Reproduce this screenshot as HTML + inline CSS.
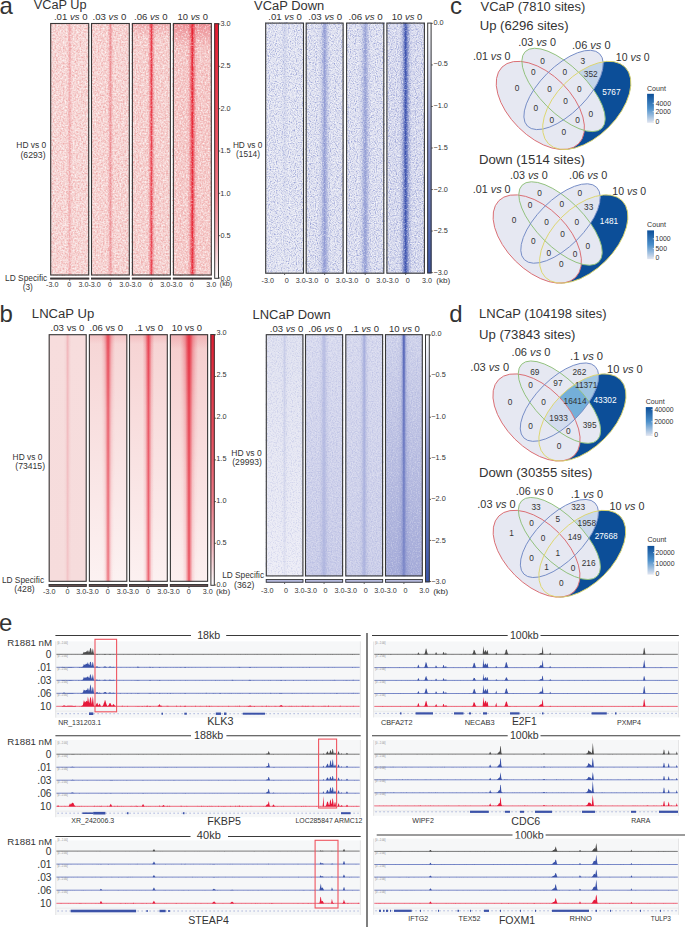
<!DOCTYPE html>
<html><head><meta charset="utf-8"><style>html,body{margin:0;padding:0;background:#fff;}svg{display:block;font-family:"Liberation Sans",sans-serif;}</style></head>
<body><svg width="685" height="927" viewBox="0 0 685 927"><defs><linearGradient id="g1" x1="0" y1="0" x2="0" y2="1"><stop offset="0" stop-color="#f6d6d5" stop-opacity="1"/><stop offset="1" stop-color="#f6d5d4" stop-opacity="1"/></linearGradient><filter id="nw0w" x="0" y="0" width="1" height="1" color-interpolation-filters="sRGB"><feTurbulence type="fractalNoise" baseFrequency="0.6" numOctaves="2" seed="3"/><feColorMatrix type="matrix" values="0 0 0 0 1  0 0 0 0 1  0 0 0 0 1  2.2 0 0 0 -1.1"/></filter><filter id="nw0d" x="0" y="0" width="1" height="1" color-interpolation-filters="sRGB"><feTurbulence type="fractalNoise" baseFrequency="0.6" numOctaves="2" seed="3"/><feColorMatrix type="matrix" values="0 0 0 0 0.925  0 0 0 0 0.612  0 0 0 0 0.612  -2.2 0 0 0 1.1"/></filter><linearGradient id="g3" x1="0" y1="0" x2="0" y2="1"><stop offset="0" stop-color="#fff" stop-opacity="0.6"/><stop offset="1" stop-color="#fff" stop-opacity="0.5"/></linearGradient><mask id="m2" maskContentUnits="userSpaceOnUse"><rect x="65.70" y="23.0" width="8.00" height="252.5" fill="url(#g3)"/></mask><linearGradient id="g4" x1="0" y1="0" x2="1" y2="0"><stop offset="0" stop-color="#eb8a8f" stop-opacity="0"/><stop offset="0.22" stop-color="#eb8a8f" stop-opacity="0.12"/><stop offset="0.38" stop-color="#eb8a8f" stop-opacity="0.55"/><stop offset="0.5" stop-color="#eb8a8f" stop-opacity="1"/><stop offset="0.62" stop-color="#eb8a8f" stop-opacity="0.55"/><stop offset="0.78" stop-color="#eb8a8f" stop-opacity="0.12"/><stop offset="1" stop-color="#eb8a8f" stop-opacity="0"/></linearGradient><filter id="nw1w" x="0" y="0" width="1" height="1" color-interpolation-filters="sRGB"><feTurbulence type="fractalNoise" baseFrequency="0.6" numOctaves="2" seed="11"/><feColorMatrix type="matrix" values="0 0 0 0 1  0 0 0 0 1  0 0 0 0 1  1.4 0 0 0 -0.7"/></filter><filter id="nw1d" x="0" y="0" width="1" height="1" color-interpolation-filters="sRGB"><feTurbulence type="fractalNoise" baseFrequency="0.6" numOctaves="2" seed="11"/><feColorMatrix type="matrix" values="0 0 0 0 0.925  0 0 0 0 0.612  0 0 0 0 0.612  -1.4 0 0 0 0.7"/></filter><linearGradient id="g5" x1="0" y1="0" x2="0" y2="1"><stop offset="0" stop-color="#f6d4d3" stop-opacity="1"/><stop offset="1" stop-color="#f6d3d2" stop-opacity="1"/></linearGradient><linearGradient id="g7" x1="0" y1="0" x2="0" y2="1"><stop offset="0" stop-color="#fff" stop-opacity="0.75"/><stop offset="1" stop-color="#fff" stop-opacity="0.65"/></linearGradient><mask id="m6" maskContentUnits="userSpaceOnUse"><rect x="106.20" y="23.0" width="8.40" height="252.5" fill="url(#g7)"/></mask><linearGradient id="g8" x1="0" y1="0" x2="1" y2="0"><stop offset="0" stop-color="#e8737a" stop-opacity="0"/><stop offset="0.22" stop-color="#e8737a" stop-opacity="0.12"/><stop offset="0.38" stop-color="#e8737a" stop-opacity="0.55"/><stop offset="0.5" stop-color="#e8737a" stop-opacity="1"/><stop offset="0.62" stop-color="#e8737a" stop-opacity="0.55"/><stop offset="0.78" stop-color="#e8737a" stop-opacity="0.12"/><stop offset="1" stop-color="#e8737a" stop-opacity="0"/></linearGradient><linearGradient id="g9" x1="0" y1="0" x2="0" y2="1"><stop offset="0" stop-color="#f5cfce" stop-opacity="1"/><stop offset="1" stop-color="#f5d1d0" stop-opacity="1"/></linearGradient><linearGradient id="g10" x1="0" y1="0" x2="0" y2="1"><stop offset="0" stop-color="#e8707c" stop-opacity="0.35"/><stop offset="1" stop-color="#e8707c" stop-opacity="0"/></linearGradient><linearGradient id="g12" x1="0" y1="0" x2="0" y2="1"><stop offset="0" stop-color="#fff" stop-opacity="0.95"/><stop offset="1" stop-color="#fff" stop-opacity="0.85"/></linearGradient><mask id="m11" maskContentUnits="userSpaceOnUse"><rect x="146.80" y="23.0" width="9.20" height="252.5" fill="url(#g12)"/></mask><linearGradient id="g13" x1="0" y1="0" x2="1" y2="0"><stop offset="0" stop-color="#e82838" stop-opacity="0"/><stop offset="0.22" stop-color="#e82838" stop-opacity="0.12"/><stop offset="0.38" stop-color="#e82838" stop-opacity="0.55"/><stop offset="0.5" stop-color="#e82838" stop-opacity="1"/><stop offset="0.62" stop-color="#e82838" stop-opacity="0.55"/><stop offset="0.78" stop-color="#e82838" stop-opacity="0.12"/><stop offset="1" stop-color="#e82838" stop-opacity="0"/></linearGradient><linearGradient id="g14" x1="0" y1="0" x2="0" y2="1"><stop offset="0" stop-color="#f4c6c6" stop-opacity="1"/><stop offset="1" stop-color="#f5cccb" stop-opacity="1"/></linearGradient><linearGradient id="g15" x1="0" y1="0" x2="0" y2="1"><stop offset="0" stop-color="#e55a68" stop-opacity="0.55"/><stop offset="1" stop-color="#e55a68" stop-opacity="0"/></linearGradient><linearGradient id="g17" x1="0" y1="0" x2="0" y2="1"><stop offset="0" stop-color="#fff" stop-opacity="1"/><stop offset="1" stop-color="#fff" stop-opacity="0.95"/></linearGradient><mask id="m16" maskContentUnits="userSpaceOnUse"><rect x="186.55" y="23.0" width="11.60" height="252.5" fill="url(#g17)"/></mask><linearGradient id="g18" x1="0" y1="0" x2="1" y2="0"><stop offset="0" stop-color="#e61e2e" stop-opacity="0"/><stop offset="0.22" stop-color="#e61e2e" stop-opacity="0.12"/><stop offset="0.38" stop-color="#e61e2e" stop-opacity="0.55"/><stop offset="0.5" stop-color="#e61e2e" stop-opacity="1"/><stop offset="0.62" stop-color="#e61e2e" stop-opacity="0.55"/><stop offset="0.78" stop-color="#e61e2e" stop-opacity="0.12"/><stop offset="1" stop-color="#e61e2e" stop-opacity="0"/></linearGradient><linearGradient id="g19" x1="0" y1="0" x2="0" y2="1"><stop offset="0" stop-color="#e31a2f" stop-opacity="1"/><stop offset="0.33" stop-color="#e84454" stop-opacity="1"/><stop offset="0.5" stop-color="#ec5a69" stop-opacity="1"/><stop offset="0.67" stop-color="#f07c88" stop-opacity="1"/><stop offset="0.83" stop-color="#f5b0b7" stop-opacity="1"/><stop offset="1" stop-color="#ffffff" stop-opacity="1"/></linearGradient><linearGradient id="g20" x1="0" y1="0" x2="0" y2="1"><stop offset="0" stop-color="#e1e3f1" stop-opacity="1"/><stop offset="1" stop-color="#e0e2f0" stop-opacity="1"/></linearGradient><filter id="nw2w" x="0" y="0" width="1" height="1" color-interpolation-filters="sRGB"><feTurbulence type="fractalNoise" baseFrequency="0.85" numOctaves="2" seed="3"/><feColorMatrix type="matrix" values="0 0 0 0 1  0 0 0 0 1  0 0 0 0 1  2.4 0 0 0 -1.2"/></filter><filter id="nw2d" x="0" y="0" width="1" height="1" color-interpolation-filters="sRGB"><feTurbulence type="fractalNoise" baseFrequency="0.85" numOctaves="2" seed="3"/><feColorMatrix type="matrix" values="0 0 0 0 0.557  0 0 0 0 0.596  0 0 0 0 0.824  -2.4 0 0 0 1.2"/></filter><linearGradient id="g22" x1="0" y1="0" x2="0" y2="1"><stop offset="0" stop-color="#fff" stop-opacity="0.55"/><stop offset="1" stop-color="#fff" stop-opacity="0.1"/></linearGradient><mask id="m21" maskContentUnits="userSpaceOnUse"><rect x="278.60" y="22.6" width="12.00" height="251.1" fill="url(#g22)"/></mask><linearGradient id="g23" x1="0" y1="0" x2="1" y2="0"><stop offset="0" stop-color="#b9c0e2" stop-opacity="0"/><stop offset="0.22" stop-color="#b9c0e2" stop-opacity="0.12"/><stop offset="0.38" stop-color="#b9c0e2" stop-opacity="0.55"/><stop offset="0.5" stop-color="#b9c0e2" stop-opacity="1"/><stop offset="0.62" stop-color="#b9c0e2" stop-opacity="0.55"/><stop offset="0.78" stop-color="#b9c0e2" stop-opacity="0.12"/><stop offset="1" stop-color="#b9c0e2" stop-opacity="0"/></linearGradient><filter id="nw3w" x="0" y="0" width="1" height="1" color-interpolation-filters="sRGB"><feTurbulence type="fractalNoise" baseFrequency="0.85" numOctaves="2" seed="11"/><feColorMatrix type="matrix" values="0 0 0 0 1  0 0 0 0 1  0 0 0 0 1  1.6 0 0 0 -0.8"/></filter><filter id="nw3d" x="0" y="0" width="1" height="1" color-interpolation-filters="sRGB"><feTurbulence type="fractalNoise" baseFrequency="0.85" numOctaves="2" seed="11"/><feColorMatrix type="matrix" values="0 0 0 0 0.557  0 0 0 0 0.596  0 0 0 0 0.824  -1.6 0 0 0 0.8"/></filter><linearGradient id="g24" x1="0" y1="0" x2="0" y2="1"><stop offset="0" stop-color="#dfe1f0" stop-opacity="1"/><stop offset="1" stop-color="#dddfef" stop-opacity="1"/></linearGradient><linearGradient id="g26" x1="0" y1="0" x2="0" y2="1"><stop offset="0" stop-color="#fff" stop-opacity="0.25"/><stop offset="1" stop-color="#fff" stop-opacity="0.55"/></linearGradient><mask id="m25" maskContentUnits="userSpaceOnUse"><rect x="318.15" y="22.6" width="13.00" height="251.1" fill="url(#g26)"/></mask><linearGradient id="g27" x1="0" y1="0" x2="1" y2="0"><stop offset="0" stop-color="#97a1d6" stop-opacity="0"/><stop offset="0.25" stop-color="#97a1d6" stop-opacity="0.35"/><stop offset="0.5" stop-color="#97a1d6" stop-opacity="1"/><stop offset="0.75" stop-color="#97a1d6" stop-opacity="0.35"/><stop offset="1" stop-color="#97a1d6" stop-opacity="0"/></linearGradient><linearGradient id="g29" x1="0" y1="0" x2="0" y2="1"><stop offset="0" stop-color="#fff" stop-opacity="0.8"/><stop offset="1" stop-color="#fff" stop-opacity="0.8"/></linearGradient><mask id="m28" maskContentUnits="userSpaceOnUse"><rect x="318.05" y="22.6" width="13.20" height="251.1" fill="url(#g29)"/></mask><linearGradient id="g30" x1="0" y1="0" x2="1" y2="0"><stop offset="0" stop-color="#8590cf" stop-opacity="0"/><stop offset="0.22" stop-color="#8590cf" stop-opacity="0.12"/><stop offset="0.38" stop-color="#8590cf" stop-opacity="0.55"/><stop offset="0.5" stop-color="#8590cf" stop-opacity="1"/><stop offset="0.62" stop-color="#8590cf" stop-opacity="0.55"/><stop offset="0.78" stop-color="#8590cf" stop-opacity="0.12"/><stop offset="1" stop-color="#8590cf" stop-opacity="0"/></linearGradient><linearGradient id="g31" x1="0" y1="0" x2="0" y2="1"><stop offset="0" stop-color="#dee0f0" stop-opacity="1"/><stop offset="1" stop-color="#dcdeef" stop-opacity="1"/></linearGradient><linearGradient id="g33" x1="0" y1="0" x2="0" y2="1"><stop offset="0" stop-color="#fff" stop-opacity="0.25"/><stop offset="1" stop-color="#fff" stop-opacity="0.55"/></linearGradient><mask id="m32" maskContentUnits="userSpaceOnUse"><rect x="358.70" y="22.6" width="13.00" height="251.1" fill="url(#g33)"/></mask><linearGradient id="g34" x1="0" y1="0" x2="1" y2="0"><stop offset="0" stop-color="#97a1d6" stop-opacity="0"/><stop offset="0.25" stop-color="#97a1d6" stop-opacity="0.35"/><stop offset="0.5" stop-color="#97a1d6" stop-opacity="1"/><stop offset="0.75" stop-color="#97a1d6" stop-opacity="0.35"/><stop offset="1" stop-color="#97a1d6" stop-opacity="0"/></linearGradient><linearGradient id="g36" x1="0" y1="0" x2="0" y2="1"><stop offset="0" stop-color="#fff" stop-opacity="0.8"/><stop offset="1" stop-color="#fff" stop-opacity="0.8"/></linearGradient><mask id="m35" maskContentUnits="userSpaceOnUse"><rect x="358.60" y="22.6" width="13.20" height="251.1" fill="url(#g36)"/></mask><linearGradient id="g37" x1="0" y1="0" x2="1" y2="0"><stop offset="0" stop-color="#8691cf" stop-opacity="0"/><stop offset="0.22" stop-color="#8691cf" stop-opacity="0.12"/><stop offset="0.38" stop-color="#8691cf" stop-opacity="0.55"/><stop offset="0.5" stop-color="#8691cf" stop-opacity="1"/><stop offset="0.62" stop-color="#8691cf" stop-opacity="0.55"/><stop offset="0.78" stop-color="#8691cf" stop-opacity="0.12"/><stop offset="1" stop-color="#8691cf" stop-opacity="0"/></linearGradient><linearGradient id="g38" x1="0" y1="0" x2="0" y2="1"><stop offset="0" stop-color="#d8daee" stop-opacity="1"/><stop offset="1" stop-color="#d6d9ed" stop-opacity="1"/></linearGradient><linearGradient id="g40" x1="0" y1="0" x2="0" y2="1"><stop offset="0" stop-color="#fff" stop-opacity="0.35"/><stop offset="1" stop-color="#fff" stop-opacity="0.6"/></linearGradient><mask id="m39" maskContentUnits="userSpaceOnUse"><rect x="399.15" y="22.6" width="13.00" height="251.1" fill="url(#g40)"/></mask><linearGradient id="g41" x1="0" y1="0" x2="1" y2="0"><stop offset="0" stop-color="#6c7bc4" stop-opacity="0"/><stop offset="0.25" stop-color="#6c7bc4" stop-opacity="0.35"/><stop offset="0.5" stop-color="#6c7bc4" stop-opacity="1"/><stop offset="0.75" stop-color="#6c7bc4" stop-opacity="0.35"/><stop offset="1" stop-color="#6c7bc4" stop-opacity="0"/></linearGradient><linearGradient id="g43" x1="0" y1="0" x2="0" y2="1"><stop offset="0" stop-color="#fff" stop-opacity="1"/><stop offset="1" stop-color="#fff" stop-opacity="1"/></linearGradient><mask id="m42" maskContentUnits="userSpaceOnUse"><rect x="399.45" y="22.6" width="12.40" height="251.1" fill="url(#g43)"/></mask><linearGradient id="g44" x1="0" y1="0" x2="1" y2="0"><stop offset="0" stop-color="#3a50ad" stop-opacity="0"/><stop offset="0.22" stop-color="#3a50ad" stop-opacity="0.12"/><stop offset="0.38" stop-color="#3a50ad" stop-opacity="0.55"/><stop offset="0.5" stop-color="#3a50ad" stop-opacity="1"/><stop offset="0.62" stop-color="#3a50ad" stop-opacity="0.55"/><stop offset="0.78" stop-color="#3a50ad" stop-opacity="0.12"/><stop offset="1" stop-color="#3a50ad" stop-opacity="0"/></linearGradient><linearGradient id="g45" x1="0" y1="0" x2="0" y2="1"><stop offset="0" stop-color="#ffffff" stop-opacity="1"/><stop offset="0.5" stop-color="#8791cb" stop-opacity="1"/><stop offset="1" stop-color="#3752a6" stop-opacity="1"/></linearGradient><linearGradient id="g46" x1="0" y1="0" x2="0" y2="1"><stop offset="0" stop-color="#f7dddd" stop-opacity="1"/><stop offset="1" stop-color="#f6dcdc" stop-opacity="1"/></linearGradient><linearGradient id="g48" x1="0" y1="0" x2="0" y2="1"><stop offset="0" stop-color="#fff" stop-opacity="0.8"/><stop offset="1" stop-color="#fff" stop-opacity="0.5"/></linearGradient><mask id="m47" maskContentUnits="userSpaceOnUse"><rect x="63.70" y="334.2" width="8.00" height="247.59999999999997" fill="url(#g48)"/></mask><linearGradient id="g49" x1="0" y1="0" x2="1" y2="0"><stop offset="0" stop-color="#eeaab0" stop-opacity="0"/><stop offset="0.22" stop-color="#eeaab0" stop-opacity="0.12"/><stop offset="0.38" stop-color="#eeaab0" stop-opacity="0.55"/><stop offset="0.5" stop-color="#eeaab0" stop-opacity="1"/><stop offset="0.62" stop-color="#eeaab0" stop-opacity="0.55"/><stop offset="0.78" stop-color="#eeaab0" stop-opacity="0.12"/><stop offset="1" stop-color="#eeaab0" stop-opacity="0"/></linearGradient><linearGradient id="g50" x1="0" y1="0" x2="0" y2="1"><stop offset="0" stop-color="#f6d5d5" stop-opacity="1"/><stop offset="1" stop-color="#fcf2f2" stop-opacity="1"/></linearGradient><linearGradient id="g51" x1="0" y1="0" x2="0" y2="1"><stop offset="0" stop-color="#e8707c" stop-opacity="0.2"/><stop offset="1" stop-color="#e8707c" stop-opacity="0"/></linearGradient><linearGradient id="g53" x1="0" y1="0" x2="0" y2="1"><stop offset="0" stop-color="#fff" stop-opacity="0.9"/><stop offset="0.08" stop-color="#fff" stop-opacity="0.6"/><stop offset="0.3" stop-color="#fff" stop-opacity="0.3"/><stop offset="0.7" stop-color="#fff" stop-opacity="0.1"/><stop offset="1" stop-color="#fff" stop-opacity="0.05"/></linearGradient><mask id="m52" maskContentUnits="userSpaceOnUse"><rect x="101.10" y="334.2" width="14.00" height="247.59999999999997" fill="url(#g53)"/></mask><linearGradient id="g54" x1="0" y1="0" x2="1" y2="0"><stop offset="0" stop-color="#ea6672" stop-opacity="0"/><stop offset="0.25" stop-color="#ea6672" stop-opacity="0.35"/><stop offset="0.5" stop-color="#ea6672" stop-opacity="1"/><stop offset="0.75" stop-color="#ea6672" stop-opacity="0.35"/><stop offset="1" stop-color="#ea6672" stop-opacity="0"/></linearGradient><linearGradient id="g56" x1="0" y1="0" x2="0" y2="1"><stop offset="0" stop-color="#fff" stop-opacity="1"/><stop offset="0.3" stop-color="#fff" stop-opacity="0.85"/><stop offset="1" stop-color="#fff" stop-opacity="0.75"/></linearGradient><mask id="m55" maskContentUnits="userSpaceOnUse"><rect x="103.10" y="334.2" width="10.00" height="247.59999999999997" fill="url(#g56)"/></mask><linearGradient id="g57" x1="0" y1="0" x2="1" y2="0"><stop offset="0" stop-color="#e84a58" stop-opacity="0"/><stop offset="0.22" stop-color="#e84a58" stop-opacity="0.12"/><stop offset="0.38" stop-color="#e84a58" stop-opacity="0.55"/><stop offset="0.5" stop-color="#e84a58" stop-opacity="1"/><stop offset="0.62" stop-color="#e84a58" stop-opacity="0.55"/><stop offset="0.78" stop-color="#e84a58" stop-opacity="0.12"/><stop offset="1" stop-color="#e84a58" stop-opacity="0"/></linearGradient><linearGradient id="g58" x1="0" y1="0" x2="0" y2="1"><stop offset="0" stop-color="#f6d3d3" stop-opacity="1"/><stop offset="1" stop-color="#fcf1f1" stop-opacity="1"/></linearGradient><linearGradient id="g59" x1="0" y1="0" x2="0" y2="1"><stop offset="0" stop-color="#e8707c" stop-opacity="0.22"/><stop offset="1" stop-color="#e8707c" stop-opacity="0"/></linearGradient><linearGradient id="g61" x1="0" y1="0" x2="0" y2="1"><stop offset="0" stop-color="#fff" stop-opacity="0.8"/><stop offset="0.08" stop-color="#fff" stop-opacity="0.5"/><stop offset="0.3" stop-color="#fff" stop-opacity="0.3"/><stop offset="0.7" stop-color="#fff" stop-opacity="0.1"/><stop offset="1" stop-color="#fff" stop-opacity="0.05"/></linearGradient><mask id="m60" maskContentUnits="userSpaceOnUse"><rect x="142.40" y="334.2" width="12.00" height="247.59999999999997" fill="url(#g61)"/></mask><linearGradient id="g62" x1="0" y1="0" x2="1" y2="0"><stop offset="0" stop-color="#ea6672" stop-opacity="0"/><stop offset="0.25" stop-color="#ea6672" stop-opacity="0.35"/><stop offset="0.5" stop-color="#ea6672" stop-opacity="1"/><stop offset="0.75" stop-color="#ea6672" stop-opacity="0.35"/><stop offset="1" stop-color="#ea6672" stop-opacity="0"/></linearGradient><linearGradient id="g64" x1="0" y1="0" x2="0" y2="1"><stop offset="0" stop-color="#fff" stop-opacity="1"/><stop offset="0.3" stop-color="#fff" stop-opacity="0.85"/><stop offset="1" stop-color="#fff" stop-opacity="0.8"/></linearGradient><mask id="m63" maskContentUnits="userSpaceOnUse"><rect x="143.00" y="334.2" width="10.80" height="247.59999999999997" fill="url(#g64)"/></mask><linearGradient id="g65" x1="0" y1="0" x2="1" y2="0"><stop offset="0" stop-color="#e84252" stop-opacity="0"/><stop offset="0.22" stop-color="#e84252" stop-opacity="0.12"/><stop offset="0.38" stop-color="#e84252" stop-opacity="0.55"/><stop offset="0.5" stop-color="#e84252" stop-opacity="1"/><stop offset="0.62" stop-color="#e84252" stop-opacity="0.55"/><stop offset="0.78" stop-color="#e84252" stop-opacity="0.12"/><stop offset="1" stop-color="#e84252" stop-opacity="0"/></linearGradient><linearGradient id="g66" x1="0" y1="0" x2="0" y2="1"><stop offset="0" stop-color="#f5cdcd" stop-opacity="1"/><stop offset="1" stop-color="#fcf0f0" stop-opacity="1"/></linearGradient><linearGradient id="g67" x1="0" y1="0" x2="0" y2="1"><stop offset="0" stop-color="#e8707c" stop-opacity="0.3"/><stop offset="1" stop-color="#e8707c" stop-opacity="0"/></linearGradient><linearGradient id="g69" x1="0" y1="0" x2="0" y2="1"><stop offset="0" stop-color="#fff" stop-opacity="1"/><stop offset="0.1" stop-color="#fff" stop-opacity="0.8"/><stop offset="0.3" stop-color="#fff" stop-opacity="0.45"/><stop offset="0.6" stop-color="#fff" stop-opacity="0.2"/><stop offset="1" stop-color="#fff" stop-opacity="0.08"/></linearGradient><mask id="m68" maskContentUnits="userSpaceOnUse"><rect x="180.00" y="334.2" width="18.00" height="247.59999999999997" fill="url(#g69)"/></mask><linearGradient id="g70" x1="0" y1="0" x2="1" y2="0"><stop offset="0" stop-color="#e8505e" stop-opacity="0"/><stop offset="0.25" stop-color="#e8505e" stop-opacity="0.35"/><stop offset="0.5" stop-color="#e8505e" stop-opacity="1"/><stop offset="0.75" stop-color="#e8505e" stop-opacity="0.35"/><stop offset="1" stop-color="#e8505e" stop-opacity="0"/></linearGradient><linearGradient id="g72" x1="0" y1="0" x2="0" y2="1"><stop offset="0" stop-color="#fff" stop-opacity="1"/><stop offset="0.3" stop-color="#fff" stop-opacity="0.9"/><stop offset="1" stop-color="#fff" stop-opacity="0.85"/></linearGradient><mask id="m71" maskContentUnits="userSpaceOnUse"><rect x="182.80" y="334.2" width="12.40" height="247.59999999999997" fill="url(#g72)"/></mask><linearGradient id="g73" x1="0" y1="0" x2="1" y2="0"><stop offset="0" stop-color="#e63444" stop-opacity="0"/><stop offset="0.22" stop-color="#e63444" stop-opacity="0.12"/><stop offset="0.38" stop-color="#e63444" stop-opacity="0.55"/><stop offset="0.5" stop-color="#e63444" stop-opacity="1"/><stop offset="0.62" stop-color="#e63444" stop-opacity="0.55"/><stop offset="0.78" stop-color="#e63444" stop-opacity="0.12"/><stop offset="1" stop-color="#e63444" stop-opacity="0"/></linearGradient><linearGradient id="g74" x1="0" y1="0" x2="0" y2="1"><stop offset="0" stop-color="#e31a2f" stop-opacity="1"/><stop offset="0.33" stop-color="#e84454" stop-opacity="1"/><stop offset="0.5" stop-color="#ec5a69" stop-opacity="1"/><stop offset="0.67" stop-color="#f07c88" stop-opacity="1"/><stop offset="0.83" stop-color="#f5b0b7" stop-opacity="1"/><stop offset="1" stop-color="#ffffff" stop-opacity="1"/></linearGradient><linearGradient id="g75" x1="0" y1="0" x2="0" y2="1"><stop offset="0" stop-color="#dfe1f0" stop-opacity="1"/><stop offset="1" stop-color="#ececf6" stop-opacity="1"/></linearGradient><filter id="nw4w" x="0" y="0" width="1" height="1" color-interpolation-filters="sRGB"><feTurbulence type="fractalNoise" baseFrequency="0.8" numOctaves="2" seed="3"/><feColorMatrix type="matrix" values="0 0 0 0 1  0 0 0 0 1  0 0 0 0 1  0.9 0 0 0 -0.45"/></filter><filter id="nw4d" x="0" y="0" width="1" height="1" color-interpolation-filters="sRGB"><feTurbulence type="fractalNoise" baseFrequency="0.8" numOctaves="2" seed="3"/><feColorMatrix type="matrix" values="0 0 0 0 0.557  0 0 0 0 0.596  0 0 0 0 0.824  -0.9 0 0 0 0.45"/></filter><linearGradient id="g77" x1="0" y1="0" x2="0" y2="1"><stop offset="0" stop-color="#fff" stop-opacity="0.7"/><stop offset="1" stop-color="#fff" stop-opacity="0.25"/></linearGradient><mask id="m76" maskContentUnits="userSpaceOnUse"><rect x="281.00" y="334.2" width="7.20" height="242.2" fill="url(#g77)"/></mask><linearGradient id="g78" x1="0" y1="0" x2="1" y2="0"><stop offset="0" stop-color="#bcc2e4" stop-opacity="0"/><stop offset="0.22" stop-color="#bcc2e4" stop-opacity="0.12"/><stop offset="0.38" stop-color="#bcc2e4" stop-opacity="0.55"/><stop offset="0.5" stop-color="#bcc2e4" stop-opacity="1"/><stop offset="0.62" stop-color="#bcc2e4" stop-opacity="0.55"/><stop offset="0.78" stop-color="#bcc2e4" stop-opacity="0.12"/><stop offset="1" stop-color="#bcc2e4" stop-opacity="0"/></linearGradient><linearGradient id="g79" x1="0" y1="0" x2="0" y2="1"><stop offset="0" stop-color="#d9dbef" stop-opacity="1"/><stop offset="1" stop-color="#c8cbe8" stop-opacity="1"/></linearGradient><linearGradient id="g81" x1="0" y1="0" x2="0" y2="1"><stop offset="0" stop-color="#fff" stop-opacity="0.3"/><stop offset="1" stop-color="#fff" stop-opacity="0.5"/></linearGradient><mask id="m80" maskContentUnits="userSpaceOnUse"><rect x="319.05" y="334.2" width="10.00" height="242.2" fill="url(#g81)"/></mask><linearGradient id="g82" x1="0" y1="0" x2="1" y2="0"><stop offset="0" stop-color="#9ea6d8" stop-opacity="0"/><stop offset="0.25" stop-color="#9ea6d8" stop-opacity="0.35"/><stop offset="0.5" stop-color="#9ea6d8" stop-opacity="1"/><stop offset="0.75" stop-color="#9ea6d8" stop-opacity="0.35"/><stop offset="1" stop-color="#9ea6d8" stop-opacity="0"/></linearGradient><linearGradient id="g84" x1="0" y1="0" x2="0" y2="1"><stop offset="0" stop-color="#fff" stop-opacity="0.6"/><stop offset="1" stop-color="#fff" stop-opacity="0.4"/></linearGradient><mask id="m83" maskContentUnits="userSpaceOnUse"><rect x="319.65" y="334.2" width="8.80" height="242.2" fill="url(#g84)"/></mask><linearGradient id="g85" x1="0" y1="0" x2="1" y2="0"><stop offset="0" stop-color="#aab1de" stop-opacity="0"/><stop offset="0.22" stop-color="#aab1de" stop-opacity="0.12"/><stop offset="0.38" stop-color="#aab1de" stop-opacity="0.55"/><stop offset="0.5" stop-color="#aab1de" stop-opacity="1"/><stop offset="0.62" stop-color="#aab1de" stop-opacity="0.55"/><stop offset="0.78" stop-color="#aab1de" stop-opacity="0.12"/><stop offset="1" stop-color="#aab1de" stop-opacity="0"/></linearGradient><linearGradient id="g86" x1="0" y1="0" x2="0" y2="1"><stop offset="0" stop-color="#d7d9ee" stop-opacity="1"/><stop offset="1" stop-color="#cbcee9" stop-opacity="1"/></linearGradient><linearGradient id="g88" x1="0" y1="0" x2="0" y2="1"><stop offset="0" stop-color="#fff" stop-opacity="0.3"/><stop offset="1" stop-color="#fff" stop-opacity="0.4"/></linearGradient><mask id="m87" maskContentUnits="userSpaceOnUse"><rect x="359.20" y="334.2" width="10.00" height="242.2" fill="url(#g88)"/></mask><linearGradient id="g89" x1="0" y1="0" x2="1" y2="0"><stop offset="0" stop-color="#9ea6d8" stop-opacity="0"/><stop offset="0.25" stop-color="#9ea6d8" stop-opacity="0.35"/><stop offset="0.5" stop-color="#9ea6d8" stop-opacity="1"/><stop offset="0.75" stop-color="#9ea6d8" stop-opacity="0.35"/><stop offset="1" stop-color="#9ea6d8" stop-opacity="0"/></linearGradient><linearGradient id="g91" x1="0" y1="0" x2="0" y2="1"><stop offset="0" stop-color="#fff" stop-opacity="0.8"/><stop offset="1" stop-color="#fff" stop-opacity="0.45"/></linearGradient><mask id="m90" maskContentUnits="userSpaceOnUse"><rect x="360.20" y="334.2" width="8.00" height="242.2" fill="url(#g91)"/></mask><linearGradient id="g92" x1="0" y1="0" x2="1" y2="0"><stop offset="0" stop-color="#9aa3d8" stop-opacity="0"/><stop offset="0.22" stop-color="#9aa3d8" stop-opacity="0.12"/><stop offset="0.38" stop-color="#9aa3d8" stop-opacity="0.55"/><stop offset="0.5" stop-color="#9aa3d8" stop-opacity="1"/><stop offset="0.62" stop-color="#9aa3d8" stop-opacity="0.55"/><stop offset="0.78" stop-color="#9aa3d8" stop-opacity="0.12"/><stop offset="1" stop-color="#9aa3d8" stop-opacity="0"/></linearGradient><linearGradient id="g93" x1="0" y1="0" x2="0" y2="1"><stop offset="0" stop-color="#d0d3eb" stop-opacity="1"/><stop offset="1" stop-color="#a6acd9" stop-opacity="1"/></linearGradient><linearGradient id="g95" x1="0" y1="0" x2="0" y2="1"><stop offset="0" stop-color="#fff" stop-opacity="0.3"/><stop offset="0.5" stop-color="#fff" stop-opacity="0.4"/><stop offset="1" stop-color="#fff" stop-opacity="0.6"/></linearGradient><mask id="m94" maskContentUnits="userSpaceOnUse"><rect x="397.90" y="334.2" width="12.00" height="242.2" fill="url(#g95)"/></mask><linearGradient id="g96" x1="0" y1="0" x2="1" y2="0"><stop offset="0" stop-color="#7a86c8" stop-opacity="0"/><stop offset="0.25" stop-color="#7a86c8" stop-opacity="0.35"/><stop offset="0.5" stop-color="#7a86c8" stop-opacity="1"/><stop offset="0.75" stop-color="#7a86c8" stop-opacity="0.35"/><stop offset="1" stop-color="#7a86c8" stop-opacity="0"/></linearGradient><linearGradient id="g98" x1="0" y1="0" x2="0" y2="1"><stop offset="0" stop-color="#fff" stop-opacity="1"/><stop offset="1" stop-color="#fff" stop-opacity="0.25"/></linearGradient><mask id="m97" maskContentUnits="userSpaceOnUse"><rect x="400.50" y="334.2" width="6.80" height="242.2" fill="url(#g98)"/></mask><linearGradient id="g99" x1="0" y1="0" x2="1" y2="0"><stop offset="0" stop-color="#3f52b0" stop-opacity="0"/><stop offset="0.22" stop-color="#3f52b0" stop-opacity="0.12"/><stop offset="0.38" stop-color="#3f52b0" stop-opacity="0.55"/><stop offset="0.5" stop-color="#3f52b0" stop-opacity="1"/><stop offset="0.62" stop-color="#3f52b0" stop-opacity="0.55"/><stop offset="0.78" stop-color="#3f52b0" stop-opacity="0.12"/><stop offset="1" stop-color="#3f52b0" stop-opacity="0"/></linearGradient><linearGradient id="g100" x1="0" y1="0" x2="0" y2="1"><stop offset="0" stop-color="#ffffff" stop-opacity="1"/><stop offset="0.5" stop-color="#8791cb" stop-opacity="1"/><stop offset="1" stop-color="#3752a6" stop-opacity="1"/></linearGradient><clipPath id="v1c0"><ellipse cx="540.32" cy="105.42" rx="54.18" ry="30.96" transform="rotate(-135 540.32 105.42)"/></clipPath><clipPath id="v1c1"><ellipse cx="563.54" cy="89.94" rx="54.18" ry="23.22" transform="rotate(-135 563.54 89.94)"/></clipPath><clipPath id="v1c2"><ellipse cx="563.54" cy="89.94" rx="51.08" ry="23.22" transform="rotate(-45 563.54 89.94)"/></clipPath><clipPath id="v1c3"><ellipse cx="586.76" cy="105.42" rx="54.18" ry="30.96" transform="rotate(-45 586.76 105.42)"/></clipPath><mask id="mk101" maskUnits="userSpaceOnUse" x="0" y="0" width="685" height="927"><rect x="0" y="0" width="685" height="927" fill="#fff"/><ellipse fill="#000" cx="540.32" cy="105.42" rx="54.18" ry="30.96" transform="rotate(-135 540.32 105.42)"/><ellipse fill="#000" cx="563.54" cy="89.94" rx="54.18" ry="23.22" transform="rotate(-135 563.54 89.94)"/><ellipse fill="#000" cx="563.54" cy="89.94" rx="51.08" ry="23.22" transform="rotate(-45 563.54 89.94)"/></mask><mask id="mk102" maskUnits="userSpaceOnUse" x="0" y="0" width="685" height="927"><rect x="0" y="0" width="685" height="927" fill="#fff"/><ellipse fill="#000" cx="540.32" cy="105.42" rx="54.18" ry="30.96" transform="rotate(-135 540.32 105.42)"/><ellipse fill="#000" cx="563.54" cy="89.94" rx="54.18" ry="23.22" transform="rotate(-135 563.54 89.94)"/></mask><linearGradient id="g103" x1="0" y1="0" x2="0" y2="1"><stop offset="0" stop-color="#0c4e98" stop-opacity="1"/><stop offset="0.5" stop-color="#4b8fca" stop-opacity="1"/><stop offset="1" stop-color="#e1e5f0" stop-opacity="1"/></linearGradient><clipPath id="v2c0"><ellipse cx="537.25" cy="239.00" rx="54.25" ry="31.00" transform="rotate(-135 537.25 239.00)"/></clipPath><clipPath id="v2c1"><ellipse cx="560.50" cy="223.50" rx="54.25" ry="23.25" transform="rotate(-135 560.50 223.50)"/></clipPath><clipPath id="v2c2"><ellipse cx="560.50" cy="223.50" rx="51.15" ry="23.25" transform="rotate(-45 560.50 223.50)"/></clipPath><clipPath id="v2c3"><ellipse cx="583.75" cy="239.00" rx="54.25" ry="31.00" transform="rotate(-45 583.75 239.00)"/></clipPath><mask id="mk104" maskUnits="userSpaceOnUse" x="0" y="0" width="685" height="927"><rect x="0" y="0" width="685" height="927" fill="#fff"/><ellipse fill="#000" cx="537.25" cy="239.00" rx="54.25" ry="31.00" transform="rotate(-135 537.25 239.00)"/><ellipse fill="#000" cx="560.50" cy="223.50" rx="54.25" ry="23.25" transform="rotate(-135 560.50 223.50)"/><ellipse fill="#000" cx="560.50" cy="223.50" rx="51.15" ry="23.25" transform="rotate(-45 560.50 223.50)"/></mask><mask id="mk105" maskUnits="userSpaceOnUse" x="0" y="0" width="685" height="927"><rect x="0" y="0" width="685" height="927" fill="#fff"/><ellipse fill="#000" cx="537.25" cy="239.00" rx="54.25" ry="31.00" transform="rotate(-135 537.25 239.00)"/><ellipse fill="#000" cx="560.50" cy="223.50" rx="54.25" ry="23.25" transform="rotate(-135 560.50 223.50)"/></mask><linearGradient id="g106" x1="0" y1="0" x2="0" y2="1"><stop offset="0" stop-color="#0c4e98" stop-opacity="1"/><stop offset="0.5" stop-color="#4b8fca" stop-opacity="1"/><stop offset="1" stop-color="#e1e5f0" stop-opacity="1"/></linearGradient><clipPath id="v3c0"><ellipse cx="536.51" cy="417.46" rx="53.55" ry="30.60" transform="rotate(-135 536.51 417.46)"/></clipPath><clipPath id="v3c1"><ellipse cx="559.46" cy="402.16" rx="53.55" ry="22.95" transform="rotate(-135 559.46 402.16)"/></clipPath><clipPath id="v3c2"><ellipse cx="559.46" cy="402.16" rx="50.49" ry="22.95" transform="rotate(-45 559.46 402.16)"/></clipPath><clipPath id="v3c3"><ellipse cx="582.41" cy="417.46" rx="53.55" ry="30.60" transform="rotate(-45 582.41 417.46)"/></clipPath><mask id="mk107" maskUnits="userSpaceOnUse" x="0" y="0" width="685" height="927"><rect x="0" y="0" width="685" height="927" fill="#fff"/><ellipse fill="#000" cx="536.51" cy="417.46" rx="53.55" ry="30.60" transform="rotate(-135 536.51 417.46)"/><ellipse fill="#000" cx="559.46" cy="402.16" rx="53.55" ry="22.95" transform="rotate(-135 559.46 402.16)"/><ellipse fill="#000" cx="559.46" cy="402.16" rx="50.49" ry="22.95" transform="rotate(-45 559.46 402.16)"/></mask><mask id="mk108" maskUnits="userSpaceOnUse" x="0" y="0" width="685" height="927"><rect x="0" y="0" width="685" height="927" fill="#fff"/><ellipse fill="#000" cx="536.51" cy="417.46" rx="53.55" ry="30.60" transform="rotate(-135 536.51 417.46)"/><ellipse fill="#000" cx="559.46" cy="402.16" rx="53.55" ry="22.95" transform="rotate(-135 559.46 402.16)"/></mask><mask id="mk109" maskUnits="userSpaceOnUse" x="0" y="0" width="685" height="927"><rect x="0" y="0" width="685" height="927" fill="#fff"/><ellipse fill="#000" cx="536.51" cy="417.46" rx="53.55" ry="30.60" transform="rotate(-135 536.51 417.46)"/></mask><mask id="mk110" maskUnits="userSpaceOnUse" x="0" y="0" width="685" height="927"><rect x="0" y="0" width="685" height="927" fill="#fff"/></mask><linearGradient id="g111" x1="0" y1="0" x2="0" y2="1"><stop offset="0" stop-color="#0c4e98" stop-opacity="1"/><stop offset="0.5" stop-color="#4b8fca" stop-opacity="1"/><stop offset="1" stop-color="#e1e5f0" stop-opacity="1"/></linearGradient><clipPath id="v4c0"><ellipse cx="536.54" cy="553.73" rx="53.34" ry="30.48" transform="rotate(-135 536.54 553.73)"/></clipPath><clipPath id="v4c1"><ellipse cx="559.40" cy="538.49" rx="53.34" ry="22.86" transform="rotate(-135 559.40 538.49)"/></clipPath><clipPath id="v4c2"><ellipse cx="559.40" cy="538.49" rx="50.29" ry="22.86" transform="rotate(-45 559.40 538.49)"/></clipPath><clipPath id="v4c3"><ellipse cx="582.26" cy="553.73" rx="53.34" ry="30.48" transform="rotate(-45 582.26 553.73)"/></clipPath><mask id="mk112" maskUnits="userSpaceOnUse" x="0" y="0" width="685" height="927"><rect x="0" y="0" width="685" height="927" fill="#fff"/><ellipse fill="#000" cx="536.54" cy="553.73" rx="53.34" ry="30.48" transform="rotate(-135 536.54 553.73)"/><ellipse fill="#000" cx="559.40" cy="538.49" rx="53.34" ry="22.86" transform="rotate(-135 559.40 538.49)"/><ellipse fill="#000" cx="559.40" cy="538.49" rx="50.29" ry="22.86" transform="rotate(-45 559.40 538.49)"/></mask><mask id="mk113" maskUnits="userSpaceOnUse" x="0" y="0" width="685" height="927"><rect x="0" y="0" width="685" height="927" fill="#fff"/><ellipse fill="#000" cx="536.54" cy="553.73" rx="53.34" ry="30.48" transform="rotate(-135 536.54 553.73)"/><ellipse fill="#000" cx="559.40" cy="538.49" rx="53.34" ry="22.86" transform="rotate(-135 559.40 538.49)"/></mask><linearGradient id="g114" x1="0" y1="0" x2="0" y2="1"><stop offset="0" stop-color="#0c4e98" stop-opacity="1"/><stop offset="0.5" stop-color="#4b8fca" stop-opacity="1"/><stop offset="1" stop-color="#e1e5f0" stop-opacity="1"/></linearGradient></defs><text x="-0.60" y="13.90" font-size="24" fill="#333333">a</text><text x="33.80" y="9.20" font-size="12.5" fill="#333333" textLength="52.79" lengthAdjust="spacingAndGlyphs">VCaP Up</text><text x="254.10" y="9.50" font-size="12.5" fill="#333333" textLength="70.08" lengthAdjust="spacingAndGlyphs">VCaP Down</text><text x="53.95" y="20.30" font-size="9.0" fill="#333333" textLength="33.59" lengthAdjust="spacingAndGlyphs">.01 <tspan font-style="italic">vs</tspan> 0</text><text x="92.54" y="20.30" font-size="9.0" fill="#333333" textLength="33.79" lengthAdjust="spacingAndGlyphs">.03 <tspan font-style="italic">vs</tspan> 0</text><text x="134.05" y="20.30" font-size="9.0" fill="#333333" textLength="33.59" lengthAdjust="spacingAndGlyphs">.06 <tspan font-style="italic">vs</tspan> 0</text><text x="177.57" y="20.30" font-size="9.0" fill="#333333" textLength="30.36" lengthAdjust="spacingAndGlyphs">10 <tspan font-style="italic">vs</tspan> 0</text><rect x="50.20" y="23.00" width="39.00" height="252.50" fill="url(#g1)" stroke="none" stroke-width="1"/><rect x="50.20" y="23.00" width="39.00" height="252.50" fill="#000" stroke="none" stroke-width="1" filter="url(#nw0w)"/><rect x="50.20" y="23.00" width="39.00" height="252.50" fill="#000" stroke="none" stroke-width="1" filter="url(#nw0d)"/><rect x="65.70" y="23.00" width="8.00" height="252.50" fill="url(#g4)" stroke="none" stroke-width="1" mask="url(#m2)"/><rect x="65.70" y="23.00" width="8.00" height="252.50" fill="#000" stroke="none" stroke-width="1" filter="url(#nw1w)"/><rect x="50.70" y="23.50" width="38.00" height="251.50" fill="none" stroke="#383838" stroke-width="1.1"/><rect x="50.20" y="277.70" width="39.00" height="1.70" fill="#8a5a5e" stroke="none" stroke-width="1"/><rect x="50.65" y="278.15" width="38.10" height="0.80" fill="none" stroke="#383838" stroke-width="0.9"/><rect x="91.00" y="23.00" width="38.80" height="252.50" fill="url(#g5)" stroke="none" stroke-width="1"/><rect x="91.00" y="23.00" width="38.80" height="252.50" fill="#000" stroke="none" stroke-width="1" filter="url(#nw0w)"/><rect x="91.00" y="23.00" width="38.80" height="252.50" fill="#000" stroke="none" stroke-width="1" filter="url(#nw0d)"/><rect x="106.20" y="23.00" width="8.40" height="252.50" fill="url(#g8)" stroke="none" stroke-width="1" mask="url(#m6)"/><rect x="106.20" y="23.00" width="8.40" height="252.50" fill="#000" stroke="none" stroke-width="1" filter="url(#nw1w)"/><rect x="91.50" y="23.50" width="37.80" height="251.50" fill="none" stroke="#383838" stroke-width="1.1"/><rect x="91.00" y="277.70" width="38.80" height="1.70" fill="#8a5a5e" stroke="none" stroke-width="1"/><rect x="91.45" y="278.15" width="37.90" height="0.80" fill="none" stroke="#383838" stroke-width="0.9"/><rect x="131.90" y="23.00" width="39.00" height="252.50" fill="url(#g9)" stroke="none" stroke-width="1"/><rect x="131.90" y="23.00" width="39.00" height="15.15" fill="url(#g10)" stroke="none" stroke-width="1"/><rect x="131.90" y="23.00" width="39.00" height="252.50" fill="#000" stroke="none" stroke-width="1" filter="url(#nw0w)"/><rect x="131.90" y="23.00" width="39.00" height="252.50" fill="#000" stroke="none" stroke-width="1" filter="url(#nw0d)"/><rect x="146.80" y="23.00" width="9.20" height="252.50" fill="url(#g13)" stroke="none" stroke-width="1" mask="url(#m11)"/><rect x="146.80" y="23.00" width="9.20" height="252.50" fill="#000" stroke="none" stroke-width="1" filter="url(#nw1w)"/><rect x="132.40" y="23.50" width="38.00" height="251.50" fill="none" stroke="#383838" stroke-width="1.1"/><rect x="131.90" y="277.70" width="39.00" height="1.70" fill="#8a5a5e" stroke="none" stroke-width="1"/><rect x="132.35" y="278.15" width="38.10" height="0.80" fill="none" stroke="#383838" stroke-width="0.9"/><rect x="172.90" y="23.00" width="38.90" height="252.50" fill="url(#g14)" stroke="none" stroke-width="1"/><rect x="172.90" y="23.00" width="38.90" height="25.25" fill="url(#g15)" stroke="none" stroke-width="1"/><rect x="172.90" y="23.00" width="38.90" height="252.50" fill="#000" stroke="none" stroke-width="1" filter="url(#nw0w)"/><rect x="172.90" y="23.00" width="38.90" height="252.50" fill="#000" stroke="none" stroke-width="1" filter="url(#nw0d)"/><rect x="186.55" y="23.00" width="11.60" height="252.50" fill="url(#g18)" stroke="none" stroke-width="1" mask="url(#m16)"/><rect x="186.55" y="23.00" width="11.60" height="252.50" fill="#000" stroke="none" stroke-width="1" filter="url(#nw1w)"/><rect x="173.40" y="23.50" width="37.90" height="251.50" fill="none" stroke="#383838" stroke-width="1.1"/><rect x="172.90" y="277.70" width="38.90" height="1.70" fill="#8a5a5e" stroke="none" stroke-width="1"/><rect x="173.35" y="278.15" width="38.00" height="0.80" fill="none" stroke="#383838" stroke-width="0.9"/><rect x="214.20" y="23.20" width="4.80" height="255.60" fill="url(#g19)" stroke="none" stroke-width="1"/><rect x="214.70" y="23.70" width="3.80" height="254.60" fill="none" stroke="#383838" stroke-width="1.0"/><line x1="218.50" y1="24.00" x2="220.20" y2="24.00" stroke="#383838" stroke-width="0.8"/><text x="220.50" y="26.00" font-size="7.3" fill="#333333">3.0</text><line x1="218.50" y1="66.33" x2="220.20" y2="66.33" stroke="#383838" stroke-width="0.8"/><text x="220.40" y="68.45" font-size="7.3" fill="#333333">2.5</text><line x1="218.50" y1="108.67" x2="220.20" y2="108.67" stroke="#383838" stroke-width="0.8"/><text x="220.40" y="110.90" font-size="7.3" fill="#333333">2.0</text><line x1="218.50" y1="151.00" x2="220.20" y2="151.00" stroke="#383838" stroke-width="0.8"/><text x="220.30" y="153.35" font-size="7.3" fill="#333333">1.5</text><line x1="218.50" y1="193.33" x2="220.20" y2="193.33" stroke="#383838" stroke-width="0.8"/><text x="220.30" y="195.80" font-size="7.3" fill="#333333">1.0</text><line x1="218.50" y1="235.67" x2="220.20" y2="235.67" stroke="#383838" stroke-width="0.8"/><text x="220.50" y="238.25" font-size="7.3" fill="#333333">0.5</text><line x1="218.50" y1="278.00" x2="220.20" y2="278.00" stroke="#383838" stroke-width="0.8"/><text x="220.50" y="280.70" font-size="7.3" fill="#333333">0.0</text><text x="219.80" y="286.20" font-size="7.3" fill="#333333" textLength="12.46" lengthAdjust="spacingAndGlyphs">(kb)</text><line x1="69.70" y1="279.40" x2="69.70" y2="280.70" stroke="#383838" stroke-width="0.8"/><line x1="110.40" y1="279.40" x2="110.40" y2="280.70" stroke="#383838" stroke-width="0.8"/><line x1="151.40" y1="279.40" x2="151.40" y2="280.70" stroke="#383838" stroke-width="0.8"/><line x1="192.35" y1="279.40" x2="192.35" y2="280.70" stroke="#383838" stroke-width="0.8"/><text x="67.20" y="286.80" font-size="7.2" fill="#333333">0</text><text x="107.90" y="286.80" font-size="7.2" fill="#333333">0</text><text x="148.90" y="286.80" font-size="7.2" fill="#333333">0</text><text x="189.85" y="286.80" font-size="7.2" fill="#333333">0</text><text x="46.00" y="286.80" font-size="7.2" fill="#333333">-3.0</text><text x="78.40" y="286.80" font-size="7.2" fill="#333333">3.0-3.0</text><text x="119.15" y="286.80" font-size="7.2" fill="#333333">3.0-3.0</text><text x="160.20" y="286.80" font-size="7.2" fill="#333333">3.0-3.0</text><text x="206.30" y="286.80" font-size="7.2" fill="#333333">3.0</text><text x="16.39" y="148.00" font-size="8.3" fill="#333333" textLength="29.93" lengthAdjust="spacingAndGlyphs">HD vs 0</text><text x="20.48" y="157.60" font-size="8.3" fill="#333333" textLength="25.14" lengthAdjust="spacingAndGlyphs">(6293)</text><text x="5.10" y="281.00" font-size="8.3" fill="#333333" textLength="42.18" lengthAdjust="spacingAndGlyphs">LD Specific</text><text x="22.70" y="289.80" font-size="8.3" fill="#333333">(3)</text><text x="268.35" y="20.30" font-size="9.0" fill="#333333" textLength="33.59" lengthAdjust="spacingAndGlyphs">.01 <tspan font-style="italic">vs</tspan> 0</text><text x="308.24" y="20.30" font-size="9.0" fill="#333333" textLength="34.00" lengthAdjust="spacingAndGlyphs">.03 <tspan font-style="italic">vs</tspan> 0</text><text x="348.53" y="20.30" font-size="9.0" fill="#333333" textLength="34.11" lengthAdjust="spacingAndGlyphs">.06 <tspan font-style="italic">vs</tspan> 0</text><text x="391.76" y="20.30" font-size="9.0" fill="#333333" textLength="30.57" lengthAdjust="spacingAndGlyphs">10 <tspan font-style="italic">vs</tspan> 0</text><rect x="265.20" y="22.60" width="38.80" height="251.10" fill="url(#g20)" stroke="none" stroke-width="1"/><rect x="265.20" y="22.60" width="38.80" height="251.10" fill="#000" stroke="none" stroke-width="1" filter="url(#nw2w)"/><rect x="265.20" y="22.60" width="38.80" height="251.10" fill="#000" stroke="none" stroke-width="1" filter="url(#nw2d)"/><rect x="278.60" y="22.60" width="12.00" height="251.10" fill="url(#g23)" stroke="none" stroke-width="1" mask="url(#m21)"/><rect x="278.60" y="22.60" width="12.00" height="251.10" fill="#000" stroke="none" stroke-width="1" filter="url(#nw3w)"/><rect x="265.70" y="23.10" width="37.80" height="250.10" fill="none" stroke="#383838" stroke-width="1.1"/><rect x="305.70" y="22.60" width="37.90" height="251.10" fill="url(#g24)" stroke="none" stroke-width="1"/><rect x="305.70" y="22.60" width="37.90" height="251.10" fill="#000" stroke="none" stroke-width="1" filter="url(#nw2w)"/><rect x="305.70" y="22.60" width="37.90" height="251.10" fill="#000" stroke="none" stroke-width="1" filter="url(#nw2d)"/><rect x="318.15" y="22.60" width="13.00" height="251.10" fill="url(#g27)" stroke="none" stroke-width="1" mask="url(#m25)"/><rect x="318.05" y="22.60" width="13.20" height="251.10" fill="url(#g30)" stroke="none" stroke-width="1" mask="url(#m28)"/><rect x="318.05" y="22.60" width="13.20" height="251.10" fill="#000" stroke="none" stroke-width="1" filter="url(#nw3w)"/><rect x="306.20" y="23.10" width="36.90" height="250.10" fill="none" stroke="#383838" stroke-width="1.1"/><rect x="346.10" y="22.60" width="38.20" height="251.10" fill="url(#g31)" stroke="none" stroke-width="1"/><rect x="346.10" y="22.60" width="38.20" height="251.10" fill="#000" stroke="none" stroke-width="1" filter="url(#nw2w)"/><rect x="346.10" y="22.60" width="38.20" height="251.10" fill="#000" stroke="none" stroke-width="1" filter="url(#nw2d)"/><rect x="358.70" y="22.60" width="13.00" height="251.10" fill="url(#g34)" stroke="none" stroke-width="1" mask="url(#m32)"/><rect x="358.60" y="22.60" width="13.20" height="251.10" fill="url(#g37)" stroke="none" stroke-width="1" mask="url(#m35)"/><rect x="358.60" y="22.60" width="13.20" height="251.10" fill="#000" stroke="none" stroke-width="1" filter="url(#nw3w)"/><rect x="346.60" y="23.10" width="37.20" height="250.10" fill="none" stroke="#383838" stroke-width="1.1"/><rect x="386.40" y="22.60" width="38.50" height="251.10" fill="url(#g38)" stroke="none" stroke-width="1"/><rect x="386.40" y="22.60" width="38.50" height="251.10" fill="#000" stroke="none" stroke-width="1" filter="url(#nw2w)"/><rect x="386.40" y="22.60" width="38.50" height="251.10" fill="#000" stroke="none" stroke-width="1" filter="url(#nw2d)"/><rect x="399.15" y="22.60" width="13.00" height="251.10" fill="url(#g41)" stroke="none" stroke-width="1" mask="url(#m39)"/><rect x="399.45" y="22.60" width="12.40" height="251.10" fill="url(#g44)" stroke="none" stroke-width="1" mask="url(#m42)"/><rect x="399.45" y="22.60" width="12.40" height="251.10" fill="#000" stroke="none" stroke-width="1" filter="url(#nw3w)"/><rect x="386.90" y="23.10" width="37.50" height="250.10" fill="none" stroke="#383838" stroke-width="1.1"/><rect x="427.20" y="22.60" width="4.40" height="250.80" fill="url(#g45)" stroke="none" stroke-width="1"/><rect x="427.70" y="23.10" width="3.40" height="249.80" fill="none" stroke="#383838" stroke-width="1.0"/><line x1="431.10" y1="23.40" x2="432.80" y2="23.40" stroke="#383838" stroke-width="0.8"/><text x="433.40" y="24.60" font-size="7.3" fill="#333333">0.0</text><line x1="431.10" y1="64.93" x2="432.80" y2="64.93" stroke="#383838" stroke-width="0.8"/><text x="433.40" y="66.37" font-size="7.3" fill="#333333">−0.5</text><line x1="431.10" y1="106.47" x2="432.80" y2="106.47" stroke="#383838" stroke-width="0.8"/><text x="433.40" y="108.13" font-size="7.3" fill="#333333">−1.0</text><line x1="431.10" y1="148.00" x2="432.80" y2="148.00" stroke="#383838" stroke-width="0.8"/><text x="433.40" y="149.90" font-size="7.3" fill="#333333">−1.5</text><line x1="431.10" y1="189.53" x2="432.80" y2="189.53" stroke="#383838" stroke-width="0.8"/><text x="433.40" y="191.67" font-size="7.3" fill="#333333">−2.0</text><line x1="431.10" y1="231.07" x2="432.80" y2="231.07" stroke="#383838" stroke-width="0.8"/><text x="433.40" y="233.43" font-size="7.3" fill="#333333">−2.5</text><line x1="431.10" y1="272.60" x2="432.80" y2="272.60" stroke="#383838" stroke-width="0.8"/><text x="433.40" y="275.20" font-size="7.3" fill="#333333">−3.0</text><text x="436.26" y="282.60" font-size="7.3" fill="#333333" textLength="13.97" lengthAdjust="spacingAndGlyphs">(kb)</text><line x1="284.60" y1="273.70" x2="284.60" y2="275.00" stroke="#383838" stroke-width="0.8"/><line x1="324.65" y1="273.70" x2="324.65" y2="275.00" stroke="#383838" stroke-width="0.8"/><line x1="365.20" y1="273.70" x2="365.20" y2="275.00" stroke="#383838" stroke-width="0.8"/><line x1="405.65" y1="273.70" x2="405.65" y2="275.00" stroke="#383838" stroke-width="0.8"/><text x="284.80" y="282.70" font-size="7.2" fill="#333333">0</text><text x="324.85" y="282.70" font-size="7.2" fill="#333333">0</text><text x="365.40" y="282.70" font-size="7.2" fill="#333333">0</text><text x="405.85" y="282.70" font-size="7.2" fill="#333333">0</text><text x="261.50" y="282.70" font-size="7.2" fill="#333333">-3.0</text><text x="295.85" y="282.70" font-size="7.2" fill="#333333">3.0-3.0</text><text x="335.85" y="282.70" font-size="7.2" fill="#333333">3.0-3.0</text><text x="376.35" y="282.70" font-size="7.2" fill="#333333">3.0-3.0</text><text x="422.10" y="282.70" font-size="7.2" fill="#333333">3.0</text><text x="232.90" y="147.80" font-size="8.3" fill="#333333" textLength="29.41" lengthAdjust="spacingAndGlyphs">HD vs 0</text><text x="236.00" y="157.00" font-size="8.3" fill="#333333" textLength="23.99" lengthAdjust="spacingAndGlyphs">(1514)</text><text x="-0.60" y="321.80" font-size="24" fill="#333333">b</text><text x="31.85" y="318.10" font-size="12.5" fill="#333333" textLength="62.39" lengthAdjust="spacingAndGlyphs">LNCaP Up</text><text x="252.56" y="319.20" font-size="12.5" fill="#333333" textLength="78.26" lengthAdjust="spacingAndGlyphs">LNCaP Down</text><text x="50.54" y="331.00" font-size="9.0" fill="#333333" textLength="34.00" lengthAdjust="spacingAndGlyphs">.03 vs 0</text><text x="89.55" y="331.00" font-size="9.0" fill="#333333" textLength="33.48" lengthAdjust="spacingAndGlyphs">.06 vs 0</text><text x="134.74" y="331.00" font-size="9.0" fill="#333333" textLength="28.49" lengthAdjust="spacingAndGlyphs">.1 vs 0</text><text x="171.66" y="331.00" font-size="9.0" fill="#333333" textLength="30.46" lengthAdjust="spacingAndGlyphs">10 vs 0</text><rect x="48.70" y="334.20" width="38.00" height="247.60" fill="url(#g46)" stroke="none" stroke-width="1"/><rect x="63.70" y="334.20" width="8.00" height="247.60" fill="url(#g49)" stroke="none" stroke-width="1" mask="url(#m47)"/><rect x="49.20" y="334.70" width="37.00" height="246.60" fill="none" stroke="#383838" stroke-width="1.1"/><rect x="48.70" y="584.00" width="38.00" height="2.80" fill="#6a5052" stroke="none" stroke-width="1"/><rect x="49.15" y="584.45" width="37.10" height="1.90" fill="none" stroke="#383838" stroke-width="0.9"/><rect x="88.90" y="334.20" width="38.40" height="247.60" fill="url(#g50)" stroke="none" stroke-width="1"/><rect x="88.90" y="334.20" width="38.40" height="9.90" fill="url(#g51)" stroke="none" stroke-width="1"/><rect x="101.10" y="334.20" width="14.00" height="247.60" fill="url(#g54)" stroke="none" stroke-width="1" mask="url(#m52)"/><rect x="103.10" y="334.20" width="10.00" height="247.60" fill="url(#g57)" stroke="none" stroke-width="1" mask="url(#m55)"/><rect x="89.40" y="334.70" width="37.40" height="246.60" fill="none" stroke="#383838" stroke-width="1.1"/><rect x="88.90" y="584.00" width="38.40" height="2.80" fill="#6a5052" stroke="none" stroke-width="1"/><rect x="89.35" y="584.45" width="37.50" height="1.90" fill="none" stroke="#383838" stroke-width="0.9"/><rect x="129.00" y="334.20" width="38.80" height="247.60" fill="url(#g58)" stroke="none" stroke-width="1"/><rect x="129.00" y="334.20" width="38.80" height="9.90" fill="url(#g59)" stroke="none" stroke-width="1"/><rect x="142.40" y="334.20" width="12.00" height="247.60" fill="url(#g62)" stroke="none" stroke-width="1" mask="url(#m60)"/><rect x="143.00" y="334.20" width="10.80" height="247.60" fill="url(#g65)" stroke="none" stroke-width="1" mask="url(#m63)"/><rect x="129.50" y="334.70" width="37.80" height="246.60" fill="none" stroke="#383838" stroke-width="1.1"/><rect x="129.00" y="584.00" width="38.80" height="2.80" fill="#6a5052" stroke="none" stroke-width="1"/><rect x="129.45" y="584.45" width="37.90" height="1.90" fill="none" stroke="#383838" stroke-width="0.9"/><rect x="169.90" y="334.20" width="38.20" height="247.60" fill="url(#g66)" stroke="none" stroke-width="1"/><rect x="169.90" y="334.20" width="38.20" height="14.86" fill="url(#g67)" stroke="none" stroke-width="1"/><rect x="180.00" y="334.20" width="18.00" height="247.60" fill="url(#g70)" stroke="none" stroke-width="1" mask="url(#m68)"/><rect x="182.80" y="334.20" width="12.40" height="247.60" fill="url(#g73)" stroke="none" stroke-width="1" mask="url(#m71)"/><rect x="170.40" y="334.70" width="37.20" height="246.60" fill="none" stroke="#383838" stroke-width="1.1"/><rect x="169.90" y="584.00" width="38.20" height="2.80" fill="#6a5052" stroke="none" stroke-width="1"/><rect x="170.35" y="584.45" width="37.30" height="1.90" fill="none" stroke="#383838" stroke-width="0.9"/><rect x="210.40" y="334.00" width="4.40" height="251.80" fill="url(#g74)" stroke="none" stroke-width="1"/><rect x="210.90" y="334.50" width="3.40" height="250.80" fill="none" stroke="#383838" stroke-width="1.0"/><line x1="214.30" y1="334.80" x2="216.00" y2="334.80" stroke="#383838" stroke-width="0.8"/><text x="216.50" y="334.70" font-size="7.3" fill="#333333">3.0</text><line x1="214.30" y1="376.50" x2="216.00" y2="376.50" stroke="#383838" stroke-width="0.8"/><text x="216.40" y="376.68" font-size="7.3" fill="#333333">2.5</text><line x1="214.30" y1="418.20" x2="216.00" y2="418.20" stroke="#383838" stroke-width="0.8"/><text x="216.40" y="418.67" font-size="7.3" fill="#333333">2.0</text><line x1="214.30" y1="459.90" x2="216.00" y2="459.90" stroke="#383838" stroke-width="0.8"/><text x="216.30" y="460.65" font-size="7.3" fill="#333333">1.5</text><line x1="214.30" y1="501.60" x2="216.00" y2="501.60" stroke="#383838" stroke-width="0.8"/><text x="216.30" y="502.63" font-size="7.3" fill="#333333">1.0</text><line x1="214.30" y1="543.30" x2="216.00" y2="543.30" stroke="#383838" stroke-width="0.8"/><text x="216.50" y="544.62" font-size="7.3" fill="#333333">0.5</text><line x1="214.30" y1="585.00" x2="216.00" y2="585.00" stroke="#383838" stroke-width="0.8"/><text x="216.50" y="586.60" font-size="7.3" fill="#333333">0.0</text><text x="215.95" y="593.70" font-size="7.3" fill="#333333" textLength="14.29" lengthAdjust="spacingAndGlyphs">(kb)</text><line x1="67.70" y1="586.80" x2="67.70" y2="588.10" stroke="#383838" stroke-width="0.8"/><line x1="108.10" y1="586.80" x2="108.10" y2="588.10" stroke="#383838" stroke-width="0.8"/><line x1="148.40" y1="586.80" x2="148.40" y2="588.10" stroke="#383838" stroke-width="0.8"/><line x1="189.00" y1="586.80" x2="189.00" y2="588.10" stroke="#383838" stroke-width="0.8"/><text x="65.40" y="593.80" font-size="7.2" fill="#333333">0</text><text x="105.80" y="593.80" font-size="7.2" fill="#333333">0</text><text x="146.10" y="593.80" font-size="7.2" fill="#333333">0</text><text x="186.70" y="593.80" font-size="7.2" fill="#333333">0</text><text x="43.00" y="593.80" font-size="7.2" fill="#333333">-3.0</text><text x="76.30" y="593.80" font-size="7.2" fill="#333333">3.0-3.0</text><text x="116.65" y="593.80" font-size="7.2" fill="#333333">3.0-3.0</text><text x="157.35" y="593.80" font-size="7.2" fill="#333333">3.0-3.0</text><text x="202.80" y="593.80" font-size="7.2" fill="#333333">3.0</text><text x="12.60" y="459.60" font-size="8.3" fill="#333333" textLength="29.72" lengthAdjust="spacingAndGlyphs">HD vs 0</text><text x="15.28" y="469.00" font-size="8.3" fill="#333333" textLength="29.75" lengthAdjust="spacingAndGlyphs">(73415)</text><text x="1.90" y="582.60" font-size="8.3" fill="#333333" textLength="42.18" lengthAdjust="spacingAndGlyphs">LD Specific</text><text x="14.38" y="592.40" font-size="8.3" fill="#333333" textLength="20.22" lengthAdjust="spacingAndGlyphs">(428)</text><text x="269.85" y="331.50" font-size="9.0" fill="#333333" textLength="33.38" lengthAdjust="spacingAndGlyphs">.03 <tspan font-style="italic">vs</tspan> 0</text><text x="308.24" y="331.50" font-size="9.0" fill="#333333" textLength="34.00" lengthAdjust="spacingAndGlyphs">.06 <tspan font-style="italic">vs</tspan> 0</text><text x="350.96" y="331.50" font-size="9.0" fill="#333333" textLength="27.97" lengthAdjust="spacingAndGlyphs">.1 <tspan font-style="italic">vs</tspan> 0</text><text x="389.06" y="331.50" font-size="9.0" fill="#333333" textLength="30.88" lengthAdjust="spacingAndGlyphs">10 <tspan font-style="italic">vs</tspan> 0</text><rect x="265.80" y="334.20" width="37.60" height="242.20" fill="url(#g75)" stroke="none" stroke-width="1"/><rect x="265.80" y="334.20" width="37.60" height="242.20" fill="#000" stroke="none" stroke-width="1" filter="url(#nw4w)"/><rect x="265.80" y="334.20" width="37.60" height="242.20" fill="#000" stroke="none" stroke-width="1" filter="url(#nw4d)"/><rect x="281.00" y="334.20" width="7.20" height="242.20" fill="url(#g78)" stroke="none" stroke-width="1" mask="url(#m76)"/><rect x="266.30" y="334.70" width="36.60" height="241.20" fill="none" stroke="#383838" stroke-width="1.1"/><rect x="265.80" y="579.00" width="37.60" height="3.70" fill="#b4b8dc" stroke="none" stroke-width="1"/><rect x="266.25" y="579.45" width="36.70" height="2.80" fill="none" stroke="#383838" stroke-width="0.9"/><rect x="305.00" y="334.20" width="38.10" height="242.20" fill="url(#g79)" stroke="none" stroke-width="1"/><rect x="305.00" y="334.20" width="38.10" height="242.20" fill="#000" stroke="none" stroke-width="1" filter="url(#nw4w)"/><rect x="305.00" y="334.20" width="38.10" height="242.20" fill="#000" stroke="none" stroke-width="1" filter="url(#nw4d)"/><rect x="319.05" y="334.20" width="10.00" height="242.20" fill="url(#g82)" stroke="none" stroke-width="1" mask="url(#m80)"/><rect x="319.65" y="334.20" width="8.80" height="242.20" fill="url(#g85)" stroke="none" stroke-width="1" mask="url(#m83)"/><rect x="305.50" y="334.70" width="37.10" height="241.20" fill="none" stroke="#383838" stroke-width="1.1"/><rect x="305.00" y="579.00" width="38.10" height="3.70" fill="#b4b8dc" stroke="none" stroke-width="1"/><rect x="305.45" y="579.45" width="37.20" height="2.80" fill="none" stroke="#383838" stroke-width="0.9"/><rect x="345.30" y="334.20" width="37.80" height="242.20" fill="url(#g86)" stroke="none" stroke-width="1"/><rect x="345.30" y="334.20" width="37.80" height="242.20" fill="#000" stroke="none" stroke-width="1" filter="url(#nw4w)"/><rect x="345.30" y="334.20" width="37.80" height="242.20" fill="#000" stroke="none" stroke-width="1" filter="url(#nw4d)"/><rect x="359.20" y="334.20" width="10.00" height="242.20" fill="url(#g89)" stroke="none" stroke-width="1" mask="url(#m87)"/><rect x="360.20" y="334.20" width="8.00" height="242.20" fill="url(#g92)" stroke="none" stroke-width="1" mask="url(#m90)"/><rect x="345.80" y="334.70" width="36.80" height="241.20" fill="none" stroke="#383838" stroke-width="1.1"/><rect x="345.30" y="579.00" width="37.80" height="3.70" fill="#b4b8dc" stroke="none" stroke-width="1"/><rect x="345.75" y="579.45" width="36.90" height="2.80" fill="none" stroke="#383838" stroke-width="0.9"/><rect x="385.00" y="334.20" width="37.80" height="242.20" fill="url(#g93)" stroke="none" stroke-width="1"/><rect x="385.00" y="334.20" width="37.80" height="242.20" fill="#000" stroke="none" stroke-width="1" filter="url(#nw4w)"/><rect x="385.00" y="334.20" width="37.80" height="242.20" fill="#000" stroke="none" stroke-width="1" filter="url(#nw4d)"/><rect x="397.90" y="334.20" width="12.00" height="242.20" fill="url(#g96)" stroke="none" stroke-width="1" mask="url(#m94)"/><rect x="400.50" y="334.20" width="6.80" height="242.20" fill="url(#g99)" stroke="none" stroke-width="1" mask="url(#m97)"/><rect x="385.50" y="334.70" width="36.80" height="241.20" fill="none" stroke="#383838" stroke-width="1.1"/><rect x="385.00" y="579.00" width="37.80" height="3.70" fill="#b4b8dc" stroke="none" stroke-width="1"/><rect x="385.45" y="579.45" width="36.90" height="2.80" fill="none" stroke="#383838" stroke-width="0.9"/><rect x="425.00" y="334.30" width="4.80" height="248.00" fill="url(#g100)" stroke="none" stroke-width="1"/><rect x="425.50" y="334.80" width="3.80" height="247.00" fill="none" stroke="#383838" stroke-width="1.0"/><line x1="429.30" y1="335.10" x2="431.00" y2="335.10" stroke="#383838" stroke-width="0.8"/><text x="431.30" y="335.80" font-size="7.3" fill="#333333">0.0</text><line x1="429.30" y1="376.17" x2="431.00" y2="376.17" stroke="#383838" stroke-width="0.8"/><text x="431.30" y="377.15" font-size="7.3" fill="#333333">−0.5</text><line x1="429.30" y1="417.23" x2="431.00" y2="417.23" stroke="#383838" stroke-width="0.8"/><text x="431.30" y="418.50" font-size="7.3" fill="#333333">−1.0</text><line x1="429.30" y1="458.30" x2="431.00" y2="458.30" stroke="#383838" stroke-width="0.8"/><text x="431.30" y="459.85" font-size="7.3" fill="#333333">−1.5</text><line x1="429.30" y1="499.37" x2="431.00" y2="499.37" stroke="#383838" stroke-width="0.8"/><text x="431.30" y="501.20" font-size="7.3" fill="#333333">−2.0</text><line x1="429.30" y1="540.43" x2="431.00" y2="540.43" stroke="#383838" stroke-width="0.8"/><text x="431.30" y="542.55" font-size="7.3" fill="#333333">−2.5</text><line x1="429.30" y1="581.50" x2="431.00" y2="581.50" stroke="#383838" stroke-width="0.8"/><text x="431.30" y="583.90" font-size="7.3" fill="#333333">−3.0</text><text x="433.22" y="593.50" font-size="7.3" fill="#333333" textLength="15.04" lengthAdjust="spacingAndGlyphs">(kb)</text><line x1="284.60" y1="582.70" x2="284.60" y2="584.00" stroke="#383838" stroke-width="0.8"/><line x1="324.05" y1="582.70" x2="324.05" y2="584.00" stroke="#383838" stroke-width="0.8"/><line x1="364.20" y1="582.70" x2="364.20" y2="584.00" stroke="#383838" stroke-width="0.8"/><line x1="403.90" y1="582.70" x2="403.90" y2="584.00" stroke="#383838" stroke-width="0.8"/><text x="284.10" y="593.00" font-size="7.2" fill="#333333">0</text><text x="323.55" y="593.00" font-size="7.2" fill="#333333">0</text><text x="363.70" y="593.00" font-size="7.2" fill="#333333">0</text><text x="403.40" y="593.00" font-size="7.2" fill="#333333">0</text><text x="261.10" y="593.00" font-size="7.2" fill="#333333">-3.0</text><text x="294.50" y="593.00" font-size="7.2" fill="#333333">3.0-3.0</text><text x="334.50" y="593.00" font-size="7.2" fill="#333333">3.0-3.0</text><text x="374.35" y="593.00" font-size="7.2" fill="#333333">3.0-3.0</text><text x="419.30" y="593.00" font-size="7.2" fill="#333333">3.0</text><text x="231.38" y="455.60" font-size="8.3" fill="#333333" textLength="30.24" lengthAdjust="spacingAndGlyphs">HD vs 0</text><text x="232.28" y="465.40" font-size="8.3" fill="#333333" textLength="29.54" lengthAdjust="spacingAndGlyphs">(29993)</text><text x="222.20" y="577.50" font-size="8.3" fill="#333333" textLength="41.87" lengthAdjust="spacingAndGlyphs">LD Specific</text><text x="234.08" y="587.80" font-size="8.3" fill="#333333" textLength="20.32" lengthAdjust="spacingAndGlyphs">(362)</text><text x="449.90" y="14.20" font-size="24" fill="#333333">c</text><text x="480.50" y="11.40" font-size="13.0" fill="#333333" textLength="104.85" lengthAdjust="spacingAndGlyphs">VCaP (7810 sites)</text><text x="479.75" y="29.70" font-size="12.5" fill="#333333" textLength="88.74" lengthAdjust="spacingAndGlyphs">Up (6296 sites)</text><ellipse fill="#e6e8f2" cx="540.32" cy="105.42" rx="54.18" ry="30.96" transform="rotate(-135 540.32 105.42)"/><ellipse fill="#e6e8f2" cx="563.54" cy="89.94" rx="54.18" ry="23.22" transform="rotate(-135 563.54 89.94)"/><ellipse fill="#e6e8f2" cx="563.54" cy="89.94" rx="51.08" ry="23.22" transform="rotate(-45 563.54 89.94)"/><ellipse fill="#e6e8f2" cx="586.76" cy="105.42" rx="54.18" ry="30.96" transform="rotate(-45 586.76 105.42)"/><g mask="url(#mk101)"><ellipse fill="#0c4e98" cx="586.76" cy="105.42" rx="54.18" ry="30.96" transform="rotate(-45 586.76 105.42)"/></g><g mask="url(#mk102)"><g clip-path="url(#v1c3)"><ellipse fill="#c4d5ea" cx="563.54" cy="89.94" rx="51.08" ry="23.22" transform="rotate(-45 563.54 89.94)"/></g></g><ellipse fill="none" stroke="#d9696e" stroke-width="0.9" cx="540.32" cy="105.42" rx="54.18" ry="30.96" transform="rotate(-135 540.32 105.42)"/><ellipse fill="none" stroke="#8ebf78" stroke-width="0.9" cx="563.54" cy="89.94" rx="54.18" ry="23.22" transform="rotate(-135 563.54 89.94)"/><ellipse fill="none" stroke="#7088c4" stroke-width="0.9" cx="563.54" cy="89.94" rx="51.08" ry="23.22" transform="rotate(-45 563.54 89.94)"/><ellipse fill="none" stroke="#dcd56a" stroke-width="0.9" cx="586.76" cy="105.42" rx="54.18" ry="30.96" transform="rotate(-45 586.76 105.42)"/><text x="517.10" y="90.52" font-size="8.3" fill="#333333" text-anchor="middle">0</text><text x="542.64" y="64.05" font-size="8.3" fill="#333333" text-anchor="middle">0</text><text x="582.89" y="64.05" font-size="8.3" fill="#333333" text-anchor="middle">3</text><text x="611.37" y="95.48" font-size="8.3" fill="#ffffff" text-anchor="middle">5767</text><text x="533.35" y="75.04" font-size="8.3" fill="#333333" text-anchor="middle">0</text><text x="564.93" y="75.04" font-size="8.3" fill="#333333" text-anchor="middle">0</text><text x="590.78" y="76.90" font-size="8.3" fill="#333333" text-anchor="middle">352</text><text x="549.45" y="92.07" font-size="8.3" fill="#333333" text-anchor="middle">0</text><text x="579.33" y="92.07" font-size="8.3" fill="#333333" text-anchor="middle">0</text><text x="565.55" y="104.45" font-size="8.3" fill="#333333" text-anchor="middle">0</text><text x="535.83" y="110.65" font-size="8.3" fill="#333333" text-anchor="middle">0</text><text x="590.78" y="116.84" font-size="8.3" fill="#333333" text-anchor="middle">0</text><text x="551.93" y="122.88" font-size="8.3" fill="#333333" text-anchor="middle">0</text><text x="577.47" y="122.88" font-size="8.3" fill="#333333" text-anchor="middle">0</text><text x="563.85" y="134.64" font-size="8.3" fill="#333333" text-anchor="middle">0</text><text x="472.96" y="60.00" font-size="10.2" fill="#333333" textLength="37.48" lengthAdjust="spacingAndGlyphs">.01 <tspan font-style="italic">vs</tspan> 0</text><text x="518.15" y="46.20" font-size="10.2" fill="#333333" textLength="37.79" lengthAdjust="spacingAndGlyphs">.03 <tspan font-style="italic">vs</tspan> 0</text><text x="572.03" y="48.60" font-size="10.2" fill="#333333" textLength="38.52" lengthAdjust="spacingAndGlyphs">.06 <tspan font-style="italic">vs</tspan> 0</text><text x="615.88" y="61.00" font-size="10.2" fill="#333333" textLength="33.82" lengthAdjust="spacingAndGlyphs">10 <tspan font-style="italic">vs</tspan> 0</text><text x="647.01" y="90.60" font-size="7.2" fill="#333333" textLength="18.91" lengthAdjust="spacingAndGlyphs">Count</text><rect x="647.10" y="93.80" width="6.80" height="29.00" fill="url(#g103)" stroke="none" stroke-width="1"/><text x="655.70" y="105.70" font-size="6.9" fill="#333333">4000</text><line x1="652.70" y1="103.30" x2="653.90" y2="103.30" stroke="#ffffff" stroke-width="0.7"/><text x="655.50" y="114.10" font-size="6.9" fill="#333333">2000</text><line x1="652.70" y1="111.70" x2="653.90" y2="111.70" stroke="#ffffff" stroke-width="0.7"/><text x="655.50" y="123.70" font-size="6.9" fill="#333333">0</text><line x1="652.70" y1="121.30" x2="653.90" y2="121.30" stroke="#ffffff" stroke-width="0.7"/><text x="478.95" y="163.60" font-size="12.5" fill="#333333" textLength="105.93" lengthAdjust="spacingAndGlyphs">Down (1514 sites)</text><ellipse fill="#e6e8f2" cx="537.25" cy="239.00" rx="54.25" ry="31.00" transform="rotate(-135 537.25 239.00)"/><ellipse fill="#e6e8f2" cx="560.50" cy="223.50" rx="54.25" ry="23.25" transform="rotate(-135 560.50 223.50)"/><ellipse fill="#e6e8f2" cx="560.50" cy="223.50" rx="51.15" ry="23.25" transform="rotate(-45 560.50 223.50)"/><ellipse fill="#e6e8f2" cx="583.75" cy="239.00" rx="54.25" ry="31.00" transform="rotate(-45 583.75 239.00)"/><g mask="url(#mk104)"><ellipse fill="#0c4e98" cx="583.75" cy="239.00" rx="54.25" ry="31.00" transform="rotate(-45 583.75 239.00)"/></g><g mask="url(#mk105)"><g clip-path="url(#v2c3)"><ellipse fill="#dfe4f0" cx="560.50" cy="223.50" rx="51.15" ry="23.25" transform="rotate(-45 560.50 223.50)"/></g></g><ellipse fill="none" stroke="#d9696e" stroke-width="0.9" cx="537.25" cy="239.00" rx="54.25" ry="31.00" transform="rotate(-135 537.25 239.00)"/><ellipse fill="none" stroke="#8ebf78" stroke-width="0.9" cx="560.50" cy="223.50" rx="54.25" ry="23.25" transform="rotate(-135 560.50 223.50)"/><ellipse fill="none" stroke="#7088c4" stroke-width="0.9" cx="560.50" cy="223.50" rx="51.15" ry="23.25" transform="rotate(-45 560.50 223.50)"/><ellipse fill="none" stroke="#dcd56a" stroke-width="0.9" cx="583.75" cy="239.00" rx="54.25" ry="31.00" transform="rotate(-45 583.75 239.00)"/><text x="514.00" y="222.84" font-size="8.3" fill="#333333" text-anchor="middle">0</text><text x="539.58" y="196.49" font-size="8.3" fill="#333333" text-anchor="middle">0</text><text x="579.88" y="196.49" font-size="8.3" fill="#333333" text-anchor="middle">0</text><text x="609.01" y="224.23" font-size="8.3" fill="#ffffff" text-anchor="middle">1481</text><text x="530.12" y="207.80" font-size="8.3" fill="#333333" text-anchor="middle">0</text><text x="561.74" y="207.03" font-size="8.3" fill="#333333" text-anchor="middle">0</text><text x="588.71" y="209.51" font-size="8.3" fill="#333333" text-anchor="middle">33</text><text x="546.55" y="224.54" font-size="8.3" fill="#333333" text-anchor="middle">0</text><text x="576.77" y="224.54" font-size="8.3" fill="#333333" text-anchor="middle">0</text><text x="562.67" y="236.79" font-size="8.3" fill="#333333" text-anchor="middle">0</text><text x="533.38" y="243.76" font-size="8.3" fill="#333333" text-anchor="middle">0</text><text x="587.93" y="248.72" font-size="8.3" fill="#333333" text-anchor="middle">0</text><text x="548.72" y="255.70" font-size="8.3" fill="#333333" text-anchor="middle">0</text><text x="575.07" y="256.78" font-size="8.3" fill="#333333" text-anchor="middle">0</text><text x="561.43" y="267.32" font-size="8.3" fill="#333333" text-anchor="middle">0</text><text x="472.75" y="193.40" font-size="10.2" fill="#333333" textLength="37.79" lengthAdjust="spacingAndGlyphs">.01 <tspan font-style="italic">vs</tspan> 0</text><text x="509.95" y="179.40" font-size="10.2" fill="#333333" textLength="37.69" lengthAdjust="spacingAndGlyphs">.03 <tspan font-style="italic">vs</tspan> 0</text><text x="569.14" y="179.40" font-size="10.2" fill="#333333" textLength="38.11" lengthAdjust="spacingAndGlyphs">.06 <tspan font-style="italic">vs</tspan> 0</text><text x="612.38" y="195.00" font-size="10.2" fill="#333333" textLength="33.82" lengthAdjust="spacingAndGlyphs">10 <tspan font-style="italic">vs</tspan> 0</text><text x="647.11" y="226.60" font-size="7.2" fill="#333333" textLength="18.91" lengthAdjust="spacingAndGlyphs">Count</text><rect x="647.20" y="230.40" width="6.80" height="28.70" fill="url(#g106)" stroke="none" stroke-width="1"/><text x="655.30" y="241.20" font-size="6.9" fill="#333333">1000</text><line x1="652.80" y1="238.80" x2="654.00" y2="238.80" stroke="#ffffff" stroke-width="0.7"/><text x="655.50" y="251.00" font-size="6.9" fill="#333333">500</text><line x1="652.80" y1="248.60" x2="654.00" y2="248.60" stroke="#ffffff" stroke-width="0.7"/><text x="655.50" y="260.40" font-size="6.9" fill="#333333">0</text><line x1="652.80" y1="258.00" x2="654.00" y2="258.00" stroke="#ffffff" stroke-width="0.7"/><text x="449.30" y="322.20" font-size="24" fill="#333333">d</text><text x="479.06" y="317.80" font-size="12.5" fill="#333333" textLength="127.62" lengthAdjust="spacingAndGlyphs">LNCaP (104198 sites)</text><text x="478.95" y="339.20" font-size="12.5" fill="#333333" textLength="96.50" lengthAdjust="spacingAndGlyphs">Up (73843 sites)</text><ellipse fill="#e6e8f2" cx="536.51" cy="417.46" rx="53.55" ry="30.60" transform="rotate(-135 536.51 417.46)"/><ellipse fill="#e6e8f2" cx="559.46" cy="402.16" rx="53.55" ry="22.95" transform="rotate(-135 559.46 402.16)"/><ellipse fill="#e6e8f2" cx="559.46" cy="402.16" rx="50.49" ry="22.95" transform="rotate(-45 559.46 402.16)"/><ellipse fill="#e6e8f2" cx="582.41" cy="417.46" rx="53.55" ry="30.60" transform="rotate(-45 582.41 417.46)"/><g mask="url(#mk107)"><ellipse fill="#0c4e98" cx="582.41" cy="417.46" rx="53.55" ry="30.60" transform="rotate(-45 582.41 417.46)"/></g><g mask="url(#mk108)"><g clip-path="url(#v3c3)"><ellipse fill="#9fc5e2" cx="559.46" cy="402.16" rx="50.49" ry="22.95" transform="rotate(-45 559.46 402.16)"/></g></g><g mask="url(#mk109)"><g clip-path="url(#v3c3)"><g clip-path="url(#v3c2)"><ellipse fill="#74afd9" cx="559.46" cy="402.16" rx="53.55" ry="22.95" transform="rotate(-135 559.46 402.16)"/></g></g></g><g mask="url(#mk110)"><g clip-path="url(#v3c3)"><g clip-path="url(#v3c2)"><g clip-path="url(#v3c1)"><ellipse fill="#d3dcee" cx="536.51" cy="417.46" rx="53.55" ry="30.60" transform="rotate(-135 536.51 417.46)"/></g></g></g></g><ellipse fill="none" stroke="#d9696e" stroke-width="0.9" cx="536.51" cy="417.46" rx="53.55" ry="30.60" transform="rotate(-135 536.51 417.46)"/><ellipse fill="none" stroke="#8ebf78" stroke-width="0.9" cx="559.46" cy="402.16" rx="53.55" ry="22.95" transform="rotate(-135 559.46 402.16)"/><ellipse fill="none" stroke="#7088c4" stroke-width="0.9" cx="559.46" cy="402.16" rx="50.49" ry="22.95" transform="rotate(-45 559.46 402.16)"/><ellipse fill="none" stroke="#dcd56a" stroke-width="0.9" cx="582.41" cy="417.46" rx="53.55" ry="30.60" transform="rotate(-45 582.41 417.46)"/><text x="510.04" y="405.06" font-size="8.3" fill="#333333" text-anchor="middle">0</text><text x="534.83" y="375.07" font-size="8.3" fill="#333333" text-anchor="middle">69</text><text x="579.35" y="375.07" font-size="8.3" fill="#333333" text-anchor="middle">262</text><text x="605.05" y="403.38" font-size="8.3" fill="#ffffff" text-anchor="middle">43302</text><text x="530.54" y="388.08" font-size="8.3" fill="#333333" text-anchor="middle">0</text><text x="557.93" y="386.39" font-size="8.3" fill="#333333" text-anchor="middle">97</text><text x="586.24" y="388.08" font-size="8.3" fill="#333333" text-anchor="middle">11371</text><text x="543.55" y="405.06" font-size="8.3" fill="#333333" text-anchor="middle">0</text><text x="575.07" y="403.84" font-size="8.3" fill="#333333" text-anchor="middle">16414</text><text x="558.54" y="421.43" font-size="8.3" fill="#333333" text-anchor="middle">1933</text><text x="530.54" y="429.08" font-size="8.3" fill="#333333" text-anchor="middle">0</text><text x="589.60" y="428.47" font-size="8.3" fill="#333333" text-anchor="middle">395</text><text x="568.33" y="434.13" font-size="8.3" fill="#333333" text-anchor="middle">0</text><text x="559.00" y="448.82" font-size="8.3" fill="#333333" text-anchor="middle">0</text><text x="470.32" y="371.00" font-size="10.2" fill="#333333" textLength="38.83" lengthAdjust="spacingAndGlyphs">.03 <tspan font-style="italic">vs</tspan> 0</text><text x="511.62" y="356.30" font-size="10.2" fill="#333333" textLength="38.83" lengthAdjust="spacingAndGlyphs">.06 <tspan font-style="italic">vs</tspan> 0</text><text x="570.11" y="359.80" font-size="10.2" fill="#333333" textLength="32.97" lengthAdjust="spacingAndGlyphs">.1 <tspan font-style="italic">vs</tspan> 0</text><text x="607.03" y="372.80" font-size="10.2" fill="#333333" textLength="35.69" lengthAdjust="spacingAndGlyphs">10 <tspan font-style="italic">vs</tspan> 0</text><text x="645.71" y="404.40" font-size="7.2" fill="#333333" textLength="18.91" lengthAdjust="spacingAndGlyphs">Count</text><rect x="645.80" y="407.10" width="6.80" height="28.80" fill="url(#g111)" stroke="none" stroke-width="1"/><text x="654.40" y="412.00" font-size="6.9" fill="#333333">40000</text><line x1="651.40" y1="409.60" x2="652.60" y2="409.60" stroke="#ffffff" stroke-width="0.7"/><text x="654.20" y="424.20" font-size="6.9" fill="#333333">20000</text><line x1="651.40" y1="421.80" x2="652.60" y2="421.80" stroke="#ffffff" stroke-width="0.7"/><text x="654.20" y="436.90" font-size="6.9" fill="#333333">0</text><line x1="651.40" y1="434.50" x2="652.60" y2="434.50" stroke="#ffffff" stroke-width="0.7"/><text x="478.95" y="476.60" font-size="12.5" fill="#333333" textLength="113.38" lengthAdjust="spacingAndGlyphs">Down (30355 sites)</text><ellipse fill="#e6e8f2" cx="536.54" cy="553.73" rx="53.34" ry="30.48" transform="rotate(-135 536.54 553.73)"/><ellipse fill="#e6e8f2" cx="559.40" cy="538.49" rx="53.34" ry="22.86" transform="rotate(-135 559.40 538.49)"/><ellipse fill="#e6e8f2" cx="559.40" cy="538.49" rx="50.29" ry="22.86" transform="rotate(-45 559.40 538.49)"/><ellipse fill="#e6e8f2" cx="582.26" cy="553.73" rx="53.34" ry="30.48" transform="rotate(-45 582.26 553.73)"/><g mask="url(#mk112)"><ellipse fill="#0c4e98" cx="582.26" cy="553.73" rx="53.34" ry="30.48" transform="rotate(-45 582.26 553.73)"/></g><g mask="url(#mk113)"><g clip-path="url(#v4c3)"><ellipse fill="#cbd9ec" cx="559.40" cy="538.49" rx="50.29" ry="22.86" transform="rotate(-45 559.40 538.49)"/></g></g><ellipse fill="none" stroke="#d9696e" stroke-width="0.9" cx="536.54" cy="553.73" rx="53.34" ry="30.48" transform="rotate(-135 536.54 553.73)"/><ellipse fill="none" stroke="#8ebf78" stroke-width="0.9" cx="559.40" cy="538.49" rx="53.34" ry="22.86" transform="rotate(-135 559.40 538.49)"/><ellipse fill="none" stroke="#7088c4" stroke-width="0.9" cx="559.40" cy="538.49" rx="50.29" ry="22.86" transform="rotate(-45 559.40 538.49)"/><ellipse fill="none" stroke="#dcd56a" stroke-width="0.9" cx="582.26" cy="553.73" rx="53.34" ry="30.48" transform="rotate(-45 582.26 553.73)"/><text x="511.55" y="536.21" font-size="8.3" fill="#333333" text-anchor="middle">1</text><text x="536.08" y="510.30" font-size="8.3" fill="#333333" text-anchor="middle">33</text><text x="578.15" y="509.85" font-size="8.3" fill="#333333" text-anchor="middle">323</text><text x="606.19" y="538.95" font-size="8.3" fill="#ffffff" text-anchor="middle">27668</text><text x="531.51" y="525.69" font-size="8.3" fill="#333333" text-anchor="middle">0</text><text x="557.88" y="521.58" font-size="8.3" fill="#333333" text-anchor="middle">5</text><text x="586.83" y="525.69" font-size="8.3" fill="#333333" text-anchor="middle">1958</text><text x="543.09" y="540.78" font-size="8.3" fill="#333333" text-anchor="middle">0</text><text x="574.64" y="539.72" font-size="8.3" fill="#333333" text-anchor="middle">149</text><text x="557.88" y="555.87" font-size="8.3" fill="#333333" text-anchor="middle">1</text><text x="531.51" y="560.75" font-size="8.3" fill="#333333" text-anchor="middle">0</text><text x="588.66" y="566.08" font-size="8.3" fill="#333333" text-anchor="middle">216</text><text x="546.60" y="570.20" font-size="8.3" fill="#333333" text-anchor="middle">1</text><text x="572.96" y="570.96" font-size="8.3" fill="#333333" text-anchor="middle">0</text><text x="561.23" y="585.59" font-size="8.3" fill="#333333" text-anchor="middle">0</text><text x="477.34" y="508.00" font-size="10.2" fill="#333333" textLength="38.11" lengthAdjust="spacingAndGlyphs">.03 <tspan font-style="italic">vs</tspan> 0</text><text x="515.86" y="494.80" font-size="10.2" fill="#333333" textLength="37.38" lengthAdjust="spacingAndGlyphs">.06 <tspan font-style="italic">vs</tspan> 0</text><text x="570.83" y="497.60" font-size="10.2" fill="#333333" textLength="32.24" lengthAdjust="spacingAndGlyphs">.1 <tspan font-style="italic">vs</tspan> 0</text><text x="609.55" y="509.80" font-size="10.2" fill="#333333" textLength="34.86" lengthAdjust="spacingAndGlyphs">10 <tspan font-style="italic">vs</tspan> 0</text><text x="647.41" y="541.80" font-size="7.2" fill="#333333" textLength="18.91" lengthAdjust="spacingAndGlyphs">Count</text><rect x="647.50" y="545.90" width="6.80" height="28.70" fill="url(#g114)" stroke="none" stroke-width="1"/><text x="655.50" y="555.00" font-size="6.9" fill="#333333">20000</text><line x1="653.10" y1="552.60" x2="654.30" y2="552.60" stroke="#ffffff" stroke-width="0.7"/><text x="655.30" y="565.50" font-size="6.9" fill="#333333">10000</text><line x1="653.10" y1="563.10" x2="654.30" y2="563.10" stroke="#ffffff" stroke-width="0.7"/><text x="655.50" y="575.60" font-size="6.9" fill="#333333">0</text><line x1="653.10" y1="573.20" x2="654.30" y2="573.20" stroke="#ffffff" stroke-width="0.7"/><text x="-0.90" y="631.20" font-size="24" fill="#333333">e</text><line x1="367.00" y1="633.00" x2="367.00" y2="927.00" stroke="#555" stroke-width="1.5"/><line x1="55.40" y1="635.50" x2="191.00" y2="635.50" stroke="#3a3a3a" stroke-width="1.1"/><line x1="226.20" y1="635.50" x2="360.70" y2="635.50" stroke="#3a3a3a" stroke-width="1.1"/><text x="197.19" y="639.30" font-size="10.5" fill="#333333" textLength="23.08" lengthAdjust="spacingAndGlyphs">18kb</text><rect x="55.40" y="641.40" width="305.30" height="76.30" fill="#f6f7f8" stroke="none" stroke-width="1"/><line x1="55.70" y1="641.40" x2="55.70" y2="717.70" stroke="#d8d8d8" stroke-width="0.6"/><line x1="360.40" y1="641.40" x2="360.40" y2="717.70" stroke="#d8d8d8" stroke-width="0.6"/><line x1="55.40" y1="711.20" x2="360.70" y2="711.20" stroke="#e4e4e4" stroke-width="0.6"/><line x1="56.40" y1="654.30" x2="359.70" y2="654.30" stroke="#6a6a6a" stroke-width="0.9"/><path d="M57.6,654.4L57.9,654.2L58.1,654.4ZM59.1,654.4L59.4,654.2L59.6,654.4ZM60.1,654.4L60.4,654.1L60.6,654.4ZM61.1,654.4L61.4,654.1L61.6,654.4ZM65.2,654.4L65.4,654.2L65.7,654.4ZM67.7,654.4L67.9,654.1L68.2,654.4ZM71.2,654.4L71.4,654.2L71.7,654.4ZM75.7,654.4L75.9,654.2L76.2,654.4ZM77.2,654.4L77.4,654.2L77.7,654.4ZM81.2,654.4L81.4,654.2L81.9,654.1L82.4,653.9L82.9,653.7L83.4,652.6L83.9,651.7L84.4,652.3L84.9,652.4L85.4,651.9L85.9,652.0L86.4,651.3L86.9,651.5L87.4,651.6L87.9,650.0L88.4,651.0L88.9,652.5L89.4,651.4L89.9,649.6L90.4,648.0L90.9,648.0L91.4,650.7L91.9,653.0L92.4,650.3L92.9,648.2L93.4,651.6L93.9,653.7L94.2,654.4ZM96.2,654.4L96.4,654.2L96.9,654.1L97.4,654.1L97.9,654.2L98.2,654.4ZM99.2,654.4L99.4,654.1L99.7,654.4ZM102.2,654.4L102.4,654.2L102.7,654.4ZM103.7,654.4L103.9,654.2L104.4,654.1L104.9,654.1L105.4,654.1L105.9,654.2L106.2,654.4ZM108.7,654.4L108.9,654.2L109.4,654.2L109.9,654.1L110.4,654.1L110.9,654.2L111.2,654.4ZM112.7,654.4L112.9,654.2L113.4,654.2L113.9,654.2L114.2,654.4ZM123.2,654.4L123.4,654.1L123.7,654.4ZM127.2,654.4L127.4,654.2L127.7,654.4ZM128.2,654.4L128.4,654.2L128.7,654.4ZM129.2,654.4L129.4,654.2L129.7,654.4ZM135.2,654.4L135.4,654.2L135.9,654.2L136.2,654.4ZM139.7,654.4L139.9,654.1L140.2,654.4ZM142.7,654.4L142.9,654.1L143.2,654.4ZM145.2,654.4L145.4,654.2L145.7,654.4ZM148.2,654.4L148.4,654.1L148.9,654.2L149.2,654.4ZM154.7,654.4L154.9,654.1L155.4,654.2L155.7,654.4ZM158.7,654.4L158.9,654.2L159.4,654.1L159.9,654.1L160.4,654.2L160.7,654.4ZM161.7,654.4L161.9,654.1L162.2,654.4ZM169.2,654.4L169.4,654.2L169.7,654.4ZM172.2,654.4L172.4,654.1L172.7,654.4ZM173.2,654.4L173.4,654.2L173.9,654.1L174.2,654.4ZM187.7,654.4L187.9,654.2L188.2,654.4ZM192.2,654.4L192.4,654.2L192.7,654.4ZM202.7,654.4L202.9,654.2L203.4,654.2L203.7,654.4ZM208.7,654.4L208.9,654.2L209.2,654.4ZM211.2,654.4L211.4,654.2L211.7,654.4ZM217.2,654.4L217.4,654.1L217.7,654.4ZM224.7,654.4L224.9,654.1L225.2,654.4ZM231.7,654.4L231.9,654.2L232.2,654.4ZM236.7,654.4L236.9,654.2L237.2,654.4ZM238.7,654.4L238.9,654.2L239.2,654.4ZM240.2,654.4L240.4,654.1L240.7,654.4ZM245.2,654.4L245.4,654.1L245.7,654.4ZM247.7,654.4L247.9,654.1L248.2,654.4ZM254.2,654.4L254.4,654.2L254.7,654.4ZM256.6,654.4L256.9,654.2L257.4,654.2L257.6,654.4ZM261.1,654.4L261.4,654.2L261.6,654.4ZM265.6,654.4L265.9,654.2L266.1,654.4ZM273.1,654.4L273.4,654.2L273.6,654.4ZM274.6,654.4L274.9,654.1L275.1,654.4ZM276.1,654.4L276.4,654.2L276.6,654.4ZM278.6,654.4L278.9,654.1L279.1,654.4ZM280.1,654.4L280.4,654.2L280.9,654.2L281.4,654.2L281.6,654.4ZM284.6,654.4L284.9,654.2L285.1,654.4ZM287.1,654.4L287.4,654.2L287.6,654.4ZM293.1,654.4L293.4,654.2L293.6,654.4ZM300.1,654.4L300.4,654.2L300.6,654.4ZM312.1,654.4L312.4,654.2L312.6,654.4ZM315.1,654.4L315.4,654.1L315.9,654.2L316.1,654.4ZM327.6,654.4L327.9,654.2L328.1,654.4ZM330.6,654.4L330.9,654.1L331.1,654.4ZM332.1,654.4L332.4,654.2L332.9,654.2L333.1,654.4ZM336.1,654.4L336.4,654.2L336.6,654.4ZM338.6,654.4L338.9,654.2L339.1,654.4ZM341.1,654.4L341.4,654.2L341.6,654.4ZM347.6,654.4L347.9,654.2L348.1,654.4ZM350.6,654.4L350.9,654.1L351.1,654.4ZM351.6,654.4L351.9,654.2L352.4,654.1L352.9,654.2L353.1,654.4ZM354.1,654.4L354.4,654.1L354.6,654.4ZM358.1,654.4L358.4,654.2L358.6,654.4Z" fill="#4d4d4d"/><text x="57.4" y="643.8" font-size="2.6" fill="#888">[0 - 2.00]</text><line x1="56.40" y1="667.30" x2="359.70" y2="667.30" stroke="#6b7cc2" stroke-width="0.9"/><path d="M59.1,667.4L59.4,667.1L59.6,667.4ZM60.6,667.4L60.9,667.2L61.4,666.9L61.6,667.4ZM62.1,667.4L62.4,666.8L62.9,667.1L63.4,667.0L63.9,666.9L64.4,667.0L64.9,667.1L65.4,667.2L65.7,667.4ZM66.2,667.4L66.4,667.2L66.9,667.2L67.4,667.2L67.9,667.2L68.4,667.1L68.9,667.1L69.4,667.1L69.9,667.1L70.4,667.1L70.9,667.1L71.4,667.1L71.9,667.1L72.4,667.2L72.9,667.2L73.4,667.0L73.7,667.4ZM74.7,667.4L74.9,667.2L75.2,667.4ZM77.7,667.4L77.9,667.1L78.2,667.4ZM78.7,667.4L78.9,667.0L79.4,667.0L79.9,667.1L80.4,667.2L80.9,667.2L81.4,667.1L81.9,666.9L82.4,666.7L82.9,666.6L83.4,665.4L83.9,663.8L84.4,664.7L84.9,664.9L85.4,664.6L85.9,663.8L86.4,663.8L86.9,664.1L87.4,663.6L87.9,662.1L88.4,663.9L88.9,664.5L89.4,665.2L89.9,662.3L90.4,661.7L90.9,661.9L91.4,664.5L91.9,666.2L92.4,662.4L92.9,661.7L93.4,664.5L93.9,666.8L94.2,667.4ZM95.2,667.4L95.4,667.2L95.9,666.9L96.4,666.5L96.9,666.2L97.4,666.5L97.9,666.7L98.4,667.2L98.9,667.0L99.4,666.9L99.9,667.0L100.4,667.2L100.7,667.4ZM103.2,667.4L103.4,667.1L103.9,666.8L104.4,666.6L104.9,666.4L105.4,666.5L105.9,666.7L106.4,667.1L106.9,667.2L107.2,667.4ZM108.2,667.4L108.4,667.2L108.9,666.9L109.4,666.6L109.9,666.7L110.4,666.6L110.9,666.8L111.4,667.0L111.9,667.2L112.4,667.1L112.9,666.9L113.4,666.8L113.9,666.9L114.4,667.1L114.7,667.4ZM117.7,667.4L117.9,667.1L118.2,667.4ZM120.7,667.4L120.9,667.1L121.2,667.4ZM121.7,667.4L121.9,667.2L122.2,667.4ZM126.2,667.4L126.4,667.0L126.7,667.4ZM129.2,667.4L129.4,666.9L129.7,667.4ZM130.2,667.4L130.4,667.0L130.7,667.4ZM133.7,667.4L133.9,667.1L134.2,667.4ZM135.7,667.4L135.9,667.2L136.2,667.4ZM136.7,667.4L136.9,667.2L137.4,666.7L137.9,666.4L138.4,666.9L138.9,666.8L139.2,667.4ZM139.7,667.4L139.9,667.1L140.2,667.4ZM144.7,667.4L144.9,667.0L145.2,667.4ZM146.7,667.4L146.9,666.9L147.2,667.4ZM149.2,667.4L149.4,667.0L149.9,666.8L150.4,667.0L150.9,667.2L151.2,667.4ZM152.2,667.4L152.4,666.9L152.9,666.9L153.4,667.2L153.7,667.4ZM158.7,667.4L158.9,667.2L159.4,667.1L159.9,667.1L160.4,667.2L160.7,667.4ZM163.2,667.4L163.4,666.9L163.7,667.4ZM165.2,667.4L165.4,667.1L165.7,667.4ZM166.7,667.4L166.9,666.8L167.2,667.4ZM170.2,667.4L170.4,667.1L170.7,667.4ZM173.2,667.4L173.4,667.1L173.7,667.4ZM175.7,667.4L175.9,667.0L176.2,667.4ZM176.7,667.4L176.9,666.9L177.2,667.4ZM177.7,667.4L177.9,667.0L178.2,667.4ZM179.7,667.4L179.9,667.0L180.4,667.1L180.7,667.4ZM181.2,667.4L181.4,667.1L181.7,667.4ZM184.2,667.4L184.4,667.1L184.9,666.9L185.4,667.0L185.9,667.0L186.2,667.4ZM188.7,667.4L188.9,666.8L189.2,667.4ZM191.2,667.4L191.4,666.9L191.7,667.4ZM192.7,667.4L192.9,667.2L193.2,667.4ZM195.7,667.4L195.9,667.1L196.2,667.4ZM200.7,667.4L200.9,666.9L201.2,667.4ZM206.7,667.4L206.9,667.0L207.2,667.4ZM207.7,667.4L207.9,667.1L208.2,667.4ZM210.2,667.4L210.4,666.9L210.7,667.4ZM221.7,667.4L221.9,667.2L222.2,667.4ZM222.7,667.4L222.9,667.2L223.2,667.4ZM224.2,667.4L224.4,666.8L224.7,667.4ZM230.2,667.4L230.4,667.0L230.7,667.4ZM233.2,667.4L233.4,667.2L233.7,667.4ZM237.7,667.4L237.9,667.0L238.2,667.4ZM238.7,667.4L238.9,666.8L239.4,667.1L239.9,667.1L240.2,667.4ZM240.7,667.4L240.9,666.8L241.2,667.4ZM248.7,667.4L248.9,667.2L249.4,667.1L249.9,666.9L250.4,667.1L250.9,667.1L251.2,667.4ZM254.2,667.4L254.4,667.0L254.7,667.4ZM256.1,667.4L256.4,667.1L256.6,667.4ZM271.1,667.4L271.4,667.1L271.6,667.4ZM274.6,667.4L274.9,667.2L275.1,667.4ZM278.1,667.4L278.4,667.1L278.6,667.4ZM279.6,667.4L279.9,667.2L280.4,667.2L280.9,667.1L281.4,667.1L281.9,667.2L282.1,667.4ZM283.1,667.4L283.4,666.9L283.6,667.4ZM287.6,667.4L287.9,667.2L288.1,667.4ZM289.6,667.4L289.9,667.2L290.1,667.4ZM291.1,667.4L291.4,667.0L291.6,667.4ZM297.1,667.4L297.4,667.2L297.6,667.4ZM299.6,667.4L299.9,667.1L300.1,667.4ZM302.1,667.4L302.4,666.9L302.6,667.4ZM303.6,667.4L303.9,667.1L304.1,667.4ZM306.6,667.4L306.9,667.1L307.1,667.4ZM309.1,667.4L309.4,667.0L309.9,667.0L310.1,667.4ZM324.1,667.4L324.4,667.0L324.6,667.4ZM327.6,667.4L327.9,667.2L328.4,667.0L328.6,667.4ZM332.1,667.4L332.4,667.0L332.6,667.4ZM334.1,667.4L334.4,666.9L334.6,667.4ZM352.1,667.4L352.4,666.9L352.9,666.9L353.1,667.4ZM354.1,667.4L354.4,667.2L354.6,667.4ZM355.1,667.4L355.4,667.1L355.6,667.4Z" fill="#3b52a8"/><text x="57.4" y="656.8" font-size="2.6" fill="#888">[0 - 2.00]</text><line x1="56.40" y1="680.30" x2="359.70" y2="680.30" stroke="#6b7cc2" stroke-width="0.9"/><path d="M61.6,680.4L61.9,680.1L62.4,679.9L62.9,679.9L63.4,680.0L63.9,680.1L64.4,680.1L64.9,680.2L65.2,680.4ZM65.7,680.4L65.9,679.8L66.4,680.2L66.9,680.1L67.4,680.2L67.9,680.2L68.4,680.2L68.9,679.9L69.4,680.1L69.9,680.1L70.4,680.0L70.9,680.1L71.4,680.1L71.9,680.2L72.4,680.2L72.9,680.2L73.4,680.2L73.7,680.4ZM75.2,680.4L75.4,679.9L75.7,680.4ZM76.7,680.4L76.9,680.1L77.2,680.4ZM78.2,680.4L78.4,680.1L78.9,680.0L79.4,680.2L79.7,680.4ZM80.7,680.4L80.9,680.1L81.4,680.2L81.9,680.0L82.4,679.8L82.9,679.7L83.4,678.3L83.9,676.7L84.4,677.4L84.9,678.3L85.4,677.7L85.9,677.1L86.4,677.7L86.9,676.9L87.4,677.1L87.9,676.0L88.4,677.3L88.9,677.8L89.4,677.9L89.9,675.3L90.4,674.0L90.9,675.4L91.4,677.5L91.9,679.1L92.4,676.3L92.9,674.1L93.4,677.4L93.9,679.7L94.2,680.4ZM95.7,680.4L95.9,680.1L96.4,679.8L96.9,679.6L97.4,679.8L97.9,679.9L98.4,680.2L98.9,680.0L99.4,679.8L99.9,680.0L100.4,680.2L100.7,680.4ZM102.7,680.4L102.9,680.1L103.4,680.2L103.9,680.0L104.4,679.8L104.9,679.7L105.4,679.7L105.9,679.9L106.4,680.1L106.7,680.4ZM107.2,680.4L107.4,680.0L107.7,680.4ZM108.2,680.4L108.4,680.2L108.9,679.9L109.4,679.8L109.9,679.7L110.4,679.7L110.9,679.9L111.4,680.1L111.9,680.1L112.4,680.1L112.9,680.0L113.4,679.8L113.9,679.9L114.4,680.0L114.7,680.4ZM119.7,680.4L119.9,679.9L120.2,680.4ZM123.7,680.4L123.9,680.0L124.2,680.4ZM131.7,680.4L131.9,679.9L132.2,680.4ZM134.7,680.4L134.9,679.9L135.2,680.4ZM135.7,680.4L135.9,679.9L136.4,680.2L136.7,680.4ZM137.2,680.4L137.4,680.0L137.9,679.9L138.4,680.1L138.7,680.4ZM139.2,680.4L139.4,680.0L139.7,680.4ZM149.2,680.4L149.4,680.1L149.9,679.9L150.4,680.0L150.9,680.2L151.2,680.4ZM157.2,680.4L157.4,679.9L157.7,680.4ZM158.7,680.4L158.9,680.2L159.4,680.0L159.9,680.1L160.4,680.2L160.7,680.4ZM168.7,680.4L168.9,680.0L169.2,680.4ZM170.2,680.4L170.4,680.2L170.7,680.4ZM171.2,680.4L171.4,680.1L171.7,680.4ZM173.7,680.4L173.9,680.0L174.2,680.4ZM174.7,680.4L174.9,680.1L175.2,680.4ZM179.7,680.4L179.9,680.2L180.4,680.2L180.7,680.4ZM185.2,680.4L185.4,680.0L185.9,680.2L186.2,680.4ZM187.7,680.4L187.9,680.1L188.2,680.4ZM195.7,680.4L195.9,680.1L196.2,680.4ZM199.7,680.4L199.9,679.9L200.2,680.4ZM202.2,680.4L202.4,679.9L202.7,680.4ZM205.2,680.4L205.4,680.2L205.7,680.4ZM211.7,680.4L211.9,679.9L212.2,680.4ZM215.2,680.4L215.4,680.0L215.9,679.9L216.2,680.4ZM217.7,680.4L217.9,680.1L218.2,680.4ZM219.2,680.4L219.4,679.8L219.7,680.4ZM224.2,680.4L224.4,679.9L224.7,680.4ZM226.2,680.4L226.4,680.2L226.7,680.4ZM231.7,680.4L231.9,679.8L232.4,680.0L232.9,679.8L233.2,680.4ZM233.7,680.4L233.9,679.9L234.2,680.4ZM235.2,680.4L235.4,680.2L235.7,680.4ZM242.2,680.4L242.4,680.1L242.7,680.4ZM248.2,680.4L248.4,680.2L248.9,680.2L249.4,680.1L249.9,679.8L250.4,680.1L250.9,680.1L251.2,680.4ZM253.7,680.4L253.9,679.8L254.2,680.4ZM262.6,680.4L262.9,680.1L263.1,680.4ZM264.6,680.4L264.9,680.0L265.1,680.4ZM268.1,680.4L268.4,679.8L268.6,680.4ZM270.1,680.4L270.4,680.1L270.9,680.2L271.1,680.4ZM276.1,680.4L276.4,679.8L276.6,680.4ZM277.6,680.4L277.9,680.2L278.1,680.4ZM278.6,680.4L278.9,679.9L279.1,680.4ZM279.6,680.4L279.9,680.2L280.4,680.2L280.9,680.1L281.4,680.1L281.9,679.9L282.1,680.4ZM284.6,680.4L284.9,680.0L285.4,680.2L285.9,680.1L286.1,680.4ZM289.6,680.4L289.9,680.2L290.1,680.4ZM293.1,680.4L293.4,680.0L293.9,680.0L294.1,680.4ZM298.1,680.4L298.4,680.2L298.6,680.4ZM306.1,680.4L306.4,679.9L306.9,680.1L307.1,680.4ZM310.1,680.4L310.4,679.9L310.6,680.4ZM314.6,680.4L314.9,680.1L315.1,680.4ZM316.6,680.4L316.9,680.1L317.1,680.4ZM322.6,680.4L322.9,679.9L323.1,680.4ZM330.6,680.4L330.9,680.0L331.1,680.4ZM332.6,680.4L332.9,680.1L333.1,680.4ZM333.6,680.4L333.9,679.9L334.4,679.8L334.6,680.4ZM335.6,680.4L335.9,679.9L336.1,680.4ZM343.6,680.4L343.9,680.1L344.1,680.4ZM345.6,680.4L345.9,680.0L346.4,680.1L346.6,680.4ZM347.6,680.4L347.9,680.0L348.1,680.4ZM349.1,680.4L349.4,680.0L349.6,680.4ZM352.6,680.4L352.9,679.8L353.4,679.8L353.6,680.4ZM358.1,680.4L358.4,680.0L358.6,680.4Z" fill="#3b52a8"/><text x="57.4" y="669.8" font-size="2.6" fill="#888">[0 - 2.00]</text><line x1="56.40" y1="693.30" x2="359.70" y2="693.30" stroke="#6b7cc2" stroke-width="0.9"/><path d="M59.6,693.4L59.9,693.1L60.4,693.2L60.6,693.4ZM62.1,693.4L62.4,693.2L62.9,693.0L63.4,692.7L63.9,692.6L64.4,692.6L64.9,692.9L65.4,693.1L65.9,693.2L66.4,693.2L66.9,693.2L67.4,692.9L67.9,693.1L68.4,693.0L68.9,693.0L69.4,693.0L69.9,693.0L70.4,693.0L70.9,693.0L71.4,693.1L71.9,693.0L72.4,693.1L72.9,693.1L73.4,693.2L73.9,693.2L74.4,693.2L74.7,693.4ZM75.2,693.4L75.4,693.2L75.7,693.4ZM77.2,693.4L77.4,692.9L77.7,693.4ZM78.7,693.4L78.9,692.8L79.2,693.4ZM80.2,693.4L80.4,693.0L80.9,693.2L81.4,693.1L81.9,692.9L82.4,692.8L82.9,692.5L83.4,690.7L83.9,689.4L84.4,690.3L84.9,690.3L85.4,690.4L85.9,690.2L86.4,689.7L86.9,690.0L87.4,689.5L87.9,687.8L88.4,689.0L88.9,690.8L89.4,690.0L89.9,687.5L90.4,684.2L90.9,685.8L91.4,689.4L91.9,691.8L92.4,688.2L92.9,686.4L93.4,689.2L93.9,692.6L94.2,693.4ZM95.2,693.4L95.4,693.2L95.9,692.8L96.4,692.4L96.9,692.1L97.4,692.2L97.9,692.6L98.4,693.0L98.9,692.9L99.4,692.6L99.9,692.7L100.4,693.0L100.9,692.9L101.4,693.1L101.7,693.4ZM102.7,693.4L102.9,693.2L103.4,693.0L103.9,692.6L104.4,692.2L104.9,692.0L105.4,692.0L105.9,692.3L106.4,692.8L106.9,693.1L107.2,693.4ZM108.2,693.4L108.4,693.1L108.9,692.8L109.4,692.5L109.9,692.4L110.4,692.5L110.9,692.7L111.4,693.0L111.9,693.2L112.4,693.1L112.9,692.8L113.4,692.8L113.9,692.8L114.4,693.1L114.9,693.2L115.2,693.4ZM119.2,693.4L119.4,693.2L119.7,693.4ZM120.2,693.4L120.4,693.1L120.9,692.9L121.2,693.4ZM124.7,693.4L124.9,693.0L125.2,693.4ZM126.7,693.4L126.9,692.9L127.4,692.9L127.7,693.4ZM130.7,693.4L130.9,693.1L131.4,693.1L131.7,693.4ZM135.2,693.4L135.4,692.9L135.7,693.4ZM137.2,693.4L137.4,693.0L137.9,692.9L138.4,693.0L138.7,693.4ZM139.2,693.4L139.4,693.0L139.7,693.4ZM148.2,693.4L148.4,693.1L148.7,693.4ZM149.2,693.4L149.4,693.1L149.9,692.9L150.4,693.0L150.9,693.2L151.2,693.4ZM151.7,693.4L151.9,693.2L152.2,693.4ZM153.2,693.4L153.4,692.8L153.7,693.4ZM154.2,693.4L154.4,692.8L154.7,693.4ZM156.7,693.4L156.9,693.0L157.2,693.4ZM158.7,693.4L158.9,693.2L159.4,693.1L159.9,693.1L160.4,693.2L160.7,693.4ZM162.7,693.4L162.9,693.0L163.2,693.4ZM164.2,693.4L164.4,693.2L164.7,693.4ZM167.2,693.4L167.4,693.0L167.9,692.9L168.2,693.4ZM169.7,693.4L169.9,693.2L170.4,693.1L170.9,693.0L171.2,693.4ZM172.7,693.4L172.9,693.2L173.2,693.4ZM173.7,693.4L173.9,692.9L174.2,693.4ZM178.7,693.4L178.9,693.2L179.2,693.4ZM180.2,693.4L180.4,693.0L180.7,693.4ZM184.2,693.4L184.4,693.2L184.9,693.1L185.4,693.2L185.9,692.9L186.2,693.4ZM196.7,693.4L196.9,693.2L197.2,693.4ZM198.7,693.4L198.9,692.9L199.2,693.4ZM200.2,693.4L200.4,693.2L200.7,693.4ZM202.7,693.4L202.9,693.0L203.2,693.4ZM205.7,693.4L205.9,692.8L206.4,692.8L206.7,693.4ZM209.2,693.4L209.4,692.9L209.7,693.4ZM212.7,693.4L212.9,692.9L213.4,693.0L213.7,693.4ZM214.7,693.4L214.9,692.9L215.2,693.4ZM215.7,693.4L215.9,693.1L216.2,693.4ZM219.2,693.4L219.4,693.1L219.9,693.0L220.4,693.1L220.9,693.1L221.2,693.4ZM224.2,693.4L224.4,693.0L224.7,693.4ZM225.7,693.4L225.9,693.1L226.2,693.4ZM227.7,693.4L227.9,693.0L228.2,693.4ZM228.7,693.4L228.9,693.0L229.4,693.2L229.7,693.4ZM230.7,693.4L230.9,693.1L231.4,693.0L231.7,693.4ZM233.7,693.4L233.9,693.2L234.2,693.4ZM235.7,693.4L235.9,692.9L236.2,693.4ZM237.2,693.4L237.4,693.1L237.7,693.4ZM238.7,693.4L238.9,692.9L239.2,693.4ZM239.7,693.4L239.9,692.9L240.4,693.2L240.7,693.4ZM242.2,693.4L242.4,693.1L242.7,693.4ZM248.7,693.4L248.9,693.2L249.4,693.2L249.9,693.1L250.4,693.2L250.9,693.2L251.2,693.4ZM254.2,693.4L254.4,693.2L254.7,693.4ZM256.6,693.4L256.9,693.0L257.1,693.4ZM258.6,693.4L258.9,692.8L259.1,693.4ZM262.6,693.4L262.9,692.8L263.1,693.4ZM265.1,693.4L265.4,692.9L265.6,693.4ZM270.1,693.4L270.4,693.0L270.9,692.8L271.1,693.4ZM271.6,693.4L271.9,693.0L272.1,693.4ZM274.6,693.4L274.9,693.1L275.1,693.4ZM276.1,693.4L276.4,692.9L276.6,693.4ZM279.1,693.4L279.4,693.1L279.9,693.0L280.4,693.2L280.9,693.1L281.4,693.1L281.9,693.2L282.4,693.2L282.6,693.4ZM291.6,693.4L291.9,693.0L292.4,692.9L292.6,693.4ZM294.1,693.4L294.4,693.1L294.6,693.4ZM296.6,693.4L296.9,693.2L297.1,693.4ZM300.6,693.4L300.9,693.2L301.1,693.4ZM301.6,693.4L301.9,693.0L302.1,693.4ZM306.6,693.4L306.9,693.2L307.1,693.4ZM307.6,693.4L307.9,692.9L308.4,693.2L308.6,693.4ZM312.1,693.4L312.4,693.1L312.6,693.4ZM324.6,693.4L324.9,692.8L325.1,693.4ZM330.6,693.4L330.9,693.1L331.1,693.4ZM334.6,693.4L334.9,693.1L335.1,693.4ZM336.1,693.4L336.4,692.9L336.9,693.1L337.4,693.1L337.6,693.4ZM343.1,693.4L343.4,693.2L343.6,693.4ZM348.6,693.4L348.9,692.8L349.1,693.4ZM351.1,693.4L351.4,693.1L351.6,693.4ZM352.6,693.4L352.9,692.9L353.4,692.8L353.6,693.4ZM355.6,693.4L355.9,693.0L356.1,693.4ZM357.6,693.4L357.9,693.0L358.1,693.4Z" fill="#3b52a8"/><text x="57.4" y="682.8" font-size="2.6" fill="#888">[0 - 2.00]</text><line x1="56.40" y1="706.30" x2="359.70" y2="706.30" stroke="#ec5a6e" stroke-width="0.9"/><path d="M56.1,706.4L56.4,705.8L56.6,706.4ZM61.6,706.4L61.9,706.2L62.4,706.1L62.9,705.9L63.4,705.6L63.9,705.4L64.4,705.6L64.9,705.5L65.4,706.1L65.9,706.1L66.4,706.0L66.9,706.0L67.4,705.8L67.9,705.7L68.4,705.8L68.9,705.7L69.4,705.7L69.9,705.7L70.4,705.7L70.9,705.7L71.4,705.8L71.9,705.7L72.4,705.8L72.9,705.9L73.4,706.0L73.9,706.1L74.4,706.1L74.9,706.1L75.4,705.8L75.9,706.2L76.2,706.4ZM79.2,706.4L79.4,705.8L79.7,706.4ZM80.7,706.4L80.9,706.2L81.4,706.1L81.9,705.7L82.4,705.6L82.9,704.9L83.4,702.6L83.9,700.3L84.4,701.3L84.9,702.4L85.4,701.9L85.9,701.6L86.4,700.8L86.9,701.2L87.4,701.5L87.9,696.5L88.4,699.3L88.9,702.1L89.4,703.0L89.9,699.1L90.4,697.2L90.9,697.3L91.4,701.4L91.9,704.1L92.4,698.9L92.9,695.9L93.4,701.4L93.9,705.4L94.4,705.8L94.9,706.2L95.4,705.8L95.9,704.8L96.4,704.0L96.9,703.1L97.4,702.8L97.9,704.6L98.4,705.4L98.9,704.8L99.4,703.7L99.9,703.8L100.4,705.2L100.9,706.1L101.2,706.4ZM101.7,706.4L101.9,706.0L102.4,706.1L102.9,705.7L103.4,704.5L103.9,703.1L104.4,701.9L104.9,700.1L105.4,700.6L105.9,702.6L106.4,703.9L106.9,705.2L107.4,706.0L107.9,706.0L108.4,705.4L108.9,704.7L109.4,703.5L109.9,703.1L110.4,702.9L110.9,704.3L111.4,705.1L111.9,705.8L112.4,705.5L112.9,704.5L113.4,703.9L113.9,704.6L114.4,705.1L114.9,705.8L115.4,705.7L115.7,706.4ZM116.7,706.4L116.9,706.1L117.2,706.4ZM121.7,706.4L121.9,705.8L122.4,705.6L122.7,706.4ZM124.2,706.4L124.4,705.9L124.7,706.4ZM127.2,706.4L127.4,705.7L127.9,705.9L128.2,706.4ZM135.7,706.4L135.9,706.1L136.2,706.4ZM136.7,706.4L136.9,706.2L137.4,706.2L137.9,706.2L138.4,706.1L138.7,706.4ZM139.2,706.4L139.4,705.7L139.7,706.4ZM141.2,706.4L141.4,705.7L141.7,706.4ZM142.2,706.4L142.4,705.9L142.9,705.9L143.2,706.4ZM144.7,706.4L144.9,705.6L145.2,706.4ZM146.2,706.4L146.4,705.7L146.9,705.9L147.4,705.6L147.9,706.0L148.2,706.4ZM149.2,706.4L149.4,706.1L149.9,705.9L150.4,706.0L150.9,706.2L151.2,706.4ZM153.2,706.4L153.4,706.0L153.7,706.4ZM157.7,706.4L157.9,705.5L158.4,705.7L158.9,704.9L159.4,704.3L159.9,704.6L160.4,705.4L160.9,706.1L161.4,705.5L161.9,706.2L162.2,706.4ZM162.7,706.4L162.9,706.2L163.2,706.4ZM166.7,706.4L166.9,705.5L167.4,705.7L167.7,706.4ZM168.2,706.4L168.4,705.6L168.7,706.4ZM176.2,706.4L176.4,705.8L176.9,705.5L177.2,706.4ZM180.2,706.4L180.4,706.1L180.9,705.5L181.2,706.4ZM183.7,706.4L183.9,706.2L184.4,705.9L184.9,705.7L185.4,705.8L185.9,706.1L186.2,706.4ZM191.7,706.4L191.9,705.7L192.2,706.4ZM195.2,706.4L195.4,705.6L195.9,706.0L196.2,706.4ZM199.7,706.4L199.9,706.1L200.2,706.4ZM200.7,706.4L200.9,705.6L201.2,706.4ZM202.2,706.4L202.4,706.2L202.7,706.4ZM206.2,706.4L206.4,705.9L206.9,705.6L207.2,706.4ZM208.7,706.4L208.9,705.8L209.4,706.1L209.9,705.7L210.2,706.4ZM211.7,706.4L211.9,705.5L212.2,706.4ZM217.7,706.4L217.9,705.8L218.2,706.4ZM218.7,706.4L218.9,705.7L219.2,706.4ZM222.2,706.4L222.4,706.1L222.7,706.4ZM228.2,706.4L228.4,706.0L228.9,705.7L229.2,706.4ZM235.7,706.4L235.9,705.6L236.2,706.4ZM237.2,706.4L237.4,705.6L237.7,706.4ZM239.2,706.4L239.4,705.8L239.9,705.6L240.2,706.4ZM244.2,706.4L244.4,705.9L244.7,706.4ZM246.7,706.4L246.9,706.0L247.2,706.4ZM247.7,706.4L247.9,705.8L248.4,706.1L248.9,705.9L249.4,705.7L249.9,705.4L250.4,705.6L250.9,705.7L251.4,706.1L251.7,706.4ZM252.7,706.4L252.9,705.9L253.2,706.4ZM253.7,706.4L253.9,706.0L254.4,706.0L254.9,705.9L255.2,706.4ZM261.6,706.4L261.9,705.7L262.4,706.0L262.6,706.4ZM265.1,706.4L265.4,706.0L265.6,706.4ZM266.1,706.4L266.4,705.5L266.9,705.8L267.1,706.4ZM268.6,706.4L268.9,705.6L269.1,706.4ZM269.6,706.4L269.9,705.8L270.1,706.4ZM271.1,706.4L271.4,706.0L271.6,706.4ZM274.6,706.4L274.9,705.7L275.4,706.0L275.6,706.4ZM276.1,706.4L276.4,706.1L276.6,706.4ZM279.1,706.4L279.4,706.1L279.9,705.7L280.4,705.4L280.9,705.0L281.4,705.1L281.9,705.4L282.4,705.8L282.9,706.2L283.1,706.4ZM285.1,706.4L285.4,705.8L285.6,706.4ZM288.1,706.4L288.4,706.0L288.6,706.4ZM289.1,706.4L289.4,705.5L289.6,706.4ZM290.6,706.4L290.9,706.1L291.4,705.7L291.6,706.4ZM292.6,706.4L292.9,705.9L293.1,706.4ZM294.6,706.4L294.9,705.9L295.1,706.4ZM296.1,706.4L296.4,705.5L296.6,706.4ZM298.1,706.4L298.4,705.8L298.6,706.4ZM301.6,706.4L301.9,705.7L302.4,705.5L302.6,706.4ZM303.1,706.4L303.4,705.5L303.6,706.4ZM304.1,706.4L304.4,705.9L304.6,706.4ZM305.1,706.4L305.4,705.6L305.9,706.2L306.4,706.1L306.6,706.4ZM307.1,706.4L307.4,706.2L307.9,705.8L308.4,705.7L308.6,706.4ZM312.6,706.4L312.9,705.6L313.4,705.7L313.6,706.4ZM314.6,706.4L314.9,706.2L315.1,706.4ZM318.6,706.4L318.9,706.1L319.1,706.4ZM321.1,706.4L321.4,705.8L321.6,706.4ZM322.6,706.4L322.9,706.0L323.1,706.4ZM323.6,706.4L323.9,705.6L324.1,706.4ZM324.6,706.4L324.9,705.6L325.4,706.0L325.6,706.4ZM327.6,706.4L327.9,706.0L328.4,705.6L328.9,705.8L329.1,706.4ZM333.1,706.4L333.4,705.7L333.6,706.4ZM335.1,706.4L335.4,705.9L335.6,706.4ZM339.6,706.4L339.9,705.7L340.4,705.6L340.6,706.4ZM346.1,706.4L346.4,705.8L346.6,706.4ZM347.1,706.4L347.4,706.1L347.6,706.4ZM350.1,706.4L350.4,705.8L350.6,706.4ZM352.6,706.4L352.9,706.2L353.4,705.5L353.6,706.4ZM358.1,706.4L358.4,705.9L358.6,706.4Z" fill="#e5193a"/><text x="57.4" y="695.8" font-size="2.6" fill="#888">[0 - 2.00]</text><line x1="57.40" y1="713.70" x2="358.70" y2="713.70" stroke="#5a6fbf" stroke-width="0.5" stroke-dasharray="1.5,2.5"/><rect x="89.00" y="712.40" width="4.30" height="2.60" fill="#3b52a8" stroke="none" stroke-width="1"/><rect x="161.50" y="712.70" width="1.50" height="2.00" fill="#3b52a8" stroke="none" stroke-width="1"/><rect x="184.30" y="712.70" width="2.50" height="2.00" fill="#3b52a8" stroke="none" stroke-width="1"/><rect x="215.80" y="712.50" width="5.20" height="2.40" fill="#3b52a8" stroke="none" stroke-width="1"/><rect x="224.00" y="712.50" width="2.40" height="2.40" fill="#3b52a8" stroke="none" stroke-width="1"/><rect x="242.80" y="712.70" width="22.20" height="2.00" fill="#3b52a8" stroke="none" stroke-width="1"/><text x="58.17" y="724.50" font-size="6.6" fill="#333333" textLength="43.07" lengthAdjust="spacingAndGlyphs">NR_131203.1</text><text x="207.17" y="724.80" font-size="10.4" fill="#333333" textLength="26.39" lengthAdjust="spacingAndGlyphs">KLK3</text><rect x="95.00" y="639.30" width="21.60" height="72.50" fill="none" stroke="#ef5560" stroke-width="1.1"/><text x="7.36" y="646.20" font-size="9.2" fill="#333333" textLength="44.73" lengthAdjust="spacingAndGlyphs">R1881 nM</text><text x="45.70" y="657.90" font-size="10.2" fill="#333333">0</text><text x="37.30" y="670.90" font-size="10.2" fill="#333333">.01</text><text x="37.30" y="683.90" font-size="10.2" fill="#333333">.03</text><text x="37.30" y="696.90" font-size="10.2" fill="#333333">.06</text><text x="40.00" y="709.90" font-size="10.2" fill="#333333">10</text><line x1="55.40" y1="735.80" x2="191.00" y2="735.80" stroke="#3a3a3a" stroke-width="1.1"/><line x1="226.40" y1="735.80" x2="360.70" y2="735.80" stroke="#3a3a3a" stroke-width="1.1"/><text x="194.08" y="739.30" font-size="10.5" fill="#333333" textLength="29.23" lengthAdjust="spacingAndGlyphs">188kb</text><rect x="55.40" y="740.00" width="305.30" height="77.20" fill="#f6f7f8" stroke="none" stroke-width="1"/><line x1="55.70" y1="740.00" x2="55.70" y2="817.20" stroke="#d8d8d8" stroke-width="0.6"/><line x1="360.40" y1="740.00" x2="360.40" y2="817.20" stroke="#d8d8d8" stroke-width="0.6"/><line x1="55.40" y1="811.20" x2="360.70" y2="811.20" stroke="#e4e4e4" stroke-width="0.6"/><line x1="56.40" y1="754.20" x2="359.70" y2="754.20" stroke="#6a6a6a" stroke-width="0.9"/><path d="M66.7,754.3L66.9,754.1L67.2,754.3ZM67.7,754.3L67.9,754.1L68.2,754.3ZM69.7,754.3L69.9,754.1L70.2,754.3ZM71.2,754.3L71.4,754.1L71.9,754.1L72.4,754.0L72.9,754.1L73.4,754.1L73.9,754.1L74.4,754.0L74.7,754.3ZM77.2,754.3L77.4,754.1L77.7,754.3ZM79.7,754.3L79.9,754.0L80.4,754.1L80.7,754.3ZM83.2,754.3L83.4,754.1L83.7,754.3ZM84.7,754.3L84.9,754.1L85.2,754.3ZM85.7,754.3L85.9,754.1L86.2,754.3ZM87.2,754.3L87.4,754.1L87.7,754.3ZM101.7,754.3L101.9,754.1L102.4,754.0L102.7,754.3ZM106.7,754.3L106.9,754.0L107.4,754.1L107.7,754.3ZM110.2,754.3L110.4,754.1L110.9,754.1L111.2,754.3ZM114.7,754.3L114.9,754.0L115.2,754.3ZM120.7,754.3L120.9,754.1L121.2,754.3ZM128.2,754.3L128.4,754.1L128.7,754.3ZM136.7,754.3L136.9,754.1L137.2,754.3ZM138.2,754.3L138.4,754.0L138.9,754.0L139.2,754.3ZM142.7,754.3L142.9,754.1L143.4,754.1L143.7,754.3ZM146.2,754.3L146.4,754.1L146.7,754.3ZM151.7,754.3L151.9,754.1L152.2,754.3ZM157.7,754.3L157.9,754.1L158.4,754.1L158.7,754.3ZM163.2,754.3L163.4,754.0L163.7,754.3ZM167.2,754.3L167.4,754.1L167.7,754.3ZM168.7,754.3L168.9,754.1L169.2,754.3ZM170.2,754.3L170.4,754.0L170.7,754.3ZM171.2,754.3L171.4,754.1L171.7,754.3ZM173.2,754.3L173.4,754.1L173.7,754.3ZM179.7,754.3L179.9,754.0L180.4,754.1L180.7,754.3ZM182.7,754.3L182.9,754.1L183.2,754.3ZM191.7,754.3L191.9,754.0L192.2,754.3ZM196.2,754.3L196.4,754.0L196.7,754.3ZM199.2,754.3L199.4,754.0L199.7,754.3ZM200.2,754.3L200.4,754.0L200.7,754.3ZM201.7,754.3L201.9,754.0L202.2,754.3ZM207.2,754.3L207.4,754.1L207.7,754.3ZM211.2,754.3L211.4,754.0L211.7,754.3ZM213.2,754.3L213.4,754.1L213.7,754.3ZM215.7,754.3L215.9,754.1L216.2,754.3ZM220.7,754.3L220.9,754.1L221.2,754.3ZM223.7,754.3L223.9,754.1L224.2,754.3ZM230.2,754.3L230.4,754.1L230.7,754.3ZM232.2,754.3L232.4,754.0L232.7,754.3ZM241.2,754.3L241.4,754.1L241.7,754.3ZM242.2,754.3L242.4,754.1L242.7,754.3ZM244.7,754.3L244.9,754.0L245.2,754.3ZM245.7,754.3L245.9,754.1L246.2,754.3ZM248.2,754.3L248.4,754.0L248.7,754.3ZM250.7,754.3L250.9,754.1L251.2,754.3ZM252.7,754.3L252.9,754.1L253.2,754.3ZM255.2,754.3L255.4,754.1L255.7,754.3ZM256.1,754.3L256.4,754.0L256.6,754.3ZM265.6,754.3L265.9,754.0L266.4,753.8L266.9,753.6L267.4,753.4L267.9,753.4L268.4,751.3L268.9,751.5L269.4,752.8L269.9,754.1L270.1,754.3ZM271.6,754.3L271.9,754.1L272.1,754.3ZM272.6,754.3L272.9,754.1L273.4,754.0L273.9,754.1L274.1,754.3ZM277.1,754.3L277.4,754.0L277.6,754.3ZM278.6,754.3L278.9,754.1L279.1,754.3ZM284.6,754.3L284.9,754.1L285.1,754.3ZM286.1,754.3L286.4,754.1L286.6,754.3ZM288.6,754.3L288.9,754.1L289.1,754.3ZM299.6,754.3L299.9,754.0L300.1,754.3ZM306.1,754.3L306.4,754.1L306.6,754.3ZM307.6,754.3L307.9,754.1L308.1,754.3ZM309.1,754.3L309.4,754.1L309.6,754.3ZM316.1,754.3L316.4,754.1L316.6,754.3ZM322.6,754.3L322.9,754.0L323.4,753.3L323.9,754.0L324.4,754.0L324.6,754.3ZM325.6,754.3L325.9,754.0L326.4,753.2L326.9,752.0L327.4,751.3L327.9,751.9L328.4,753.0L328.9,753.7L329.4,753.3L329.9,751.6L330.4,750.1L330.9,750.7L331.4,752.5L331.9,752.7L332.4,748.9L332.9,749.1L333.4,752.0L333.9,753.9L334.4,753.4L334.9,752.4L335.4,753.0L335.9,753.9L336.1,754.3ZM336.6,754.3L336.9,754.1L337.1,754.3ZM337.6,754.3L337.9,753.2L338.4,751.2L338.9,751.8L339.4,753.7L339.6,754.3ZM340.6,754.3L340.9,754.0L341.4,753.3L341.9,753.7L342.1,754.3ZM343.6,754.3L343.9,754.0L344.1,754.3ZM345.6,754.3L345.9,754.1L346.4,753.6L346.9,752.8L347.4,753.2L347.9,754.0L348.1,754.3ZM354.1,754.3L354.4,754.0L354.6,754.3ZM358.6,754.3L358.9,754.1L359.1,754.3Z" fill="#4d4d4d"/><text x="57.4" y="743.7" font-size="2.6" fill="#888">[0 - 2.00]</text><line x1="56.40" y1="767.20" x2="359.70" y2="767.20" stroke="#6b7cc2" stroke-width="0.9"/><path d="M56.1,767.3L56.4,767.0L56.6,767.3ZM57.6,767.3L57.9,767.0L58.1,767.3ZM61.1,767.3L61.4,767.0L61.6,767.3ZM62.1,767.3L62.4,766.9L62.6,767.3ZM65.2,767.3L65.4,766.9L65.7,767.3ZM66.2,767.3L66.4,767.0L66.9,766.9L67.2,767.3ZM70.2,767.3L70.4,767.0L70.9,766.9L71.4,766.9L71.9,766.8L72.4,766.8L72.9,766.8L73.4,766.9L73.9,767.0L74.4,767.1L74.7,767.3ZM79.2,767.3L79.4,767.1L79.7,767.3ZM91.2,767.3L91.4,766.9L91.7,767.3ZM106.7,767.3L106.9,767.0L107.2,767.3ZM107.7,767.3L107.9,767.1L108.2,767.3ZM110.2,767.3L110.4,767.1L110.9,767.0L111.4,767.1L111.7,767.3ZM112.7,767.3L112.9,767.0L113.2,767.3ZM113.7,767.3L113.9,767.1L114.2,767.3ZM115.7,767.3L115.9,767.1L116.2,767.3ZM117.2,767.3L117.4,767.0L117.7,767.3ZM119.2,767.3L119.4,767.1L119.9,767.0L120.4,767.0L120.7,767.3ZM122.2,767.3L122.4,767.1L122.7,767.3ZM125.7,767.3L125.9,767.1L126.2,767.3ZM129.7,767.3L129.9,767.0L130.2,767.3ZM132.7,767.3L132.9,767.0L133.2,767.3ZM134.7,767.3L134.9,767.0L135.2,767.3ZM138.2,767.3L138.4,767.0L138.7,767.3ZM140.2,767.3L140.4,767.1L140.7,767.3ZM142.2,767.3L142.4,767.1L142.9,767.0L143.4,767.1L143.7,767.3ZM147.2,767.3L147.4,766.9L147.7,767.3ZM151.7,767.3L151.9,767.1L152.2,767.3ZM154.2,767.3L154.4,766.9L154.7,767.3ZM159.2,767.3L159.4,767.0L159.9,767.1L160.2,767.3ZM163.7,767.3L163.9,767.1L164.2,767.3ZM164.7,767.3L164.9,766.9L165.4,767.0L165.7,767.3ZM166.7,767.3L166.9,767.1L167.4,767.1L167.7,767.3ZM171.2,767.3L171.4,767.0L171.7,767.3ZM174.2,767.3L174.4,767.0L174.7,767.3ZM176.2,767.3L176.4,767.1L176.9,766.9L177.2,767.3ZM191.7,767.3L191.9,767.0L192.2,767.3ZM194.2,767.3L194.4,767.0L194.7,767.3ZM195.2,767.3L195.4,767.0L195.7,767.3ZM197.2,767.3L197.4,767.0L197.7,767.3ZM204.2,767.3L204.4,766.9L204.7,767.3ZM205.7,767.3L205.9,766.9L206.2,767.3ZM208.7,767.3L208.9,767.1L209.4,767.1L209.7,767.3ZM212.2,767.3L212.4,767.0L212.7,767.3ZM221.7,767.3L221.9,767.0L222.2,767.3ZM225.7,767.3L225.9,767.0L226.2,767.3ZM237.2,767.3L237.4,767.0L237.7,767.3ZM239.2,767.3L239.4,767.0L239.7,767.3ZM242.7,767.3L242.9,767.0L243.2,767.3ZM245.2,767.3L245.4,767.0L245.7,767.3ZM246.2,767.3L246.4,766.9L246.7,767.3ZM247.2,767.3L247.4,767.0L247.7,767.3ZM254.2,767.3L254.4,767.0L254.9,767.0L255.2,767.3ZM255.7,767.3L255.9,767.1L256.1,767.3ZM256.6,767.3L256.9,767.1L257.4,767.0L257.6,767.3ZM261.6,767.3L261.9,767.1L262.1,767.3ZM262.6,767.3L262.9,767.0L263.1,767.3ZM265.6,767.3L265.9,766.9L266.4,766.5L266.9,766.2L267.4,765.9L267.9,766.1L268.4,762.9L268.9,762.8L269.4,765.6L269.9,767.0L270.1,767.3ZM272.6,767.3L272.9,767.0L273.4,766.9L273.9,766.9L274.4,767.1L274.9,767.0L275.1,767.3ZM279.6,767.3L279.9,767.1L280.1,767.3ZM281.1,767.3L281.4,766.9L281.6,767.3ZM282.6,767.3L282.9,767.0L283.1,767.3ZM284.1,767.3L284.4,767.0L284.6,767.3ZM290.6,767.3L290.9,767.0L291.1,767.3ZM293.1,767.3L293.4,766.9L293.6,767.3ZM295.1,767.3L295.4,767.1L295.6,767.3ZM305.1,767.3L305.4,767.1L305.6,767.3ZM306.1,767.3L306.4,767.1L306.6,767.3ZM307.1,767.3L307.4,767.0L307.9,767.1L308.1,767.3ZM321.1,767.3L321.4,767.1L321.6,767.3ZM322.6,767.3L322.9,766.7L323.4,765.6L323.9,766.8L324.1,767.3ZM325.1,767.3L325.4,767.1L325.9,766.8L326.4,765.8L326.9,764.7L327.4,763.7L327.9,763.7L328.4,765.6L328.9,766.5L329.4,765.7L329.9,763.4L330.4,759.9L330.9,761.2L331.4,764.8L331.9,765.0L332.4,760.8L332.9,758.9L333.4,764.2L333.9,766.7L334.4,765.7L334.9,764.5L335.4,765.1L335.9,766.7L336.1,767.3ZM337.6,767.3L337.9,766.2L338.4,764.4L338.9,764.8L339.4,766.7L339.6,767.3ZM340.6,767.3L340.9,767.0L341.4,766.3L341.9,766.7L342.1,767.3ZM345.6,767.3L345.9,767.1L346.4,766.6L346.9,765.7L347.4,766.1L347.9,767.0L348.1,767.3ZM352.1,767.3L352.4,767.1L352.6,767.3ZM355.1,767.3L355.4,767.1L355.6,767.3Z" fill="#3b52a8"/><text x="57.4" y="756.7" font-size="2.6" fill="#888">[0 - 2.00]</text><line x1="56.40" y1="780.20" x2="359.70" y2="780.20" stroke="#6b7cc2" stroke-width="0.9"/><path d="M59.6,780.3L59.9,779.9L60.1,780.3ZM63.1,780.3L63.4,779.9L63.6,780.3ZM64.7,780.3L64.9,780.0L65.2,780.3ZM70.7,780.3L70.9,780.1L71.4,780.0L71.9,779.9L72.4,779.8L72.9,779.8L73.4,779.9L73.9,780.0L74.4,780.1L74.7,780.3ZM78.2,780.3L78.4,779.9L78.7,780.3ZM82.2,780.3L82.4,779.9L82.9,780.1L83.2,780.3ZM86.7,780.3L86.9,780.0L87.4,780.1L87.7,780.3ZM96.2,780.3L96.4,780.1L96.7,780.3ZM97.7,780.3L97.9,780.0L98.2,780.3ZM99.2,780.3L99.4,779.9L99.7,780.3ZM102.2,780.3L102.4,780.1L102.7,780.3ZM104.7,780.3L104.9,780.1L105.2,780.3ZM109.7,780.3L109.9,780.0L110.4,779.9L110.9,780.0L111.4,780.1L111.9,780.1L112.4,780.0L112.9,780.0L113.2,780.3ZM114.2,780.3L114.4,780.1L114.7,780.3ZM116.2,780.3L116.4,780.1L116.7,780.3ZM117.2,780.3L117.4,780.0L117.7,780.3ZM120.7,780.3L120.9,780.0L121.2,780.3ZM123.2,780.3L123.4,780.1L123.7,780.3ZM126.2,780.3L126.4,780.1L126.9,780.1L127.2,780.3ZM127.7,780.3L127.9,780.1L128.2,780.3ZM130.2,780.3L130.4,779.9L130.7,780.3ZM132.7,780.3L132.9,780.1L133.2,780.3ZM142.2,780.3L142.4,780.1L142.9,780.0L143.4,780.1L143.7,780.3ZM147.2,780.3L147.4,779.9L147.7,780.3ZM150.7,780.3L150.9,780.1L151.2,780.3ZM155.2,780.3L155.4,780.0L155.7,780.3ZM158.2,780.3L158.4,780.1L158.7,780.3ZM159.2,780.3L159.4,780.1L159.7,780.3ZM160.7,780.3L160.9,779.9L161.2,780.3ZM162.2,780.3L162.4,780.0L162.7,780.3ZM164.7,780.3L164.9,780.1L165.2,780.3ZM168.2,780.3L168.4,780.1L168.7,780.3ZM170.2,780.3L170.4,780.1L170.7,780.3ZM173.2,780.3L173.4,780.1L173.9,780.0L174.4,780.1L174.7,780.3ZM175.7,780.3L175.9,780.0L176.2,780.3ZM178.7,780.3L178.9,780.1L179.2,780.3ZM179.7,780.3L179.9,779.9L180.2,780.3ZM187.2,780.3L187.4,780.0L187.7,780.3ZM190.7,780.3L190.9,780.0L191.2,780.3ZM192.7,780.3L192.9,779.9L193.2,780.3ZM195.7,780.3L195.9,779.9L196.2,780.3ZM197.7,780.3L197.9,780.1L198.2,780.3ZM201.7,780.3L201.9,780.0L202.2,780.3ZM208.2,780.3L208.4,780.1L208.7,780.3ZM209.7,780.3L209.9,779.9L210.2,780.3ZM211.7,780.3L211.9,779.9L212.2,780.3ZM218.2,780.3L218.4,780.0L218.9,779.9L219.2,780.3ZM222.2,780.3L222.4,780.0L222.7,780.3ZM229.2,780.3L229.4,780.1L229.7,780.3ZM230.2,780.3L230.4,780.0L230.7,780.3ZM233.2,780.3L233.4,780.1L233.7,780.3ZM234.7,780.3L234.9,780.1L235.4,780.1L235.7,780.3ZM240.7,780.3L240.9,780.1L241.2,780.3ZM243.7,780.3L243.9,780.0L244.2,780.3ZM249.7,780.3L249.9,780.0L250.2,780.3ZM254.7,780.3L254.9,780.1L255.2,780.3ZM265.6,780.3L265.9,780.0L266.4,779.7L266.9,779.5L267.4,779.5L267.9,779.1L268.4,776.9L268.9,777.0L269.4,778.6L269.9,780.0L270.1,780.3ZM271.6,780.3L271.9,780.0L272.1,780.3ZM272.6,780.3L272.9,780.0L273.4,779.9L273.9,779.9L274.4,780.1L274.6,780.3ZM278.6,780.3L278.9,780.1L279.1,780.3ZM280.1,780.3L280.4,780.1L280.6,780.3ZM281.1,780.3L281.4,780.1L281.6,780.3ZM288.1,780.3L288.4,780.1L288.6,780.3ZM290.1,780.3L290.4,780.1L290.6,780.3ZM293.6,780.3L293.9,780.1L294.1,780.3ZM300.6,780.3L300.9,779.9L301.1,780.3ZM302.6,780.3L302.9,780.1L303.1,780.3ZM307.1,780.3L307.4,780.0L307.6,780.3ZM310.1,780.3L310.4,780.1L310.9,779.9L311.4,780.1L311.6,780.3ZM312.6,780.3L312.9,780.1L313.4,780.1L313.6,780.3ZM317.6,780.3L317.9,780.1L318.4,780.0L318.6,780.3ZM320.6,780.3L320.9,780.1L321.1,780.3ZM322.6,780.3L322.9,779.9L323.4,778.9L323.9,779.8L324.1,780.3ZM325.6,780.3L325.9,780.0L326.4,779.3L326.9,778.0L327.4,777.2L327.9,778.1L328.4,778.7L328.9,779.7L329.4,779.4L329.9,777.6L330.4,776.6L330.9,777.4L331.4,778.9L331.9,778.7L332.4,776.0L332.9,775.9L333.4,778.3L333.9,779.9L334.4,779.2L334.9,778.5L335.4,779.0L335.9,779.8L336.1,780.3ZM336.6,780.3L336.9,779.9L337.1,780.3ZM337.6,780.3L337.9,779.5L338.4,777.4L338.9,778.1L339.4,779.7L339.9,780.0L340.1,780.3ZM340.6,780.3L340.9,780.0L341.4,779.3L341.9,779.7L342.1,780.3ZM344.6,780.3L344.9,780.0L345.1,780.3ZM345.6,780.3L345.9,780.1L346.4,779.6L346.9,778.8L347.4,779.1L347.9,780.0L348.1,780.3ZM348.6,780.3L348.9,780.0L349.1,780.3ZM354.1,780.3L354.4,780.0L354.9,780.1L355.1,780.3ZM356.1,780.3L356.4,780.1L356.6,780.3ZM357.1,780.3L357.4,780.0L357.6,780.3ZM359.1,780.3L359.4,780.0L359.6,780.3Z" fill="#3b52a8"/><text x="57.4" y="769.7" font-size="2.6" fill="#888">[0 - 2.00]</text><line x1="56.40" y1="793.20" x2="359.70" y2="793.20" stroke="#6b7cc2" stroke-width="0.9"/><path d="M57.6,793.3L57.9,793.1L58.1,793.3ZM60.1,793.3L60.4,793.1L60.6,793.3ZM63.6,793.3L63.9,793.0L64.2,793.3ZM69.2,793.3L69.4,793.1L69.7,793.3ZM70.2,793.3L70.4,793.1L70.9,793.0L71.4,792.8L71.9,792.6L72.4,792.6L72.9,792.6L73.4,792.7L73.9,792.9L74.4,793.0L74.7,793.3ZM75.2,793.3L75.4,793.0L75.7,793.3ZM76.7,793.3L76.9,793.1L77.2,793.3ZM78.7,793.3L78.9,792.9L79.4,793.1L79.9,793.0L80.2,793.3ZM86.2,793.3L86.4,792.9L86.7,793.3ZM88.2,793.3L88.4,793.1L88.7,793.3ZM98.7,793.3L98.9,793.0L99.2,793.3ZM100.7,793.3L100.9,792.9L101.4,793.1L101.7,793.3ZM102.2,793.3L102.4,793.1L102.7,793.3ZM104.2,793.3L104.4,793.1L104.7,793.3ZM105.2,793.3L105.4,793.0L105.9,793.0L106.4,793.1L106.7,793.3ZM107.2,793.3L107.4,793.0L107.7,793.3ZM109.7,793.3L109.9,793.1L110.4,792.9L110.9,792.9L111.4,793.0L111.7,793.3ZM121.7,793.3L121.9,793.1L122.4,793.1L122.7,793.3ZM124.7,793.3L124.9,792.9L125.2,793.3ZM125.7,793.3L125.9,793.0L126.2,793.3ZM127.2,793.3L127.4,793.0L127.9,793.0L128.2,793.3ZM129.7,793.3L129.9,792.9L130.2,793.3ZM130.7,793.3L130.9,792.9L131.2,793.3ZM132.7,793.3L132.9,793.0L133.2,793.3ZM138.2,793.3L138.4,793.1L138.7,793.3ZM142.2,793.3L142.4,793.0L142.9,792.9L143.4,792.9L143.9,793.1L144.2,793.3ZM145.2,793.3L145.4,793.1L145.7,793.3ZM147.2,793.3L147.4,793.1L147.7,793.3ZM151.7,793.3L151.9,793.0L152.2,793.3ZM157.2,793.3L157.4,793.0L157.7,793.3ZM162.2,793.3L162.4,793.1L162.9,793.1L163.2,793.3ZM165.2,793.3L165.4,793.0L165.7,793.3ZM172.7,793.3L172.9,793.0L173.2,793.3ZM174.2,793.3L174.4,793.0L174.7,793.3ZM175.7,793.3L175.9,792.9L176.2,793.3ZM176.7,793.3L176.9,793.0L177.2,793.3ZM182.7,793.3L182.9,793.0L183.2,793.3ZM183.7,793.3L183.9,793.0L184.2,793.3ZM184.7,793.3L184.9,793.0L185.4,792.9L185.9,793.0L186.2,793.3ZM188.7,793.3L188.9,793.0L189.2,793.3ZM194.2,793.3L194.4,793.0L194.7,793.3ZM204.7,793.3L204.9,793.1L205.2,793.3ZM205.7,793.3L205.9,793.1L206.2,793.3ZM209.2,793.3L209.4,793.1L209.7,793.3ZM212.2,793.3L212.4,793.1L212.7,793.3ZM214.2,793.3L214.4,792.9L214.7,793.3ZM217.2,793.3L217.4,793.1L217.7,793.3ZM220.7,793.3L220.9,792.9L221.2,793.3ZM221.7,793.3L221.9,793.0L222.2,793.3ZM223.2,793.3L223.4,793.0L223.7,793.3ZM234.7,793.3L234.9,793.1L235.2,793.3ZM238.2,793.3L238.4,793.1L238.9,792.9L239.2,793.3ZM244.7,793.3L244.9,793.0L245.2,793.3ZM248.2,793.3L248.4,793.1L248.7,793.3ZM252.2,793.3L252.4,793.0L252.7,793.3ZM262.1,793.3L262.4,793.1L262.6,793.3ZM264.6,793.3L264.9,792.9L265.1,793.3ZM265.6,793.3L265.9,792.9L266.4,792.5L266.9,792.1L267.4,791.8L267.9,791.7L268.4,789.0L268.9,789.0L269.4,791.5L269.9,792.9L270.4,793.0L270.6,793.3ZM272.1,793.3L272.4,793.1L272.9,792.9L273.4,792.6L273.9,792.7L274.4,793.1L274.6,793.3ZM275.1,793.3L275.4,793.1L275.6,793.3ZM277.1,793.3L277.4,793.0L277.6,793.3ZM280.1,793.3L280.4,793.0L280.6,793.3ZM283.6,793.3L283.9,793.1L284.1,793.3ZM285.1,793.3L285.4,793.1L285.6,793.3ZM286.6,793.3L286.9,793.0L287.1,793.3ZM290.6,793.3L290.9,793.0L291.1,793.3ZM295.6,793.3L295.9,793.0L296.1,793.3ZM299.1,793.3L299.4,793.1L299.6,793.3ZM301.6,793.3L301.9,793.0L302.1,793.3ZM302.6,793.3L302.9,793.0L303.4,793.0L303.9,793.0L304.1,793.3ZM306.6,793.3L306.9,792.9L307.1,793.3ZM308.6,793.3L308.9,793.0L309.1,793.3ZM313.6,793.3L313.9,793.0L314.1,793.3ZM316.1,793.3L316.4,793.1L316.6,793.3ZM321.6,793.3L321.9,793.1L322.1,793.3ZM322.6,793.3L322.9,792.5L323.4,791.1L323.9,792.5L324.1,793.3ZM324.6,793.3L324.9,793.1L325.4,793.1L325.9,792.9L326.4,791.9L326.9,790.5L327.4,789.9L327.9,790.2L328.4,791.4L328.9,792.6L329.4,791.8L329.9,789.0L330.4,787.3L330.9,788.0L331.4,790.7L331.9,790.7L332.4,787.6L332.9,787.0L333.4,790.6L333.9,792.8L334.4,791.7L334.9,790.6L335.4,791.2L335.9,792.7L336.1,793.3ZM337.6,793.3L337.9,792.4L338.4,790.4L338.9,790.5L339.4,792.7L339.6,793.3ZM340.1,793.3L340.4,792.9L340.9,793.0L341.4,792.3L341.9,792.8L342.1,793.3ZM345.6,793.3L345.9,793.1L346.4,792.3L346.9,791.3L347.4,792.0L347.9,792.9L348.1,793.3ZM354.6,793.3L354.9,793.1L355.4,793.1L355.6,793.3ZM359.1,793.3L359.4,793.1L359.6,793.3Z" fill="#3b52a8"/><text x="57.4" y="782.7" font-size="2.6" fill="#888">[0 - 2.00]</text><line x1="56.40" y1="806.30" x2="359.70" y2="806.30" stroke="#ec5a6e" stroke-width="0.9"/><path d="M57.1,806.4L57.4,805.4L57.9,805.7L58.4,805.6L58.9,805.7L59.1,806.4ZM61.6,806.4L61.9,805.9L62.1,806.4ZM64.7,806.4L64.9,805.6L65.2,806.4ZM65.7,806.4L65.9,806.1L66.2,806.4ZM68.7,806.4L68.9,805.8L69.4,804.8L69.9,803.4L70.4,803.8L70.9,804.8L71.4,803.5L71.9,803.3L72.4,802.5L72.9,803.1L73.4,803.0L73.9,804.3L74.4,805.2L74.9,805.7L75.4,806.1L75.7,806.4ZM77.2,806.4L77.4,805.8L77.7,806.4ZM78.7,806.4L78.9,806.0L79.4,805.9L79.7,806.4ZM81.2,806.4L81.4,805.4L81.7,806.4ZM84.7,806.4L84.9,806.1L85.2,806.4ZM87.7,806.4L87.9,806.1L88.2,806.4ZM93.7,806.4L93.9,805.9L94.4,805.6L94.7,806.4ZM96.2,806.4L96.4,806.0L96.7,806.4ZM97.7,806.4L97.9,805.5L98.2,806.4ZM99.2,806.4L99.4,805.5L99.7,806.4ZM100.2,806.4L100.4,806.2L100.9,805.9L101.4,805.6L101.7,806.4ZM107.2,806.4L107.4,806.2L107.9,805.4L108.2,806.4ZM109.2,806.4L109.4,805.8L109.9,805.6L110.4,804.3L110.9,803.8L111.4,805.0L111.9,805.8L112.2,806.4ZM114.2,806.4L114.4,805.6L114.7,806.4ZM115.2,806.4L115.4,806.2L115.7,806.4ZM117.2,806.4L117.4,806.1L117.9,805.5L118.2,806.4ZM119.2,806.4L119.4,805.8L119.7,806.4ZM121.2,806.4L121.4,805.6L121.7,806.4ZM123.2,806.4L123.4,806.0L123.7,806.4ZM130.2,806.4L130.4,805.7L130.7,806.4ZM131.7,806.4L131.9,805.6L132.2,806.4ZM134.2,806.4L134.4,805.9L134.7,806.4ZM135.7,806.4L135.9,805.6L136.4,805.8L136.7,806.4ZM137.2,806.4L137.4,805.9L137.9,805.9L138.2,806.4ZM141.7,806.4L141.9,805.9L142.4,805.0L142.9,804.3L143.4,804.3L143.9,805.6L144.4,806.2L144.7,806.4ZM146.2,806.4L146.4,805.9L146.7,806.4ZM148.7,806.4L148.9,805.8L149.2,806.4ZM150.2,806.4L150.4,806.1L150.7,806.4ZM155.7,806.4L155.9,806.0L156.2,806.4ZM157.7,806.4L157.9,806.2L158.2,806.4ZM159.2,806.4L159.4,805.4L159.9,805.5L160.2,806.4ZM161.7,806.4L161.9,806.2L162.4,806.0L162.9,805.5L163.4,805.0L163.9,805.2L164.4,805.7L164.7,806.4ZM166.2,806.4L166.4,805.9L166.7,806.4ZM167.2,806.4L167.4,806.1L167.9,805.6L168.2,806.4ZM169.2,806.4L169.4,806.1L169.9,805.6L170.2,806.4ZM180.7,806.4L180.9,805.6L181.4,805.8L181.7,806.4ZM184.2,806.4L184.4,806.1L184.7,806.4ZM186.2,806.4L186.4,805.5L186.7,806.4ZM187.7,806.4L187.9,806.0L188.2,806.4ZM197.7,806.4L197.9,805.5L198.2,806.4ZM199.7,806.4L199.9,805.9L200.2,806.4ZM201.2,806.4L201.4,805.8L201.9,805.7L202.2,806.4ZM203.7,806.4L203.9,805.5L204.2,806.4ZM205.2,806.4L205.4,806.2L205.7,806.4ZM207.2,806.4L207.4,806.0L207.9,805.9L208.2,806.4ZM209.2,806.4L209.4,805.5L209.7,806.4ZM210.7,806.4L210.9,805.7L211.2,806.4ZM211.7,806.4L211.9,805.5L212.2,806.4ZM212.7,806.4L212.9,806.1L213.2,806.4ZM215.7,806.4L215.9,805.9L216.2,806.4ZM218.2,806.4L218.4,805.8L218.9,806.1L219.2,806.4ZM221.2,806.4L221.4,805.8L221.7,806.4ZM222.7,806.4L222.9,806.2L223.4,806.1L223.7,806.4ZM224.2,806.4L224.4,805.8L224.7,806.4ZM225.2,806.4L225.4,805.7L225.7,806.4ZM230.2,806.4L230.4,805.9L230.9,805.8L231.2,806.4ZM232.2,806.4L232.4,806.2L232.7,806.4ZM235.2,806.4L235.4,805.6L235.9,806.1L236.2,806.4ZM237.2,806.4L237.4,805.4L237.7,806.4ZM238.7,806.4L238.9,805.6L239.4,805.8L239.9,805.6L240.2,806.4ZM242.2,806.4L242.4,806.2L242.9,805.8L243.2,806.4ZM247.2,806.4L247.4,806.2L247.9,806.1L248.2,806.4ZM250.2,806.4L250.4,805.5L250.7,806.4ZM251.7,806.4L251.9,805.4L252.2,806.4ZM259.6,806.4L259.9,806.2L260.1,806.4ZM263.1,806.4L263.4,805.7L263.6,806.4ZM265.1,806.4L265.4,806.2L265.9,805.8L266.4,805.1L266.9,804.4L267.4,804.3L267.9,804.4L268.4,802.5L268.9,801.0L269.4,804.5L269.9,806.0L270.1,806.4ZM270.6,806.4L270.9,806.1L271.1,806.4ZM272.1,806.4L272.4,805.9L272.9,805.3L273.4,804.4L273.9,804.7L274.4,805.7L274.9,806.2L275.4,806.2L275.6,806.4ZM277.1,806.4L277.4,805.7L277.6,806.4ZM281.1,806.4L281.4,806.1L281.6,806.4ZM283.1,806.4L283.4,805.6L283.6,806.4ZM295.1,806.4L295.4,806.1L295.6,806.4ZM296.6,806.4L296.9,806.2L297.1,806.4ZM301.1,806.4L301.4,805.9L301.9,806.1L302.1,806.4ZM303.1,806.4L303.4,805.6L303.6,806.4ZM305.1,806.4L305.4,805.6L305.6,806.4ZM306.1,806.4L306.4,805.9L306.6,806.4ZM309.1,806.4L309.4,806.0L309.6,806.4ZM316.1,806.4L316.4,806.2L316.9,806.2L317.1,806.4ZM320.1,806.4L320.4,805.7L320.6,806.4ZM322.6,806.4L322.9,803.6L323.4,796.0L323.9,803.5L324.1,806.4ZM324.6,806.4L324.9,805.9L325.4,806.2L325.9,805.7L326.4,804.5L326.9,802.6L327.4,801.4L327.9,801.7L328.4,803.5L328.9,805.2L329.4,804.8L329.9,801.5L330.4,799.2L330.9,800.7L331.4,803.8L331.9,803.7L332.4,798.5L332.9,798.8L333.4,802.7L333.9,805.9L334.4,803.7L334.9,802.0L335.4,802.6L335.9,805.2L336.1,806.4ZM336.6,806.4L336.9,805.6L337.1,806.4ZM337.6,806.4L337.9,805.5L338.4,803.4L338.9,803.5L339.4,805.8L339.6,806.4ZM340.1,806.4L340.4,805.7L340.9,805.9L341.4,805.0L341.9,805.5L342.4,805.8L342.6,806.4ZM345.6,806.4L345.9,806.2L346.4,805.5L346.9,804.7L347.4,805.0L347.9,806.0L348.1,806.4ZM351.6,806.4L351.9,805.9L352.1,806.4ZM353.1,806.4L353.4,805.8L353.6,806.4ZM356.1,806.4L356.4,805.5L356.6,806.4ZM357.6,806.4L357.9,806.0L358.1,806.4Z" fill="#e5193a"/><text x="57.4" y="795.8" font-size="2.6" fill="#888">[0 - 2.00]</text><line x1="57.40" y1="813.20" x2="358.70" y2="813.20" stroke="#5a6fbf" stroke-width="0.5" stroke-dasharray="1.5,2.5"/><rect x="82.40" y="812.40" width="10.80" height="1.60" fill="#3b52a8" stroke="none" stroke-width="1"/><rect x="93.20" y="811.90" width="12.20" height="2.60" fill="#3b52a8" stroke="none" stroke-width="1"/><rect x="127.00" y="812.20" width="1.50" height="2.00" fill="#3b52a8" stroke="none" stroke-width="1"/><rect x="183.00" y="812.20" width="1.50" height="2.00" fill="#3b52a8" stroke="none" stroke-width="1"/><rect x="341.00" y="812.20" width="9.60" height="2.00" fill="#3b52a8" stroke="none" stroke-width="1"/><text x="71.39" y="822.60" font-size="6.6" fill="#333333" textLength="42.89" lengthAdjust="spacingAndGlyphs">XR_242006.3</text><text x="207.18" y="824.50" font-size="10.4" fill="#333333" textLength="33.88" lengthAdjust="spacingAndGlyphs">FKBP5</text><text x="295.48" y="822.60" font-size="6.6" fill="#333333" textLength="66.87" lengthAdjust="spacingAndGlyphs">LOC285847 ARMC12</text><rect x="318.60" y="739.10" width="18.00" height="68.90" fill="none" stroke="#ef5560" stroke-width="1.1"/><text x="7.36" y="744.80" font-size="9.2" fill="#333333" textLength="44.73" lengthAdjust="spacingAndGlyphs">R1881 nM</text><text x="45.70" y="757.80" font-size="10.2" fill="#333333">0</text><text x="37.30" y="770.80" font-size="10.2" fill="#333333">.01</text><text x="37.30" y="783.80" font-size="10.2" fill="#333333">.03</text><text x="37.30" y="796.80" font-size="10.2" fill="#333333">.06</text><text x="40.00" y="809.90" font-size="10.2" fill="#333333">10</text><line x1="55.40" y1="836.50" x2="190.50" y2="836.50" stroke="#3a3a3a" stroke-width="1.1"/><line x1="228.00" y1="836.50" x2="360.70" y2="836.50" stroke="#3a3a3a" stroke-width="1.1"/><text x="196.89" y="839.00" font-size="10.5" fill="#333333" textLength="23.90" lengthAdjust="spacingAndGlyphs">40kb</text><rect x="55.40" y="840.40" width="305.30" height="74.60" fill="#f6f7f8" stroke="none" stroke-width="1"/><line x1="55.70" y1="840.40" x2="55.70" y2="915.00" stroke="#d8d8d8" stroke-width="0.6"/><line x1="360.40" y1="840.40" x2="360.40" y2="915.00" stroke="#d8d8d8" stroke-width="0.6"/><line x1="55.40" y1="908.20" x2="360.70" y2="908.20" stroke="#e4e4e4" stroke-width="0.6"/><line x1="56.40" y1="851.10" x2="359.70" y2="851.10" stroke="#6a6a6a" stroke-width="0.9"/><path d="M61.6,851.2L61.9,851.0L62.1,851.2ZM77.2,851.2L77.4,851.0L77.7,851.2ZM96.7,851.2L96.9,851.0L97.2,851.2ZM99.2,851.2L99.4,851.0L99.7,851.2ZM100.2,851.2L100.4,851.0L100.7,851.2ZM125.2,851.2L125.4,851.0L125.7,851.2ZM129.2,851.2L129.4,851.0L129.7,851.2ZM137.7,851.2L137.9,851.0L138.2,851.2ZM152.7,851.2L152.9,850.6L153.4,849.8L153.9,849.3L154.4,849.6L154.9,850.6L155.2,851.2ZM160.2,851.2L160.4,851.0L160.7,851.2ZM162.2,851.2L162.4,851.0L162.7,851.2ZM184.2,851.2L184.4,851.0L184.7,851.2ZM185.2,851.2L185.4,851.0L185.7,851.2ZM194.7,851.2L194.9,851.0L195.2,851.2ZM197.7,851.2L197.9,851.0L198.2,851.2ZM199.2,851.2L199.4,851.0L199.7,851.2ZM214.7,851.2L214.9,851.0L215.2,851.2ZM217.7,851.2L217.9,851.0L218.2,851.2ZM219.7,851.2L219.9,851.0L220.2,851.2ZM224.2,851.2L224.4,851.0L224.9,851.0L225.2,851.2ZM232.7,851.2L232.9,851.0L233.2,851.2ZM253.7,851.2L253.9,851.0L254.4,851.0L254.7,851.2ZM263.1,851.2L263.4,851.0L263.6,851.2ZM268.6,851.2L268.9,851.0L269.1,851.2ZM269.6,851.2L269.9,851.0L270.1,851.2ZM278.6,851.2L278.9,851.0L279.1,851.2ZM280.1,851.2L280.4,851.0L280.6,851.2ZM287.6,851.2L287.9,851.0L288.1,851.2ZM291.1,851.2L291.4,851.0L291.6,851.2ZM295.6,851.2L295.9,851.0L296.1,851.2ZM297.6,851.2L297.9,851.0L298.1,851.2ZM319.6,851.2L319.9,850.9L320.4,850.4L320.9,850.4L321.4,850.9L321.9,850.9L322.4,850.8L322.9,850.8L323.4,851.0L323.6,851.2ZM331.1,851.2L331.4,851.0L331.9,850.7L332.4,850.9L332.6,851.2ZM333.1,851.2L333.4,851.0L333.6,851.2ZM335.1,851.2L335.4,851.0L335.6,851.2ZM342.6,851.2L342.9,851.0L343.4,849.9L343.9,849.0L344.4,849.3L344.9,850.7L345.1,851.2Z" fill="#4d4d4d"/><text x="57.4" y="840.6" font-size="2.6" fill="#888">[0 - 2.00]</text><line x1="56.40" y1="864.10" x2="359.70" y2="864.10" stroke="#6b7cc2" stroke-width="0.9"/><path d="M58.1,864.2L58.4,863.9L58.9,863.9L59.1,864.2ZM59.6,864.2L59.9,864.0L60.1,864.2ZM67.7,864.2L67.9,863.9L68.2,864.2ZM68.7,864.2L68.9,863.9L69.2,864.2ZM70.2,864.2L70.4,863.9L70.7,864.2ZM71.2,864.2L71.4,863.9L71.7,864.2ZM77.2,864.2L77.4,864.0L77.7,864.2ZM80.7,864.2L80.9,864.0L81.2,864.2ZM82.7,864.2L82.9,864.0L83.2,864.2ZM92.2,864.2L92.4,863.9L92.7,864.2ZM96.2,864.2L96.4,864.0L96.7,864.2ZM97.7,864.2L97.9,863.9L98.4,864.0L98.7,864.2ZM100.2,864.2L100.4,864.0L100.9,863.9L101.4,864.0L101.7,864.2ZM107.7,864.2L107.9,863.9L108.4,864.0L108.9,864.0L109.2,864.2ZM111.2,864.2L111.4,863.9L111.7,864.2ZM112.7,864.2L112.9,864.0L113.2,864.2ZM114.2,864.2L114.4,863.9L114.7,864.2ZM128.2,864.2L128.4,864.0L128.7,864.2ZM130.2,864.2L130.4,864.0L130.7,864.2ZM135.7,864.2L135.9,864.0L136.2,864.2ZM136.7,864.2L136.9,863.9L137.4,863.8L137.7,864.2ZM142.2,864.2L142.4,864.0L142.7,864.2ZM149.7,864.2L149.9,864.0L150.2,864.2ZM152.2,864.2L152.4,864.0L152.9,863.3L153.4,862.4L153.9,861.4L154.4,861.9L154.9,863.3L155.4,864.0L155.7,864.2ZM157.7,864.2L157.9,864.0L158.2,864.2ZM159.2,864.2L159.4,864.0L159.7,864.2ZM165.2,864.2L165.4,863.9L165.9,863.9L166.2,864.2ZM171.2,864.2L171.4,864.0L171.7,864.2ZM173.7,864.2L173.9,863.9L174.2,864.2ZM181.2,864.2L181.4,864.0L181.9,863.8L182.2,864.2ZM184.2,864.2L184.4,864.0L184.9,864.0L185.4,863.8L185.7,864.2ZM190.2,864.2L190.4,863.9L190.7,864.2ZM193.2,864.2L193.4,863.8L193.7,864.2ZM199.2,864.2L199.4,864.0L199.7,864.2ZM203.7,864.2L203.9,863.9L204.2,864.2ZM207.7,864.2L207.9,864.0L208.2,864.2ZM209.2,864.2L209.4,863.9L209.7,864.2ZM210.2,864.2L210.4,863.8L210.7,864.2ZM212.2,864.2L212.4,864.0L212.9,864.0L213.4,863.9L213.9,863.9L214.4,863.9L214.9,864.0L215.2,864.2ZM217.2,864.2L217.4,864.0L217.7,864.2ZM219.7,864.2L219.9,864.0L220.2,864.2ZM227.2,864.2L227.4,864.0L227.7,864.2ZM229.2,864.2L229.4,863.9L229.7,864.2ZM230.7,864.2L230.9,863.8L231.2,864.2ZM232.2,864.2L232.4,863.8L232.7,864.2ZM240.2,864.2L240.4,863.9L240.7,864.2ZM244.7,864.2L244.9,864.0L245.2,864.2ZM246.7,864.2L246.9,864.0L247.2,864.2ZM248.2,864.2L248.4,863.9L248.7,864.2ZM252.2,864.2L252.4,864.0L252.7,864.2ZM253.2,864.2L253.4,864.0L253.7,864.2ZM257.1,864.2L257.4,863.8L257.6,864.2ZM266.1,864.2L266.4,864.0L266.6,864.2ZM268.1,864.2L268.4,863.8L268.9,863.8L269.1,864.2ZM272.1,864.2L272.4,863.9L272.6,864.2ZM274.6,864.2L274.9,863.9L275.1,864.2ZM283.6,864.2L283.9,864.0L284.1,864.2ZM284.6,864.2L284.9,863.9L285.1,864.2ZM293.1,864.2L293.4,863.9L293.6,864.2ZM297.1,864.2L297.4,863.8L297.6,864.2ZM298.1,864.2L298.4,863.8L298.6,864.2ZM306.1,864.2L306.4,863.9L306.6,864.2ZM313.6,864.2L313.9,863.9L314.1,864.2ZM316.6,864.2L316.9,864.0L317.1,864.2ZM319.6,864.2L319.9,863.7L320.4,862.8L320.9,862.2L321.4,863.4L321.9,863.5L322.4,863.2L322.9,863.4L323.4,863.8L323.9,863.9L324.1,864.2ZM330.6,864.2L330.9,863.9L331.4,863.9L331.9,863.4L332.4,863.6L332.9,864.0L333.1,864.2ZM333.6,864.2L333.9,864.0L334.1,864.2ZM339.1,864.2L339.4,863.8L339.6,864.2ZM342.6,864.2L342.9,863.9L343.4,862.3L343.9,861.1L344.4,861.4L344.9,863.4L345.1,864.2ZM348.6,864.2L348.9,863.9L349.1,864.2ZM355.6,864.2L355.9,864.0L356.1,864.2ZM356.6,864.2L356.9,863.9L357.1,864.2Z" fill="#3b52a8"/><text x="57.4" y="853.6" font-size="2.6" fill="#888">[0 - 2.00]</text><line x1="56.40" y1="877.10" x2="359.70" y2="877.10" stroke="#6b7cc2" stroke-width="0.9"/><path d="M58.6,877.2L58.9,877.0L59.1,877.2ZM61.6,877.2L61.9,876.9L62.1,877.2ZM65.2,877.2L65.4,876.8L65.7,877.2ZM68.2,877.2L68.4,876.9L68.7,877.2ZM71.7,877.2L71.9,877.0L72.2,877.2ZM73.2,877.2L73.4,877.0L73.7,877.2ZM77.7,877.2L77.9,876.8L78.2,877.2ZM82.2,877.2L82.4,877.0L82.7,877.2ZM83.2,877.2L83.4,876.9L83.7,877.2ZM91.7,877.2L91.9,876.9L92.2,877.2ZM92.7,877.2L92.9,876.9L93.2,877.2ZM95.7,877.2L95.9,876.8L96.2,877.2ZM100.2,877.2L100.4,877.0L100.9,876.9L101.4,877.0L101.7,877.2ZM102.2,877.2L102.4,876.9L102.7,877.2ZM106.7,877.2L106.9,877.0L107.2,877.2ZM111.2,877.2L111.4,876.8L111.7,877.2ZM112.7,877.2L112.9,877.0L113.2,877.2ZM118.2,877.2L118.4,877.0L118.9,876.9L119.2,877.2ZM121.2,877.2L121.4,877.0L121.7,877.2ZM122.7,877.2L122.9,877.0L123.2,877.2ZM126.7,877.2L126.9,877.0L127.4,876.9L127.7,877.2ZM128.2,877.2L128.4,876.8L128.7,877.2ZM130.2,877.2L130.4,876.8L130.7,877.2ZM132.7,877.2L132.9,876.8L133.2,877.2ZM140.7,877.2L140.9,877.0L141.2,877.2ZM141.7,877.2L141.9,877.0L142.2,877.2ZM145.7,877.2L145.9,877.0L146.2,877.2ZM147.7,877.2L147.9,876.9L148.2,877.2ZM148.7,877.2L148.9,876.9L149.2,877.2ZM152.7,877.2L152.9,876.6L153.4,875.6L153.9,875.3L154.4,875.6L154.9,876.6L155.4,876.9L155.7,877.2ZM156.7,877.2L156.9,877.0L157.2,877.2ZM159.2,877.2L159.4,876.9L159.7,877.2ZM161.7,877.2L161.9,877.0L162.4,877.0L162.7,877.2ZM165.2,877.2L165.4,877.0L165.7,877.2ZM166.2,877.2L166.4,876.9L166.7,877.2ZM172.2,877.2L172.4,877.0L172.7,877.2ZM178.2,877.2L178.4,876.9L178.7,877.2ZM185.2,877.2L185.4,877.0L185.7,877.2ZM186.7,877.2L186.9,876.9L187.2,877.2ZM192.2,877.2L192.4,876.8L192.9,877.0L193.2,877.2ZM195.2,877.2L195.4,877.0L195.7,877.2ZM197.2,877.2L197.4,877.0L197.7,877.2ZM202.2,877.2L202.4,876.9L202.9,877.0L203.2,877.2ZM206.7,877.2L206.9,877.0L207.2,877.2ZM209.7,877.2L209.9,877.0L210.2,877.2ZM212.7,877.2L212.9,877.0L213.4,877.0L213.9,876.9L214.4,876.9L214.9,877.0L215.2,877.2ZM216.2,877.2L216.4,876.9L216.7,877.2ZM217.7,877.2L217.9,877.0L218.2,877.2ZM218.7,877.2L218.9,876.8L219.2,877.2ZM225.2,877.2L225.4,876.8L225.7,877.2ZM232.2,877.2L232.4,876.8L232.7,877.2ZM234.7,877.2L234.9,876.9L235.2,877.2ZM238.7,877.2L238.9,877.0L239.2,877.2ZM239.7,877.2L239.9,876.9L240.2,877.2ZM258.1,877.2L258.4,876.9L258.6,877.2ZM262.1,877.2L262.4,877.0L262.9,877.0L263.1,877.2ZM266.1,877.2L266.4,877.0L266.6,877.2ZM270.1,877.2L270.4,877.0L270.6,877.2ZM279.6,877.2L279.9,876.9L280.1,877.2ZM282.1,877.2L282.4,876.9L282.6,877.2ZM289.1,877.2L289.4,876.9L289.6,877.2ZM298.1,877.2L298.4,876.8L298.9,877.0L299.1,877.2ZM307.6,877.2L307.9,876.9L308.1,877.2ZM311.1,877.2L311.4,876.9L311.9,877.0L312.1,877.2ZM315.6,877.2L315.9,877.0L316.1,877.2ZM317.1,877.2L317.4,876.9L317.6,877.2ZM319.6,877.2L319.9,876.6L320.4,875.4L320.9,875.6L321.4,876.4L321.9,876.5L322.4,876.2L322.9,876.4L323.4,876.8L323.6,877.2ZM326.6,877.2L326.9,877.0L327.1,877.2ZM328.1,877.2L328.4,876.9L328.6,877.2ZM331.1,877.2L331.4,876.9L331.9,876.3L332.4,876.7L332.6,877.2ZM336.6,877.2L336.9,876.9L337.1,877.2ZM339.1,877.2L339.4,876.8L339.6,877.2ZM340.1,877.2L340.4,876.9L340.6,877.2ZM342.6,877.2L342.9,876.9L343.4,875.6L343.9,874.6L344.4,875.2L344.9,876.6L345.1,877.2ZM349.1,877.2L349.4,877.0L349.9,877.0L350.1,877.2ZM351.6,877.2L351.9,876.8L352.1,877.2ZM357.1,877.2L357.4,877.0L357.6,877.2Z" fill="#3b52a8"/><text x="57.4" y="866.6" font-size="2.6" fill="#888">[0 - 2.00]</text><line x1="56.40" y1="890.20" x2="359.70" y2="890.20" stroke="#6b7cc2" stroke-width="0.9"/><path d="M59.6,890.3L59.9,890.0L60.1,890.3ZM65.2,890.3L65.4,890.1L65.7,890.3ZM70.2,890.3L70.4,889.9L70.7,890.3ZM72.2,890.3L72.4,890.1L72.7,890.3ZM74.2,890.3L74.4,890.0L74.7,890.3ZM81.2,890.3L81.4,890.1L81.7,890.3ZM82.7,890.3L82.9,890.0L83.4,890.1L83.7,890.3ZM85.7,890.3L85.9,890.1L86.2,890.3ZM91.7,890.3L91.9,890.1L92.2,890.3ZM99.7,890.3L99.9,890.0L100.4,889.3L100.9,888.8L101.4,889.2L101.9,889.8L102.2,890.3ZM102.7,890.3L102.9,889.9L103.2,890.3ZM105.2,890.3L105.4,889.9L105.7,890.3ZM107.7,890.3L107.9,890.0L108.2,890.3ZM117.7,890.3L117.9,890.1L118.4,890.0L118.7,890.3ZM123.2,890.3L123.4,890.1L123.7,890.3ZM125.7,890.3L125.9,889.9L126.2,890.3ZM126.7,890.3L126.9,889.9L127.2,890.3ZM132.2,890.3L132.4,890.1L132.7,890.3ZM136.7,890.3L136.9,890.0L137.2,890.3ZM139.2,890.3L139.4,890.0L139.7,890.3ZM141.7,890.3L141.9,890.1L142.2,890.3ZM145.2,890.3L145.4,890.0L145.7,890.3ZM152.2,890.3L152.4,890.1L152.9,889.4L153.4,888.3L153.9,887.6L154.4,888.0L154.9,889.4L155.4,890.1L155.9,890.1L156.2,890.3ZM163.7,890.3L163.9,890.0L164.2,890.3ZM164.7,890.3L164.9,890.0L165.4,890.1L165.7,890.3ZM169.2,890.3L169.4,890.1L169.7,890.3ZM171.7,890.3L171.9,890.1L172.2,890.3ZM172.7,890.3L172.9,889.9L173.2,890.3ZM178.2,890.3L178.4,890.1L178.7,890.3ZM181.7,890.3L181.9,890.0L182.2,890.3ZM182.7,890.3L182.9,890.1L183.4,890.0L183.7,890.3ZM184.2,890.3L184.4,890.0L184.7,890.3ZM188.2,890.3L188.4,890.0L188.9,890.1L189.2,890.3ZM202.7,890.3L202.9,890.0L203.2,890.3ZM204.2,890.3L204.4,890.1L204.7,890.3ZM205.2,890.3L205.4,890.0L205.7,890.3ZM212.2,890.3L212.4,889.9L212.9,889.5L213.4,889.0L213.9,888.8L214.4,889.0L214.9,889.4L215.4,889.8L215.9,890.1L216.2,890.3ZM217.2,890.3L217.4,890.1L217.9,890.1L218.2,890.3ZM220.7,890.3L220.9,890.1L221.2,890.3ZM230.2,890.3L230.4,890.0L230.9,890.0L231.4,890.0L231.9,889.8L232.4,889.8L232.9,890.0L233.4,890.1L233.7,890.3ZM237.2,890.3L237.4,890.1L237.7,890.3ZM243.7,890.3L243.9,890.1L244.2,890.3ZM247.2,890.3L247.4,890.1L247.7,890.3ZM248.2,890.3L248.4,890.0L248.7,890.3ZM250.7,890.3L250.9,889.9L251.2,890.3ZM252.2,890.3L252.4,890.0L252.7,890.3ZM253.7,890.3L253.9,890.1L254.2,890.3ZM257.6,890.3L257.9,890.1L258.4,890.0L258.6,890.3ZM266.1,890.3L266.4,890.1L266.6,890.3ZM271.6,890.3L271.9,889.9L272.1,890.3ZM282.1,890.3L282.4,890.0L282.6,890.3ZM284.6,890.3L284.9,890.0L285.1,890.3ZM286.1,890.3L286.4,890.0L286.6,890.3ZM288.6,890.3L288.9,889.9L289.1,890.3ZM295.6,890.3L295.9,890.1L296.1,890.3ZM299.6,890.3L299.9,890.1L300.1,890.3ZM302.1,890.3L302.4,890.0L302.6,890.3ZM303.1,890.3L303.4,889.9L303.9,890.0L304.4,890.0L304.6,890.3ZM309.6,890.3L309.9,890.0L310.4,890.0L310.6,890.3ZM312.6,890.3L312.9,889.9L313.1,890.3ZM313.6,890.3L313.9,890.0L314.4,890.0L314.9,890.1L315.1,890.3ZM317.6,890.3L317.9,889.9L318.1,890.3ZM319.1,890.3L319.4,890.0L319.9,888.1L320.4,885.4L320.9,883.6L321.4,887.5L321.9,888.2L322.4,887.3L322.9,888.0L323.4,889.1L323.9,890.1L324.1,890.3ZM331.1,890.3L331.4,889.5L331.9,887.3L332.4,888.5L332.9,890.1L333.1,890.3ZM333.6,890.3L333.9,889.9L334.1,890.3ZM336.1,890.3L336.4,889.9L336.6,890.3ZM338.6,890.3L338.9,890.0L339.1,890.3ZM342.6,890.3L342.9,889.9L343.4,888.5L343.9,887.0L344.4,887.6L344.9,889.7L345.1,890.3ZM345.6,890.3L345.9,890.1L346.1,890.3ZM347.1,890.3L347.4,890.1L347.6,890.3ZM352.1,890.3L352.4,890.0L352.9,890.1L353.1,890.3ZM357.1,890.3L357.4,890.1L357.6,890.3Z" fill="#3b52a8"/><text x="57.4" y="879.7" font-size="2.6" fill="#888">[0 - 2.00]</text><line x1="56.40" y1="903.30" x2="359.70" y2="903.30" stroke="#ec5a6e" stroke-width="0.9"/><path d="M60.6,903.4L60.9,903.1L61.4,903.2L61.6,903.4ZM68.2,903.4L68.4,903.1L68.7,903.4ZM70.7,903.4L70.9,902.9L71.2,903.4ZM73.2,903.4L73.4,903.2L73.7,903.4ZM76.7,903.4L76.9,903.0L77.2,903.4ZM78.7,903.4L78.9,903.2L79.4,903.2L79.9,903.2L80.4,903.1L80.7,903.4ZM81.2,903.4L81.4,902.8L81.7,903.4ZM85.2,903.4L85.4,903.0L85.7,903.4ZM91.2,903.4L91.4,903.2L91.7,903.4ZM95.7,903.4L95.9,902.8L96.2,903.4ZM98.2,903.4L98.4,903.1L98.7,903.4ZM99.7,903.4L99.9,902.9L100.4,901.8L100.9,900.9L101.4,901.4L101.9,902.5L102.4,903.2L102.7,903.4ZM103.7,903.4L103.9,903.2L104.2,903.4ZM106.7,903.4L106.9,902.9L107.2,903.4ZM119.7,903.4L119.9,903.2L120.4,903.1L120.7,903.4ZM121.2,903.4L121.4,902.9L121.7,903.4ZM125.2,903.4L125.4,903.1L125.9,903.1L126.2,903.4ZM127.7,903.4L127.9,902.8L128.2,903.4ZM130.7,903.4L130.9,903.1L131.2,903.4ZM131.7,903.4L131.9,903.0L132.2,903.4ZM132.7,903.4L132.9,903.0L133.4,902.8L133.9,903.1L134.2,903.4ZM135.7,903.4L135.9,902.9L136.2,903.4ZM140.7,903.4L140.9,903.2L141.2,903.4ZM141.7,903.4L141.9,902.8L142.2,903.4ZM142.7,903.4L142.9,902.9L143.2,903.4ZM143.7,903.4L143.9,903.1L144.2,903.4ZM146.2,903.4L146.4,903.2L146.9,903.1L147.2,903.4ZM150.2,903.4L150.4,902.8L150.7,903.4ZM152.2,903.4L152.4,903.0L152.9,902.6L153.4,901.6L153.9,900.7L154.4,901.5L154.9,902.4L155.4,903.2L155.7,903.4ZM164.7,903.4L164.9,903.0L165.2,903.4ZM166.2,903.4L166.4,902.9L166.7,903.4ZM175.7,903.4L175.9,903.1L176.4,903.1L176.7,903.4ZM181.7,903.4L181.9,902.8L182.2,903.4ZM187.7,903.4L187.9,902.9L188.2,903.4ZM195.2,903.4L195.4,902.9L195.7,903.4ZM200.2,903.4L200.4,903.1L200.7,903.4ZM201.7,903.4L201.9,903.1L202.2,903.4ZM207.2,903.4L207.4,902.9L207.7,903.4ZM211.7,903.4L211.9,903.2L212.4,902.9L212.9,902.3L213.4,902.0L213.9,901.5L214.4,901.5L214.9,902.3L215.4,902.8L215.9,903.1L216.2,903.4ZM222.7,903.4L222.9,903.0L223.2,903.4ZM223.7,903.4L223.9,903.2L224.2,903.4ZM229.7,903.4L229.9,903.2L230.4,902.9L230.9,902.5L231.4,901.9L231.9,901.8L232.4,901.7L232.9,902.2L233.4,902.7L233.9,903.1L234.2,903.4ZM235.7,903.4L235.9,903.0L236.2,903.4ZM241.7,903.4L241.9,902.9L242.2,903.4ZM245.7,903.4L245.9,903.0L246.2,903.4ZM251.2,903.4L251.4,902.9L251.7,903.4ZM255.2,903.4L255.4,903.1L255.9,903.2L256.1,903.4ZM257.1,903.4L257.4,903.1L257.6,903.4ZM260.6,903.4L260.9,903.0L261.1,903.4ZM265.1,903.4L265.4,903.1L265.6,903.4ZM269.6,903.4L269.9,902.8L270.1,903.4ZM271.1,903.4L271.4,902.9L271.9,903.0L272.4,902.9L272.6,903.4ZM273.6,903.4L273.9,903.2L274.1,903.4ZM281.1,903.4L281.4,903.0L281.6,903.4ZM293.1,903.4L293.4,903.2L293.6,903.4ZM297.1,903.4L297.4,902.9L297.6,903.4ZM298.6,903.4L298.9,903.0L299.1,903.4ZM302.1,903.4L302.4,903.0L302.6,903.4ZM303.6,903.4L303.9,902.8L304.1,903.4ZM307.1,903.4L307.4,903.1L307.6,903.4ZM308.1,903.4L308.4,903.2L308.9,903.1L309.1,903.4ZM310.6,903.4L310.9,902.9L311.1,903.4ZM311.6,903.4L311.9,903.0L312.1,903.4ZM313.1,903.4L313.4,903.2L313.6,903.4ZM314.6,903.4L314.9,902.9L315.1,903.4ZM315.6,903.4L315.9,902.9L316.1,903.4ZM317.6,903.4L317.9,903.1L318.4,903.0L318.6,903.4ZM319.1,903.4L319.4,903.1L319.9,901.0L320.4,896.8L320.9,897.2L321.4,900.5L321.9,901.6L322.4,900.8L322.9,901.2L323.4,902.5L323.9,903.1L324.1,903.4ZM325.1,903.4L325.4,903.2L325.6,903.4ZM328.1,903.4L328.4,902.9L328.6,903.4ZM331.1,903.4L331.4,902.1L331.9,898.8L332.4,900.9L332.9,903.1L333.4,902.9L333.9,903.1L334.1,903.4ZM342.1,903.4L342.4,902.9L342.9,903.0L343.4,901.4L343.9,899.5L344.4,900.9L344.9,902.5L345.4,903.1L345.6,903.4ZM347.1,903.4L347.4,903.1L347.9,903.1L348.4,903.1L348.6,903.4ZM351.1,903.4L351.4,903.0L351.6,903.4ZM353.6,903.4L353.9,903.2L354.1,903.4ZM357.6,903.4L357.9,902.9L358.4,902.8L358.9,903.2L359.1,903.4Z" fill="#e5193a"/><text x="57.4" y="892.8" font-size="2.6" fill="#888">[0 - 2.00]</text><line x1="57.40" y1="911.00" x2="358.70" y2="911.00" stroke="#5a6fbf" stroke-width="0.5" stroke-dasharray="1.5,2.5"/><rect x="70.70" y="909.70" width="65.40" height="2.60" fill="#3b52a8" stroke="none" stroke-width="1"/><rect x="146.50" y="910.00" width="1.30" height="2.00" fill="#3b52a8" stroke="none" stroke-width="1"/><rect x="159.50" y="909.80" width="6.10" height="2.40" fill="#3b52a8" stroke="none" stroke-width="1"/><rect x="168.20" y="910.00" width="1.60" height="2.00" fill="#3b52a8" stroke="none" stroke-width="1"/><text x="188.30" y="923.80" font-size="10.6" fill="#333333" textLength="40.55" lengthAdjust="spacingAndGlyphs">STEAP4</text><rect x="315.10" y="840.30" width="22.90" height="67.70" fill="none" stroke="#ef5560" stroke-width="1.1"/><text x="7.36" y="845.20" font-size="9.2" fill="#333333" textLength="44.73" lengthAdjust="spacingAndGlyphs">R1881 nM</text><text x="45.70" y="854.70" font-size="10.2" fill="#333333">0</text><text x="37.30" y="867.70" font-size="10.2" fill="#333333">.01</text><text x="37.30" y="880.70" font-size="10.2" fill="#333333">.03</text><text x="37.30" y="893.80" font-size="10.2" fill="#333333">.06</text><text x="40.00" y="906.90" font-size="10.2" fill="#333333">10</text><line x1="372.00" y1="635.50" x2="507.70" y2="635.50" stroke="#3a3a3a" stroke-width="1.1"/><line x1="540.50" y1="635.50" x2="678.80" y2="635.50" stroke="#3a3a3a" stroke-width="1.1"/><text x="510.00" y="639.30" font-size="10.5" fill="#333333" textLength="28.71" lengthAdjust="spacingAndGlyphs">100kb</text><rect x="373.30" y="641.50" width="305.50" height="75.90" fill="#f6f7f8" stroke="none" stroke-width="1"/><line x1="373.60" y1="641.50" x2="373.60" y2="717.40" stroke="#d8d8d8" stroke-width="0.6"/><line x1="678.50" y1="641.50" x2="678.50" y2="717.40" stroke="#d8d8d8" stroke-width="0.6"/><line x1="373.30" y1="711.30" x2="678.80" y2="711.30" stroke="#e4e4e4" stroke-width="0.6"/><line x1="374.30" y1="654.30" x2="677.80" y2="654.30" stroke="#6a6a6a" stroke-width="0.9"/><path d="M378.1,654.4L378.3,654.1L378.8,654.2L379.1,654.4ZM380.6,654.4L380.8,654.2L381.3,654.1L381.8,654.2L382.1,654.4ZM383.1,654.4L383.3,654.1L383.6,654.4ZM388.6,654.4L388.8,654.2L389.1,654.4ZM390.1,654.4L390.3,654.2L390.8,654.1L391.1,654.4ZM391.6,654.4L391.8,654.1L392.1,654.4ZM397.6,654.4L397.8,654.2L398.1,654.4ZM406.6,654.4L406.8,654.2L407.1,654.4ZM412.6,654.4L412.8,654.1L413.1,654.4ZM415.6,654.4L415.8,654.1L416.1,654.4ZM417.1,654.4L417.3,654.2L417.8,653.4L418.3,652.2L418.8,653.0L419.3,654.0L419.8,654.2L420.1,654.4ZM423.1,654.4L423.3,654.1L423.6,654.4ZM424.1,654.4L424.3,654.1L424.8,653.2L425.3,651.3L425.8,648.8L426.3,648.5L426.8,650.8L427.3,652.7L427.8,654.0L428.1,654.4ZM428.6,654.4L428.8,654.2L429.1,654.4ZM430.6,654.4L430.8,654.2L431.1,654.4ZM432.6,654.4L432.8,654.2L433.1,654.4ZM435.1,654.4L435.3,653.7L435.8,652.5L436.3,652.2L436.8,653.4L437.3,654.2L437.6,654.4ZM438.1,654.4L438.3,654.2L438.6,654.4ZM442.6,654.4L442.8,653.5L443.3,652.2L443.8,652.1L444.3,653.2L444.8,654.2L445.3,653.9L445.8,652.5L446.3,653.3L446.6,654.4ZM451.6,654.4L451.8,654.2L452.1,654.4ZM452.6,654.4L452.8,654.2L453.1,654.4ZM453.6,654.4L453.8,654.2L454.1,654.4ZM459.1,654.4L459.3,654.2L459.6,654.4ZM460.1,654.4L460.3,654.2L460.6,654.4ZM461.1,654.4L461.3,654.2L461.8,654.2L462.1,654.4ZM464.1,654.4L464.3,654.2L464.6,654.4ZM465.1,654.4L465.3,654.1L465.6,654.4ZM466.1,654.4L466.3,654.2L466.6,654.4ZM469.6,654.4L469.8,654.1L470.1,654.4ZM470.6,654.4L470.8,654.1L471.1,654.4ZM472.1,654.4L472.3,654.0L472.8,653.3L473.3,651.9L473.8,649.8L474.3,650.3L474.8,650.4L475.3,652.4L475.8,653.6L476.3,654.2L476.6,654.4ZM480.6,654.4L480.8,654.2L481.3,654.1L481.6,654.4ZM482.6,654.4L482.8,652.7L483.3,646.0L483.8,649.6L484.3,652.5L484.8,651.3L485.3,650.2L485.8,650.3L486.3,651.5L486.8,652.5L487.3,649.7L487.8,651.0L488.3,654.1L488.6,654.4ZM489.6,654.4L489.8,654.1L490.1,654.4ZM495.6,654.4L495.8,653.3L496.3,652.6L496.8,653.8L497.1,654.4ZM504.1,654.4L504.3,654.2L504.8,653.6L505.3,652.4L505.8,650.0L506.3,649.4L506.8,649.5L507.3,651.7L507.8,653.2L508.3,654.0L508.6,654.4ZM510.6,654.4L510.8,654.2L511.1,654.4ZM511.6,654.4L511.8,654.2L512.0,654.4ZM518.0,654.4L518.3,654.2L518.5,654.4ZM522.5,654.4L522.8,654.1L523.3,654.2L523.8,654.1L524.3,654.2L524.8,654.2L525.3,654.1L525.5,654.4ZM528.0,654.4L528.3,654.2L528.5,654.4ZM535.5,654.4L535.8,654.2L536.0,654.4ZM537.5,654.4L537.8,654.2L538.3,654.2L538.8,654.1L539.3,653.8L539.8,653.6L540.3,653.2L540.8,653.0L541.3,653.1L541.8,653.2L542.3,649.3L542.8,646.3L543.3,653.7L543.5,654.4ZM544.0,654.4L544.3,654.2L544.8,654.2L545.0,654.4ZM547.0,654.4L547.3,654.1L547.5,654.4ZM549.0,654.4L549.3,654.2L549.8,653.3L550.3,652.6L550.8,653.9L551.0,654.4ZM552.0,654.4L552.3,654.2L552.5,654.4ZM553.5,654.4L553.8,654.2L554.0,654.4ZM563.0,654.4L563.3,654.2L563.5,654.4ZM567.0,654.4L567.3,654.1L567.5,654.4ZM576.5,654.4L576.8,654.1L577.0,654.4ZM580.5,654.4L580.8,654.2L581.0,654.4ZM591.0,654.4L591.3,654.2L591.5,654.4ZM595.0,654.4L595.3,654.2L595.5,654.4ZM612.5,654.4L612.8,654.2L613.0,654.4ZM619.5,654.4L619.8,654.2L620.0,654.4ZM620.5,654.4L620.8,654.2L621.0,654.4ZM622.0,654.4L622.3,654.2L622.5,654.4ZM626.5,654.4L626.8,654.1L627.0,654.4ZM629.0,654.4L629.3,654.2L629.5,654.4ZM633.5,654.4L633.8,654.2L634.0,654.4ZM634.5,654.4L634.8,654.2L635.0,654.4ZM637.5,654.4L637.8,654.2L638.0,654.4ZM642.5,654.4L642.8,654.2L643.3,652.9L643.8,648.8L644.3,647.6L644.8,650.3L645.3,653.6L645.5,654.4ZM650.0,654.4L650.3,654.2L650.5,654.4ZM652.5,654.4L652.8,654.2L653.3,654.1L653.5,654.4Z" fill="#4d4d4d"/><text x="375.3" y="643.8" font-size="2.6" fill="#888">[0 - 2.00]</text><line x1="374.30" y1="667.60" x2="677.80" y2="667.60" stroke="#6b7cc2" stroke-width="0.9"/><path d="M381.6,667.7L381.8,667.4L382.1,667.7ZM382.6,667.7L382.8,667.4L383.3,667.4L383.6,667.7ZM384.1,667.7L384.3,667.4L384.6,667.7ZM385.1,667.7L385.3,667.4L385.8,667.3L386.1,667.7ZM388.6,667.7L388.8,667.3L389.1,667.7ZM390.1,667.7L390.3,667.4L390.6,667.7ZM397.6,667.7L397.8,667.4L398.1,667.7ZM399.1,667.7L399.3,667.4L399.8,667.3L400.1,667.7ZM403.1,667.7L403.3,667.5L403.6,667.7ZM406.6,667.7L406.8,667.4L407.1,667.7ZM414.1,667.7L414.3,667.4L414.8,667.3L415.1,667.7ZM417.1,667.7L417.3,667.4L417.8,666.1L418.3,664.6L418.8,665.6L419.3,667.1L419.6,667.7ZM420.1,667.7L420.3,667.5L420.6,667.7ZM423.6,667.7L423.8,667.4L424.3,667.3L424.8,666.2L425.3,664.3L425.8,662.0L426.3,662.6L426.8,663.8L427.3,666.0L427.8,667.1L428.3,667.4L428.6,667.7ZM429.6,667.7L429.8,667.4L430.3,667.4L430.6,667.7ZM431.6,667.7L431.8,667.4L432.3,667.4L432.6,667.7ZM433.1,667.7L433.3,667.4L433.6,667.7ZM434.1,667.7L434.3,667.4L434.6,667.7ZM435.1,667.7L435.3,667.1L435.8,665.6L436.3,665.7L436.8,666.7L437.3,667.5L437.6,667.7ZM442.1,667.7L442.3,667.5L442.8,666.9L443.3,665.0L443.8,664.9L444.3,666.5L444.8,667.5L445.3,667.1L445.8,666.1L446.3,666.6L446.6,667.7ZM447.6,667.7L447.8,667.3L448.1,667.7ZM453.1,667.7L453.3,667.3L453.6,667.7ZM458.6,667.7L458.8,667.4L459.1,667.7ZM460.1,667.7L460.3,667.4L460.6,667.7ZM462.6,667.7L462.8,667.4L463.1,667.7ZM465.6,667.7L465.8,667.4L466.3,667.3L466.6,667.7ZM470.1,667.7L470.3,667.5L470.8,667.5L471.1,667.7ZM472.1,667.7L472.3,667.3L472.8,666.5L473.3,665.1L473.8,663.0L474.3,662.8L474.8,663.6L475.3,665.6L475.8,666.9L476.3,667.5L476.6,667.7ZM477.1,667.7L477.3,667.5L477.6,667.7ZM478.1,667.7L478.3,667.3L478.6,667.7ZM482.6,667.7L482.8,665.8L483.3,658.2L483.8,663.4L484.3,665.4L484.8,664.0L485.3,663.5L485.8,663.7L486.3,664.4L486.8,665.4L487.3,663.1L487.8,664.1L488.3,667.5L488.8,667.5L489.1,667.7ZM490.6,667.7L490.8,667.3L491.1,667.7ZM493.6,667.7L493.8,667.5L494.1,667.7ZM495.6,667.7L495.8,666.6L496.3,665.9L496.8,667.2L497.1,667.7ZM504.1,667.7L504.3,667.5L504.8,666.8L505.3,665.2L505.8,662.8L506.3,662.1L506.8,662.7L507.3,664.8L507.8,666.5L508.3,667.3L508.6,667.7ZM514.0,667.7L514.3,667.4L514.5,667.7ZM516.5,667.7L516.8,667.5L517.0,667.7ZM521.0,667.7L521.3,667.5L521.5,667.7ZM522.5,667.7L522.8,667.4L523.0,667.7ZM528.0,667.7L528.3,667.5L528.5,667.7ZM530.5,667.7L530.8,667.4L531.0,667.7ZM534.0,667.7L534.3,667.4L534.8,667.4L535.0,667.7ZM536.0,667.7L536.3,667.4L536.5,667.7ZM538.0,667.7L538.3,667.5L538.8,667.2L539.3,666.8L539.8,666.3L540.3,665.4L540.8,665.1L541.3,665.2L541.8,665.8L542.3,662.4L542.8,659.7L543.3,666.8L543.8,667.5L544.3,667.3L544.5,667.7ZM549.0,667.7L549.3,667.5L549.8,666.5L550.3,665.9L550.8,667.2L551.0,667.7ZM551.5,667.7L551.8,667.4L552.0,667.7ZM554.0,667.7L554.3,667.4L554.5,667.7ZM559.5,667.7L559.8,667.5L560.0,667.7ZM564.0,667.7L564.3,667.5L564.5,667.7ZM570.5,667.7L570.8,667.4L571.0,667.7ZM575.0,667.7L575.3,667.3L575.5,667.7ZM583.5,667.7L583.8,667.5L584.0,667.7ZM586.0,667.7L586.3,667.4L586.5,667.7ZM587.0,667.7L587.3,667.3L587.5,667.7ZM589.0,667.7L589.3,667.4L589.5,667.7ZM590.0,667.7L590.3,667.5L590.5,667.7ZM593.5,667.7L593.8,667.4L594.0,667.7ZM600.5,667.7L600.8,667.3L601.3,667.5L601.5,667.7ZM603.0,667.7L603.3,667.4L603.5,667.7ZM610.0,667.7L610.3,667.3L610.5,667.7ZM613.5,667.7L613.8,667.4L614.3,667.4L614.5,667.7ZM615.0,667.7L615.3,667.4L615.5,667.7ZM616.0,667.7L616.3,667.4L616.5,667.7ZM629.0,667.7L629.3,667.3L629.8,667.4L630.0,667.7ZM630.5,667.7L630.8,667.5L631.3,667.5L631.5,667.7ZM636.5,667.7L636.8,667.4L637.0,667.7ZM642.5,667.7L642.8,667.5L643.3,665.9L643.8,662.5L644.3,659.6L644.8,664.1L645.3,666.9L645.5,667.7ZM646.5,667.7L646.8,667.4L647.0,667.7ZM649.0,667.7L649.3,667.4L649.5,667.7ZM655.5,667.7L655.8,667.5L656.0,667.7ZM660.0,667.7L660.3,667.3L660.8,667.4L661.3,667.5L661.8,667.4L662.3,667.5L662.5,667.7ZM666.0,667.7L666.3,667.4L666.5,667.7ZM671.5,667.7L671.8,667.4L672.0,667.7ZM674.0,667.7L674.3,667.5L674.5,667.7ZM675.0,667.7L675.3,667.4L675.5,667.7ZM676.5,667.7L676.8,667.5L677.0,667.7Z" fill="#3b52a8"/><text x="375.3" y="657.1" font-size="2.6" fill="#888">[0 - 2.00]</text><line x1="374.30" y1="680.40" x2="677.80" y2="680.40" stroke="#6b7cc2" stroke-width="0.9"/><path d="M375.1,680.5L375.3,680.2L375.6,680.5ZM376.6,680.5L376.8,680.3L377.1,680.5ZM379.6,680.5L379.8,680.3L380.1,680.5ZM380.6,680.5L380.8,680.2L381.1,680.5ZM382.1,680.5L382.3,680.1L382.6,680.5ZM395.6,680.5L395.8,680.2L396.3,680.3L396.6,680.5ZM401.1,680.5L401.3,680.1L401.6,680.5ZM405.1,680.5L405.3,680.3L405.6,680.5ZM407.6,680.5L407.8,680.1L408.1,680.5ZM409.1,680.5L409.3,680.2L409.6,680.5ZM410.6,680.5L410.8,680.3L411.1,680.5ZM413.1,680.5L413.3,680.2L413.6,680.5ZM415.6,680.5L415.8,680.3L416.1,680.5ZM417.1,680.5L417.3,680.2L417.8,679.3L418.3,678.0L418.8,678.7L419.3,680.0L419.6,680.5ZM421.6,680.5L421.8,680.1L422.1,680.5ZM423.6,680.5L423.8,680.1L424.3,680.2L424.8,679.6L425.3,677.8L425.8,676.5L426.3,676.0L426.8,677.9L427.3,679.1L427.8,680.1L428.1,680.5ZM431.1,680.5L431.3,680.2L431.8,680.1L432.1,680.5ZM435.1,680.5L435.3,679.9L435.8,678.8L436.3,678.8L436.8,679.8L437.1,680.5ZM438.1,680.5L438.3,680.3L438.6,680.5ZM441.6,680.5L441.8,680.1L442.1,680.5ZM442.6,680.5L442.8,679.7L443.3,678.7L443.8,678.1L444.3,679.5L444.8,680.3L445.3,680.1L445.8,679.3L446.3,679.6L446.6,680.5ZM452.6,680.5L452.8,680.3L453.1,680.5ZM454.1,680.5L454.3,680.1L454.6,680.5ZM457.1,680.5L457.3,680.3L457.6,680.5ZM460.1,680.5L460.3,680.2L460.8,680.3L461.1,680.5ZM463.1,680.5L463.3,680.3L463.6,680.5ZM467.6,680.5L467.8,680.2L468.1,680.5ZM470.1,680.5L470.3,680.2L470.6,680.5ZM472.1,680.5L472.3,680.3L472.8,679.9L473.3,679.0L473.8,677.8L474.3,677.9L474.8,678.1L475.3,679.4L475.8,680.1L476.1,680.5ZM482.6,680.5L482.8,679.2L483.3,673.6L483.8,677.7L484.3,678.7L484.8,677.9L485.3,677.6L485.8,677.0L486.3,677.8L486.8,679.2L487.3,677.1L487.8,677.5L488.3,680.3L488.6,680.5ZM489.6,680.5L489.8,680.2L490.1,680.5ZM490.6,680.5L490.8,680.2L491.1,680.5ZM495.6,680.5L495.8,679.7L496.3,679.1L496.8,680.1L497.3,680.1L497.6,680.5ZM498.1,680.5L498.3,680.3L498.6,680.5ZM502.6,680.5L502.8,680.1L503.1,680.5ZM504.1,680.5L504.3,680.3L504.8,679.9L505.3,679.3L505.8,678.1L506.3,676.9L506.8,677.7L507.3,678.7L507.8,679.7L508.3,680.2L508.6,680.5ZM513.5,680.5L513.8,680.3L514.0,680.5ZM520.5,680.5L520.8,680.3L521.0,680.5ZM521.5,680.5L521.8,680.2L522.0,680.5ZM522.5,680.5L522.8,680.2L523.3,680.2L523.5,680.5ZM524.0,680.5L524.3,680.3L524.8,680.1L525.0,680.5ZM534.5,680.5L534.8,680.2L535.0,680.5ZM538.0,680.5L538.3,680.3L538.8,680.2L539.3,679.9L539.8,679.7L540.3,679.3L540.8,679.2L541.3,679.0L541.8,679.3L542.3,675.9L542.8,675.8L543.3,679.8L543.5,680.5ZM548.5,680.5L548.8,680.3L549.3,680.3L549.8,679.8L550.3,679.1L550.8,680.1L551.3,680.3L551.5,680.5ZM561.0,680.5L561.3,680.2L561.5,680.5ZM562.0,680.5L562.3,680.3L562.5,680.5ZM563.0,680.5L563.3,680.2L563.5,680.5ZM567.0,680.5L567.3,680.2L567.5,680.5ZM568.0,680.5L568.3,680.2L568.5,680.5ZM569.5,680.5L569.8,680.1L570.0,680.5ZM574.0,680.5L574.3,680.1L574.5,680.5ZM582.0,680.5L582.3,680.1L582.8,680.3L583.0,680.5ZM584.0,680.5L584.3,680.2L584.5,680.5ZM587.5,680.5L587.8,680.1L588.3,680.2L588.5,680.5ZM598.0,680.5L598.3,680.3L598.5,680.5ZM603.0,680.5L603.3,680.3L603.5,680.5ZM605.5,680.5L605.8,680.2L606.0,680.5ZM611.0,680.5L611.3,680.2L611.5,680.5ZM613.5,680.5L613.8,680.2L614.0,680.5ZM615.0,680.5L615.3,680.3L615.5,680.5ZM623.5,680.5L623.8,680.2L624.0,680.5ZM633.0,680.5L633.3,680.2L633.5,680.5ZM637.5,680.5L637.8,680.1L638.0,680.5ZM641.0,680.5L641.3,680.2L641.5,680.5ZM643.0,680.5L643.3,679.5L643.8,676.5L644.3,676.0L644.8,678.0L645.3,679.9L645.5,680.5ZM655.0,680.5L655.3,680.3L655.5,680.5ZM657.0,680.5L657.3,680.1L657.5,680.5ZM659.5,680.5L659.8,680.1L660.0,680.5ZM661.0,680.5L661.3,680.2L661.5,680.5ZM664.5,680.5L664.8,680.3L665.0,680.5ZM673.0,680.5L673.3,680.3L673.5,680.5ZM676.0,680.5L676.3,680.2L676.5,680.5ZM677.0,680.5L677.3,680.2L677.5,680.5Z" fill="#3b52a8"/><text x="375.3" y="669.9" font-size="2.6" fill="#888">[0 - 2.00]</text><line x1="374.30" y1="693.50" x2="677.80" y2="693.50" stroke="#6b7cc2" stroke-width="0.9"/><path d="M374.1,693.6L374.3,693.3L374.8,693.4L375.1,693.6ZM377.1,693.6L377.3,693.4L377.6,693.6ZM380.1,693.6L380.3,693.3L380.6,693.6ZM381.6,693.6L381.8,693.4L382.1,693.6ZM388.1,693.6L388.3,693.3L388.6,693.6ZM390.1,693.6L390.3,693.4L390.6,693.6ZM393.1,693.6L393.3,693.3L393.6,693.6ZM394.1,693.6L394.3,693.4L394.6,693.6ZM395.1,693.6L395.3,693.4L395.6,693.6ZM396.6,693.6L396.8,693.4L397.1,693.6ZM398.6,693.6L398.8,693.2L399.1,693.6ZM400.1,693.6L400.3,693.3L400.8,693.3L401.3,693.4L401.6,693.6ZM403.6,693.6L403.8,693.3L404.1,693.6ZM417.1,693.6L417.3,693.3L417.8,692.3L418.3,690.9L418.8,691.7L419.3,693.1L419.6,693.6ZM423.1,693.6L423.3,693.3L423.6,693.6ZM424.1,693.6L424.3,693.2L424.8,692.3L425.3,690.7L425.8,688.6L426.3,688.6L426.8,689.6L427.3,692.0L427.8,693.1L428.3,693.3L428.6,693.6ZM435.1,693.6L435.3,692.9L435.8,691.6L436.3,691.6L436.8,692.6L437.3,693.4L437.6,693.6ZM440.1,693.6L440.3,693.2L440.6,693.6ZM442.6,693.6L442.8,692.7L443.3,691.3L443.8,691.0L444.3,692.6L444.8,693.4L445.3,693.1L445.8,691.7L446.3,692.5L446.8,693.4L447.1,693.6ZM448.1,693.6L448.3,693.4L448.6,693.6ZM456.6,693.6L456.8,693.3L457.1,693.6ZM458.6,693.6L458.8,693.3L459.1,693.6ZM462.1,693.6L462.3,693.3L462.6,693.6ZM464.6,693.6L464.8,693.3L465.1,693.6ZM468.1,693.6L468.3,693.2L468.6,693.6ZM469.1,693.6L469.3,693.3L469.8,693.3L470.1,693.6ZM470.6,693.6L470.8,693.3L471.3,693.2L471.6,693.6ZM472.1,693.6L472.3,693.2L472.8,692.6L473.3,691.2L473.8,689.2L474.3,688.7L474.8,689.8L475.3,691.5L475.8,692.8L476.3,693.4L476.6,693.6ZM478.6,693.6L478.8,693.4L479.1,693.6ZM480.1,693.6L480.3,693.3L480.6,693.6ZM482.1,693.6L482.3,693.4L482.8,691.9L483.3,684.8L483.8,689.0L484.3,691.4L484.8,690.3L485.3,689.5L485.8,689.0L486.3,690.2L486.8,691.6L487.3,688.5L487.8,689.3L488.3,693.3L488.6,693.6ZM490.1,693.6L490.3,693.3L490.8,693.4L491.3,693.4L491.6,693.6ZM494.1,693.6L494.3,693.3L494.6,693.6ZM495.1,693.6L495.3,693.4L495.8,692.0L496.3,690.6L496.8,692.8L497.1,693.6ZM500.1,693.6L500.3,693.3L500.6,693.6ZM504.1,693.6L504.3,693.4L504.8,692.8L505.3,691.4L505.8,689.2L506.3,688.6L506.8,688.4L507.3,690.9L507.8,692.3L508.3,693.2L508.6,693.6ZM512.0,693.6L512.3,693.2L512.5,693.6ZM513.0,693.6L513.3,693.3L513.8,693.2L514.0,693.6ZM516.0,693.6L516.3,693.3L516.5,693.6ZM517.0,693.6L517.3,693.4L517.5,693.6ZM520.0,693.6L520.3,693.3L520.5,693.6ZM523.0,693.6L523.3,693.2L523.5,693.6ZM524.5,693.6L524.8,693.4L525.0,693.6ZM532.0,693.6L532.3,693.3L532.5,693.6ZM537.5,693.6L537.8,693.4L538.3,693.3L538.8,693.1L539.3,692.7L539.8,692.2L540.3,691.8L540.8,691.4L541.3,691.6L541.8,691.8L542.3,688.8L542.8,685.8L543.3,692.7L543.8,693.3L544.0,693.6ZM546.0,693.6L546.3,693.3L546.5,693.6ZM549.5,693.6L549.8,692.5L550.3,691.7L550.8,693.1L551.0,693.6ZM554.5,693.6L554.8,693.3L555.0,693.6ZM562.5,693.6L562.8,693.4L563.3,693.3L563.5,693.6ZM567.0,693.6L567.3,693.2L567.8,693.3L568.0,693.6ZM573.5,693.6L573.8,693.4L574.0,693.6ZM575.5,693.6L575.8,693.4L576.0,693.6ZM577.0,693.6L577.3,693.4L577.5,693.6ZM579.5,693.6L579.8,693.4L580.0,693.6ZM580.5,693.6L580.8,693.4L581.0,693.6ZM586.5,693.6L586.8,693.3L587.0,693.6ZM588.5,693.6L588.8,693.4L589.0,693.6ZM595.5,693.6L595.8,693.3L596.0,693.6ZM596.5,693.6L596.8,693.4L597.0,693.6ZM600.0,693.6L600.3,693.4L600.8,693.4L601.3,693.3L601.5,693.6ZM607.0,693.6L607.3,693.3L607.5,693.6ZM612.5,693.6L612.8,693.3L613.0,693.6ZM632.0,693.6L632.3,693.3L632.5,693.6ZM636.0,693.6L636.3,693.4L636.5,693.6ZM637.5,693.6L637.8,693.4L638.0,693.6ZM639.0,693.6L639.3,693.2L639.5,693.6ZM642.5,693.6L642.8,693.4L643.3,691.8L643.8,687.5L644.3,685.8L644.8,689.3L645.3,692.8L645.5,693.6ZM650.5,693.6L650.8,693.4L651.0,693.6ZM652.5,693.6L652.8,693.3L653.0,693.6ZM654.5,693.6L654.8,693.4L655.0,693.6ZM655.5,693.6L655.8,693.4L656.0,693.6ZM656.5,693.6L656.8,693.3L657.0,693.6ZM659.0,693.6L659.3,693.3L659.5,693.6ZM660.5,693.6L660.8,693.3L661.0,693.6ZM664.5,693.6L664.8,693.3L665.0,693.6ZM666.5,693.6L666.8,693.2L667.0,693.6ZM668.5,693.6L668.8,693.4L669.0,693.6ZM674.0,693.6L674.3,693.4L674.5,693.6ZM676.5,693.6L676.8,693.3L677.0,693.6Z" fill="#3b52a8"/><text x="375.3" y="683.0" font-size="2.6" fill="#888">[0 - 2.00]</text><line x1="374.30" y1="706.40" x2="677.80" y2="706.40" stroke="#ec5a6e" stroke-width="0.9"/><path d="M380.6,706.5L380.8,706.2L381.1,706.5ZM382.1,706.5L382.3,706.1L382.8,706.2L383.1,706.5ZM383.6,706.5L383.8,706.3L384.1,706.5ZM387.6,706.5L387.8,706.2L388.1,706.5ZM391.6,706.5L391.8,706.3L392.1,706.5ZM400.1,706.5L400.3,706.3L400.8,706.3L401.1,706.5ZM406.1,706.5L406.3,706.2L406.6,706.5ZM408.6,706.5L408.8,706.3L409.1,706.5ZM415.1,706.5L415.3,706.3L415.6,706.5ZM416.6,706.5L416.8,706.1L417.3,706.1L417.8,704.6L418.3,703.0L418.8,703.7L419.3,705.7L419.6,706.5ZM420.1,706.5L420.3,706.3L420.6,706.5ZM423.1,706.5L423.3,706.1L423.6,706.5ZM424.1,706.5L424.3,706.1L424.8,705.2L425.3,703.0L425.8,701.3L426.3,700.7L426.8,702.7L427.3,704.9L427.8,706.0L428.1,706.5ZM429.1,706.5L429.3,706.1L429.6,706.5ZM433.6,706.5L433.8,706.2L434.1,706.5ZM434.6,706.5L434.8,706.3L435.3,705.7L435.8,704.7L436.3,704.1L436.8,705.5L437.3,706.3L437.6,706.5ZM442.6,706.5L442.8,705.6L443.3,704.1L443.8,704.0L444.3,705.4L444.8,706.3L445.3,706.0L445.8,704.9L446.3,705.3L446.8,706.2L447.1,706.5ZM447.6,706.5L447.8,706.2L448.1,706.5ZM451.1,706.5L451.3,706.3L451.6,706.5ZM454.6,706.5L454.8,706.2L455.1,706.5ZM456.1,706.5L456.3,706.3L456.6,706.5ZM462.6,706.5L462.8,706.1L463.1,706.5ZM464.1,706.5L464.3,706.2L464.6,706.5ZM465.1,706.5L465.3,706.2L465.6,706.5ZM471.6,706.5L471.8,706.3L472.3,706.1L472.8,705.4L473.3,703.8L473.8,702.1L474.3,702.4L474.8,702.9L475.3,704.7L475.8,705.7L476.3,706.3L476.6,706.5ZM482.6,706.5L482.8,704.6L483.3,696.7L483.8,701.1L484.3,703.8L484.8,701.8L485.3,701.3L485.8,700.4L486.3,702.0L486.8,703.8L487.3,701.5L487.8,702.4L488.3,706.2L488.6,706.5ZM491.1,706.5L491.3,706.1L491.6,706.5ZM492.1,706.5L492.3,706.3L492.6,706.5ZM495.1,706.5L495.3,706.3L495.8,704.2L496.3,702.6L496.8,705.5L497.1,706.5ZM498.1,706.5L498.3,706.2L498.6,706.5ZM504.1,706.5L504.3,706.3L504.8,705.6L505.3,704.0L505.8,702.3L506.3,701.6L506.8,701.4L507.3,703.4L507.8,705.2L508.3,706.1L508.6,706.5ZM509.1,706.5L509.3,706.1L509.8,706.3L510.3,706.1L510.6,706.5ZM514.5,706.5L514.8,706.1L515.0,706.5ZM515.5,706.5L515.8,706.2L516.3,706.1L516.5,706.5ZM526.0,706.5L526.3,706.3L526.5,706.5ZM534.5,706.5L534.8,706.2L535.0,706.5ZM538.0,706.5L538.3,706.3L538.8,705.9L539.3,705.5L539.8,705.1L540.3,704.4L540.8,704.4L541.3,704.3L541.8,704.3L542.3,701.0L542.8,698.9L543.3,705.7L543.8,706.3L544.0,706.5ZM549.5,706.5L549.8,705.9L550.3,705.7L550.8,706.3L551.0,706.5ZM557.5,706.5L557.8,706.1L558.0,706.5ZM560.5,706.5L560.8,706.2L561.0,706.5ZM562.0,706.5L562.3,706.2L562.5,706.5ZM573.5,706.5L573.8,706.2L574.0,706.5ZM575.0,706.5L575.3,706.2L575.8,706.2L576.0,706.5ZM581.5,706.5L581.8,706.3L582.0,706.5ZM583.5,706.5L583.8,706.2L584.3,706.3L584.5,706.5ZM586.0,706.5L586.3,706.2L586.5,706.5ZM590.0,706.5L590.3,706.2L590.5,706.5ZM592.0,706.5L592.3,706.1L592.5,706.5ZM594.5,706.5L594.8,706.2L595.0,706.5ZM597.5,706.5L597.8,706.2L598.0,706.5ZM600.5,706.5L600.8,706.2L601.0,706.5ZM601.5,706.5L601.8,706.3L602.3,706.1L602.5,706.5ZM611.5,706.5L611.8,706.2L612.0,706.5ZM614.0,706.5L614.3,706.3L614.5,706.5ZM618.5,706.5L618.8,706.3L619.0,706.5ZM622.0,706.5L622.3,706.2L622.5,706.5ZM624.5,706.5L624.8,706.2L625.0,706.5ZM625.5,706.5L625.8,706.2L626.0,706.5ZM628.0,706.5L628.3,706.1L628.5,706.5ZM629.0,706.5L629.3,706.3L629.5,706.5ZM632.0,706.5L632.3,706.3L632.8,706.3L633.0,706.5ZM633.5,706.5L633.8,706.1L634.0,706.5ZM638.0,706.5L638.3,706.1L638.5,706.5ZM640.0,706.5L640.3,706.1L640.5,706.5ZM642.5,706.5L642.8,706.3L643.3,704.9L643.8,700.4L644.3,698.7L644.8,702.6L645.3,705.8L645.5,706.5ZM647.0,706.5L647.3,706.2L647.5,706.5ZM649.5,706.5L649.8,706.1L650.0,706.5ZM661.5,706.5L661.8,706.3L662.0,706.5ZM662.5,706.5L662.8,706.1L663.0,706.5ZM667.0,706.5L667.3,706.2L667.5,706.5ZM668.0,706.5L668.3,706.3L668.5,706.5ZM676.5,706.5L676.8,706.1L677.0,706.5Z" fill="#e5193a"/><text x="375.3" y="695.9" font-size="2.6" fill="#888">[0 - 2.00]</text><line x1="375.30" y1="713.40" x2="676.80" y2="713.40" stroke="#5a6fbf" stroke-width="0.5" stroke-dasharray="1.5,2.5"/><rect x="400.00" y="712.40" width="1.50" height="2.00" fill="#3b52a8" stroke="none" stroke-width="1"/><rect x="415.60" y="712.30" width="17.40" height="2.20" fill="#3b52a8" stroke="none" stroke-width="1"/><rect x="454.00" y="712.30" width="9.50" height="2.20" fill="#3b52a8" stroke="none" stroke-width="1"/><rect x="469.00" y="712.40" width="2.00" height="2.00" fill="#3b52a8" stroke="none" stroke-width="1"/><rect x="483.00" y="712.30" width="4.00" height="2.20" fill="#3b52a8" stroke="none" stroke-width="1"/><rect x="510.00" y="712.30" width="9.50" height="2.20" fill="#3b52a8" stroke="none" stroke-width="1"/><rect x="542.00" y="712.40" width="1.50" height="2.00" fill="#3b52a8" stroke="none" stroke-width="1"/><rect x="591.60" y="712.30" width="15.20" height="2.20" fill="#3b52a8" stroke="none" stroke-width="1"/><rect x="615.00" y="712.40" width="1.50" height="2.00" fill="#3b52a8" stroke="none" stroke-width="1"/><text x="380.97" y="724.90" font-size="6.6" fill="#333333" textLength="31.68" lengthAdjust="spacingAndGlyphs">CBFA2T2</text><text x="464.74" y="724.90" font-size="6.6" fill="#333333" textLength="29.81" lengthAdjust="spacingAndGlyphs">NECAB3</text><text x="511.90" y="724.80" font-size="10.4" fill="#333333" textLength="24.86" lengthAdjust="spacingAndGlyphs">E2F1</text><text x="617.07" y="724.90" font-size="6.6" fill="#333333" textLength="23.92" lengthAdjust="spacingAndGlyphs">PXMP4</text><line x1="372.00" y1="735.80" x2="507.70" y2="735.80" stroke="#3a3a3a" stroke-width="1.1"/><line x1="540.50" y1="735.80" x2="680.20" y2="735.80" stroke="#3a3a3a" stroke-width="1.1"/><text x="510.00" y="739.30" font-size="10.5" fill="#333333" textLength="28.71" lengthAdjust="spacingAndGlyphs">100kb</text><rect x="373.30" y="740.00" width="305.50" height="75.80" fill="#f6f7f8" stroke="none" stroke-width="1"/><line x1="373.60" y1="740.00" x2="373.60" y2="815.80" stroke="#d8d8d8" stroke-width="0.6"/><line x1="678.50" y1="740.00" x2="678.50" y2="815.80" stroke="#d8d8d8" stroke-width="0.6"/><line x1="373.30" y1="810.80" x2="678.80" y2="810.80" stroke="#e4e4e4" stroke-width="0.6"/><line x1="374.30" y1="754.10" x2="677.80" y2="754.10" stroke="#6a6a6a" stroke-width="0.9"/><path d="M379.6,754.2L379.8,753.9L380.1,754.2ZM387.1,754.2L387.3,753.9L387.6,754.2ZM389.6,754.2L389.8,754.0L390.1,754.2ZM395.6,754.2L395.8,754.0L396.1,754.2ZM401.1,754.2L401.3,754.0L401.6,754.2ZM416.6,754.2L416.8,754.0L417.3,753.9L417.6,754.2ZM422.6,754.2L422.8,754.0L423.1,754.2ZM426.6,754.2L426.8,754.0L427.1,754.2ZM429.6,754.2L429.8,754.0L430.1,754.2ZM431.6,754.2L431.8,753.9L432.3,754.0L432.6,754.2ZM439.1,754.2L439.3,753.9L439.6,754.2ZM448.6,754.2L448.8,753.9L449.1,754.2ZM452.6,754.2L452.8,754.0L453.1,754.2ZM455.1,754.2L455.3,753.9L455.6,754.2ZM473.1,754.2L473.3,754.0L473.6,754.2ZM474.1,754.2L474.3,753.9L474.6,754.2ZM486.6,754.2L486.8,754.0L487.1,754.2ZM488.6,754.2L488.8,754.0L489.3,753.8L489.8,752.3L490.3,751.7L490.8,753.0L491.3,754.0L491.6,754.2ZM494.6,754.2L494.8,754.0L495.3,754.0L495.8,753.9L496.1,754.2ZM496.6,754.2L496.8,753.9L497.3,753.8L497.8,753.4L498.3,752.8L498.8,752.1L499.3,751.7L499.8,751.2L500.3,745.9L500.8,746.4L501.3,752.2L501.8,753.9L502.1,754.2ZM513.0,754.2L513.3,754.0L513.5,754.2ZM514.0,754.2L514.3,754.0L514.5,754.2ZM532.5,754.2L532.8,754.0L533.3,754.0L533.5,754.2ZM535.0,754.2L535.3,754.0L535.5,754.2ZM541.0,754.2L541.3,754.0L541.8,754.0L542.0,754.2ZM542.5,754.2L542.8,754.0L543.3,753.8L543.8,753.3L544.3,753.3L544.8,753.9L545.0,754.2ZM551.5,754.2L551.8,754.0L552.0,754.2ZM562.5,754.2L562.8,754.0L563.0,754.2ZM565.5,754.2L565.8,754.0L566.0,754.2ZM570.0,754.2L570.3,754.0L570.5,754.2ZM571.0,754.2L571.3,754.0L571.5,754.2ZM574.5,754.2L574.8,754.0L575.0,754.2ZM577.5,754.2L577.8,754.0L578.0,754.2ZM583.5,754.2L583.8,754.0L584.3,753.9L584.5,754.2ZM585.5,754.2L585.8,754.0L586.3,753.8L586.8,753.6L587.3,753.2L587.8,752.4L588.3,750.0L588.8,751.0L589.3,751.6L589.8,751.2L590.3,751.8L590.8,752.3L591.3,752.7L591.8,753.3L592.3,749.2L592.8,742.8L593.3,748.1L593.8,753.2L594.0,754.2ZM603.0,754.2L603.3,753.9L603.5,754.2ZM607.5,754.2L607.8,754.0L608.0,754.2ZM608.5,754.2L608.8,754.0L609.3,753.9L609.5,754.2ZM610.0,754.2L610.3,753.9L610.5,754.2ZM612.0,754.2L612.3,754.0L612.8,753.9L613.0,754.2ZM616.0,754.2L616.3,754.0L616.5,754.2ZM621.0,754.2L621.3,754.0L621.5,754.2ZM626.5,754.2L626.8,753.9L627.0,754.2ZM632.0,754.2L632.3,754.0L632.5,754.2ZM633.5,754.2L633.8,754.0L634.0,754.2ZM638.5,754.2L638.8,754.0L639.0,754.2ZM640.0,754.2L640.3,753.9L640.5,754.2ZM644.0,754.2L644.3,754.0L644.5,754.2ZM650.5,754.2L650.8,754.0L651.0,754.2ZM653.5,754.2L653.8,754.0L654.0,754.2ZM654.5,754.2L654.8,754.0L655.3,754.0L655.5,754.2ZM656.0,754.2L656.3,754.0L656.5,754.2ZM660.0,754.2L660.3,754.0L660.5,754.2ZM662.0,754.2L662.3,754.0L662.8,753.9L663.3,752.6L663.8,749.6L664.3,750.0L664.8,753.2L665.0,754.2ZM667.5,754.2L667.8,753.9L668.3,751.9L668.8,749.9L669.3,753.0L669.5,754.2ZM670.0,754.2L670.3,754.0L670.5,754.2ZM676.0,754.2L676.3,752.9L676.8,751.3L677.3,753.6L677.5,754.2Z" fill="#4d4d4d"/><text x="375.3" y="743.6" font-size="2.6" fill="#888">[0 - 2.00]</text><line x1="374.30" y1="767.10" x2="677.80" y2="767.10" stroke="#6b7cc2" stroke-width="0.9"/><path d="M374.1,767.2L374.3,767.0L374.8,766.9L375.3,767.0L375.6,767.2ZM383.1,767.2L383.3,767.0L383.6,767.2ZM385.6,767.2L385.8,766.9L386.1,767.2ZM390.6,767.2L390.8,766.8L391.1,767.2ZM391.6,767.2L391.8,767.0L392.1,767.2ZM392.6,767.2L392.8,766.8L393.3,766.8L393.6,767.2ZM395.1,767.2L395.3,766.9L395.6,767.2ZM402.1,767.2L402.3,767.0L402.8,767.0L403.1,767.2ZM404.6,767.2L404.8,766.9L405.1,767.2ZM405.6,767.2L405.8,766.8L406.3,767.0L406.6,767.2ZM410.1,767.2L410.3,766.9L410.6,767.2ZM411.6,767.2L411.8,767.0L412.1,767.2ZM412.6,767.2L412.8,766.9L413.1,767.2ZM418.1,767.2L418.3,766.9L418.6,767.2ZM427.6,767.2L427.8,767.0L428.3,766.9L428.6,767.2ZM430.6,767.2L430.8,766.8L431.3,767.0L431.6,767.2ZM432.6,767.2L432.8,766.9L433.1,767.2ZM435.1,767.2L435.3,766.9L435.6,767.2ZM437.1,767.2L437.3,767.0L437.6,767.2ZM440.1,767.2L440.3,766.9L440.6,767.2ZM441.6,767.2L441.8,767.0L442.1,767.2ZM442.6,767.2L442.8,766.8L443.1,767.2ZM444.1,767.2L444.3,766.8L444.8,767.0L445.1,767.2ZM451.6,767.2L451.8,766.9L452.1,767.2ZM452.6,767.2L452.8,766.9L453.3,767.0L453.6,767.2ZM456.1,767.2L456.3,767.0L456.6,767.2ZM459.1,767.2L459.3,766.9L459.6,767.2ZM461.1,767.2L461.3,767.0L461.6,767.2ZM463.1,767.2L463.3,767.0L463.8,767.0L464.1,767.2ZM465.1,767.2L465.3,766.8L465.6,767.2ZM466.1,767.2L466.3,767.0L466.6,767.2ZM469.1,767.2L469.3,767.0L469.6,767.2ZM470.1,767.2L470.3,767.0L470.6,767.2ZM476.1,767.2L476.3,766.9L476.6,767.2ZM481.1,767.2L481.3,766.8L481.6,767.2ZM483.6,767.2L483.8,767.0L484.1,767.2ZM488.1,767.2L488.3,767.0L488.6,767.2ZM489.1,767.2L489.3,766.8L489.8,765.1L490.3,764.6L490.8,766.1L491.3,766.9L491.6,767.2ZM495.1,767.2L495.3,766.9L495.6,767.2ZM496.6,767.2L496.8,767.0L497.3,766.7L497.8,766.3L498.3,765.7L498.8,764.7L499.3,764.4L499.8,764.2L500.3,758.7L500.8,758.3L501.3,765.3L501.8,766.8L502.3,767.0L502.6,767.2ZM503.6,767.2L503.8,766.8L504.1,767.2ZM507.1,767.2L507.3,766.9L507.6,767.2ZM522.5,767.2L522.8,767.0L523.0,767.2ZM523.5,767.2L523.8,767.0L524.0,767.2ZM526.0,767.2L526.3,767.0L526.5,767.2ZM528.0,767.2L528.3,766.9L528.5,767.2ZM529.0,767.2L529.3,767.0L529.5,767.2ZM530.0,767.2L530.3,767.0L530.5,767.2ZM531.5,767.2L531.8,766.8L532.0,767.2ZM537.5,767.2L537.8,767.0L538.3,766.9L538.5,767.2ZM541.0,767.2L541.3,767.0L541.8,766.8L542.0,767.2ZM543.0,767.2L543.3,766.8L543.8,766.4L544.3,766.3L544.8,766.9L545.0,767.2ZM545.5,767.2L545.8,766.8L546.0,767.2ZM547.5,767.2L547.8,766.9L548.0,767.2ZM550.0,767.2L550.3,767.0L550.8,767.0L551.0,767.2ZM552.5,767.2L552.8,767.0L553.0,767.2ZM558.0,767.2L558.3,767.0L558.5,767.2ZM565.5,767.2L565.8,766.9L566.0,767.2ZM568.5,767.2L568.8,767.0L569.0,767.2ZM570.5,767.2L570.8,767.0L571.0,767.2ZM573.5,767.2L573.8,766.9L574.0,767.2ZM575.0,767.2L575.3,767.0L575.5,767.2ZM585.5,767.2L585.8,767.0L586.3,766.7L586.8,766.4L587.3,765.7L587.8,765.3L588.3,762.8L588.8,763.8L589.3,763.8L589.8,764.3L590.3,764.6L590.8,765.0L591.3,765.2L591.8,766.1L592.3,760.9L592.8,757.4L593.3,761.2L593.8,766.1L594.0,767.2ZM599.0,767.2L599.3,767.0L599.5,767.2ZM600.5,767.2L600.8,767.0L601.0,767.2ZM602.5,767.2L602.8,767.0L603.3,767.0L603.5,767.2ZM607.5,767.2L607.8,766.9L608.0,767.2ZM613.0,767.2L613.3,766.9L613.5,767.2ZM614.0,767.2L614.3,767.0L614.5,767.2ZM619.0,767.2L619.3,767.0L619.5,767.2ZM622.0,767.2L622.3,766.8L622.5,767.2ZM627.0,767.2L627.3,767.0L627.5,767.2ZM637.0,767.2L637.3,767.0L637.8,767.0L638.0,767.2ZM638.5,767.2L638.8,766.9L639.0,767.2ZM646.0,767.2L646.3,767.0L646.5,767.2ZM647.5,767.2L647.8,766.8L648.0,767.2ZM653.5,767.2L653.8,767.0L654.0,767.2ZM656.0,767.2L656.3,766.9L656.5,767.2ZM658.5,767.2L658.8,766.8L659.0,767.2ZM661.0,767.2L661.3,767.0L661.5,767.2ZM662.5,767.2L662.8,767.0L663.3,765.6L663.8,762.7L664.3,763.2L664.8,766.0L665.0,767.2ZM665.5,767.2L665.8,767.0L666.3,766.9L666.5,767.2ZM667.5,767.2L667.8,766.9L668.3,764.4L668.8,762.9L669.3,765.9L669.5,767.2ZM671.5,767.2L671.8,767.0L672.0,767.2ZM674.0,767.2L674.3,767.0L674.5,767.2ZM676.0,767.2L676.3,766.0L676.8,764.7L677.3,766.7L677.5,767.2Z" fill="#3b52a8"/><text x="375.3" y="756.6" font-size="2.6" fill="#888">[0 - 2.00]</text><line x1="374.30" y1="779.80" x2="677.80" y2="779.80" stroke="#6b7cc2" stroke-width="0.9"/><path d="M374.6,779.9L374.8,779.6L375.1,779.9ZM377.1,779.9L377.3,779.5L377.6,779.9ZM379.1,779.9L379.3,779.7L379.6,779.9ZM386.1,779.9L386.3,779.7L386.6,779.9ZM387.6,779.9L387.8,779.6L388.1,779.9ZM396.1,779.9L396.3,779.5L396.6,779.9ZM399.1,779.9L399.3,779.6L399.6,779.9ZM402.1,779.9L402.3,779.6L402.8,779.6L403.1,779.9ZM405.1,779.9L405.3,779.6L405.6,779.9ZM407.1,779.9L407.3,779.7L407.8,779.7L408.1,779.9ZM408.6,779.9L408.8,779.6L409.1,779.9ZM411.1,779.9L411.3,779.6L411.6,779.9ZM413.6,779.9L413.8,779.7L414.1,779.9ZM415.6,779.9L415.8,779.7L416.1,779.9ZM417.6,779.9L417.8,779.5L418.1,779.9ZM424.1,779.9L424.3,779.7L424.6,779.9ZM425.1,779.9L425.3,779.6L425.6,779.9ZM426.6,779.9L426.8,779.6L427.1,779.9ZM430.1,779.9L430.3,779.6L430.6,779.9ZM431.1,779.9L431.3,779.7L431.6,779.9ZM438.1,779.9L438.3,779.6L438.6,779.9ZM440.6,779.9L440.8,779.5L441.1,779.9ZM441.6,779.9L441.8,779.7L442.1,779.9ZM443.6,779.9L443.8,779.7L444.1,779.9ZM447.1,779.9L447.3,779.5L447.6,779.9ZM455.6,779.9L455.8,779.5L456.1,779.9ZM460.6,779.9L460.8,779.5L461.1,779.9ZM465.6,779.9L465.8,779.7L466.1,779.9ZM470.6,779.9L470.8,779.7L471.3,779.7L471.6,779.9ZM475.1,779.9L475.3,779.6L475.6,779.9ZM480.1,779.9L480.3,779.7L480.6,779.9ZM481.1,779.9L481.3,779.7L481.6,779.9ZM489.1,779.9L489.3,779.6L489.8,778.5L490.3,777.7L490.8,778.9L491.1,779.9ZM494.6,779.9L494.8,779.6L495.1,779.9ZM496.6,779.9L496.8,779.7L497.3,779.5L497.8,779.0L498.3,778.6L498.8,778.1L499.3,777.3L499.8,777.8L500.3,772.2L500.8,774.4L501.3,778.1L501.8,779.6L502.1,779.9ZM504.1,779.9L504.3,779.6L504.8,779.6L505.3,779.6L505.6,779.9ZM506.1,779.9L506.3,779.7L506.8,779.7L507.3,779.5L507.6,779.9ZM509.1,779.9L509.3,779.7L509.6,779.9ZM511.1,779.9L511.3,779.7L511.6,779.9ZM513.5,779.9L513.8,779.6L514.0,779.9ZM521.5,779.9L521.8,779.7L522.0,779.9ZM522.5,779.9L522.8,779.7L523.0,779.9ZM525.5,779.9L525.8,779.7L526.3,779.5L526.5,779.9ZM528.5,779.9L528.8,779.7L529.0,779.9ZM533.5,779.9L533.8,779.6L534.0,779.9ZM535.5,779.9L535.8,779.7L536.0,779.9ZM538.5,779.9L538.8,779.6L539.0,779.9ZM539.5,779.9L539.8,779.6L540.0,779.9ZM542.0,779.9L542.3,779.5L542.5,779.9ZM543.0,779.9L543.3,779.5L543.8,779.0L544.3,779.1L544.8,779.6L545.0,779.9ZM546.0,779.9L546.3,779.6L546.5,779.9ZM554.0,779.9L554.3,779.7L554.5,779.9ZM556.0,779.9L556.3,779.6L556.8,779.6L557.0,779.9ZM558.5,779.9L558.8,779.7L559.0,779.9ZM560.0,779.9L560.3,779.7L560.5,779.9ZM563.0,779.9L563.3,779.6L563.5,779.9ZM571.0,779.9L571.3,779.7L571.8,779.6L572.0,779.9ZM584.5,779.9L584.8,779.6L585.0,779.9ZM585.5,779.9L585.8,779.7L586.3,779.5L586.8,779.3L587.3,778.6L587.8,778.4L588.3,776.8L588.8,777.2L589.3,777.4L589.8,776.9L590.3,777.6L590.8,778.0L591.3,778.5L591.8,779.0L592.3,775.6L592.8,772.1L593.3,775.1L593.8,779.1L594.0,779.9ZM596.0,779.9L596.3,779.7L596.5,779.9ZM597.5,779.9L597.8,779.6L598.0,779.9ZM599.5,779.9L599.8,779.7L600.0,779.9ZM601.0,779.9L601.3,779.5L601.5,779.9ZM607.0,779.9L607.3,779.5L607.5,779.9ZM610.0,779.9L610.3,779.7L610.5,779.9ZM611.0,779.9L611.3,779.7L611.5,779.9ZM617.5,779.9L617.8,779.7L618.3,779.7L618.5,779.9ZM620.5,779.9L620.8,779.7L621.0,779.9ZM626.0,779.9L626.3,779.6L626.5,779.9ZM628.5,779.9L628.8,779.6L629.3,779.5L629.5,779.9ZM630.0,779.9L630.3,779.5L630.5,779.9ZM639.5,779.9L639.8,779.5L640.0,779.9ZM642.0,779.9L642.3,779.6L642.5,779.9ZM643.5,779.9L643.8,779.7L644.0,779.9ZM646.5,779.9L646.8,779.7L647.0,779.9ZM650.0,779.9L650.3,779.5L650.5,779.9ZM651.0,779.9L651.3,779.6L651.5,779.9ZM652.5,779.9L652.8,779.6L653.0,779.9ZM656.0,779.9L656.3,779.6L656.5,779.9ZM658.0,779.9L658.3,779.6L658.5,779.9ZM659.5,779.9L659.8,779.5L660.3,779.7L660.5,779.9ZM663.0,779.9L663.3,778.5L663.8,776.1L664.3,776.3L664.8,778.8L665.0,779.9ZM667.5,779.9L667.8,779.7L668.3,777.4L668.8,776.0L669.3,778.7L669.5,779.9ZM671.5,779.9L671.8,779.5L672.3,779.7L672.8,779.7L673.0,779.9ZM676.0,779.9L676.3,778.8L676.8,777.8L677.3,779.5L677.5,779.9Z" fill="#3b52a8"/><text x="375.3" y="769.3" font-size="2.6" fill="#888">[0 - 2.00]</text><line x1="374.30" y1="792.80" x2="677.80" y2="792.80" stroke="#6b7cc2" stroke-width="0.9"/><path d="M385.6,792.9L385.8,792.6L386.1,792.9ZM387.1,792.9L387.3,792.6L387.6,792.9ZM390.6,792.9L390.8,792.6L391.1,792.9ZM391.6,792.9L391.8,792.7L392.1,792.9ZM393.1,792.9L393.3,792.7L393.8,792.5L394.3,792.7L394.6,792.9ZM400.6,792.9L400.8,792.7L401.1,792.9ZM401.6,792.9L401.8,792.5L402.1,792.9ZM403.1,792.9L403.3,792.6L403.6,792.9ZM406.1,792.9L406.3,792.6L406.8,792.7L407.1,792.9ZM412.6,792.9L412.8,792.6L413.1,792.9ZM414.1,792.9L414.3,792.7L414.6,792.9ZM419.1,792.9L419.3,792.6L419.6,792.9ZM420.6,792.9L420.8,792.7L421.1,792.9ZM422.1,792.9L422.3,792.7L422.6,792.9ZM423.1,792.9L423.3,792.6L423.6,792.9ZM428.1,792.9L428.3,792.6L428.6,792.9ZM429.1,792.9L429.3,792.6L429.6,792.9ZM431.1,792.9L431.3,792.6L431.6,792.9ZM433.1,792.9L433.3,792.7L433.6,792.9ZM435.1,792.9L435.3,792.7L435.8,792.6L436.1,792.9ZM437.1,792.9L437.3,792.6L437.6,792.9ZM443.6,792.9L443.8,792.6L444.1,792.9ZM449.1,792.9L449.3,792.7L449.6,792.9ZM452.6,792.9L452.8,792.7L453.1,792.9ZM456.6,792.9L456.8,792.6L457.1,792.9ZM460.1,792.9L460.3,792.7L460.6,792.9ZM464.6,792.9L464.8,792.7L465.1,792.9ZM465.6,792.9L465.8,792.7L466.1,792.9ZM472.6,792.9L472.8,792.6L473.1,792.9ZM478.1,792.9L478.3,792.5L478.6,792.9ZM482.6,792.9L482.8,792.6L483.1,792.9ZM485.6,792.9L485.8,792.6L486.3,792.6L486.6,792.9ZM489.1,792.9L489.3,792.5L489.8,791.0L490.3,790.0L490.8,791.8L491.3,792.7L491.8,792.6L492.1,792.9ZM496.1,792.9L496.3,792.7L496.8,792.7L497.3,792.4L497.8,791.9L498.3,791.3L498.8,790.6L499.3,790.2L499.8,790.1L500.3,784.7L500.8,785.1L501.3,791.0L501.8,792.5L502.3,792.7L502.8,792.7L503.1,792.9ZM504.1,792.9L504.3,792.6L504.6,792.9ZM507.6,792.9L507.8,792.7L508.1,792.9ZM512.0,792.9L512.3,792.6L512.5,792.9ZM514.5,792.9L514.8,792.6L515.0,792.9ZM516.0,792.9L516.3,792.7L516.5,792.9ZM517.5,792.9L517.8,792.7L518.0,792.9ZM519.5,792.9L519.8,792.5L520.0,792.9ZM532.5,792.9L532.8,792.5L533.0,792.9ZM535.5,792.9L535.8,792.6L536.0,792.9ZM538.5,792.9L538.8,792.7L539.0,792.9ZM539.5,792.9L539.8,792.7L540.0,792.9ZM541.0,792.9L541.3,792.6L541.5,792.9ZM542.5,792.9L542.8,792.6L543.3,792.5L543.8,792.1L544.3,792.1L544.8,792.6L545.0,792.9ZM546.0,792.9L546.3,792.5L546.8,792.6L547.0,792.9ZM552.5,792.9L552.8,792.5L553.0,792.9ZM556.0,792.9L556.3,792.7L556.5,792.9ZM558.0,792.9L558.3,792.6L558.5,792.9ZM561.0,792.9L561.3,792.6L561.5,792.9ZM563.5,792.9L563.8,792.5L564.0,792.9ZM564.5,792.9L564.8,792.5L565.0,792.9ZM567.0,792.9L567.3,792.7L567.5,792.9ZM571.5,792.9L571.8,792.5L572.0,792.9ZM573.5,792.9L573.8,792.6L574.0,792.9ZM581.5,792.9L581.8,792.7L582.0,792.9ZM583.5,792.9L583.8,792.6L584.0,792.9ZM585.5,792.9L585.8,792.5L586.3,792.4L586.8,792.1L587.3,791.5L587.8,791.0L588.3,788.5L588.8,789.1L589.3,789.4L589.8,789.7L590.3,790.2L590.8,790.2L591.3,791.0L591.8,791.8L592.3,786.6L592.8,780.7L593.3,787.0L593.8,792.0L594.3,792.7L594.5,792.9ZM596.0,792.9L596.3,792.5L596.5,792.9ZM599.5,792.9L599.8,792.7L600.0,792.9ZM601.5,792.9L601.8,792.5L602.3,792.7L602.8,792.7L603.0,792.9ZM604.5,792.9L604.8,792.6L605.0,792.9ZM611.5,792.9L611.8,792.6L612.0,792.9ZM614.0,792.9L614.3,792.7L614.5,792.9ZM616.5,792.9L616.8,792.6L617.0,792.9ZM623.0,792.9L623.3,792.7L623.5,792.9ZM625.0,792.9L625.3,792.6L625.5,792.9ZM630.0,792.9L630.3,792.7L630.5,792.9ZM634.0,792.9L634.3,792.6L634.5,792.9ZM636.0,792.9L636.3,792.5L636.5,792.9ZM642.0,792.9L642.3,792.7L642.8,792.6L643.0,792.9ZM646.5,792.9L646.8,792.5L647.0,792.9ZM648.5,792.9L648.8,792.5L649.0,792.9ZM651.0,792.9L651.3,792.7L651.5,792.9ZM653.0,792.9L653.3,792.5L653.5,792.9ZM655.0,792.9L655.3,792.7L655.5,792.9ZM659.0,792.9L659.3,792.6L659.5,792.9ZM660.0,792.9L660.3,792.7L660.5,792.9ZM662.5,792.9L662.8,792.7L663.3,791.1L663.8,787.6L664.3,788.0L664.8,791.8L665.0,792.9ZM667.5,792.9L667.8,792.6L668.3,790.7L668.8,789.2L669.3,791.6L669.5,792.9ZM676.0,792.9L676.3,791.5L676.8,790.0L677.3,792.4L677.5,792.9Z" fill="#3b52a8"/><text x="375.3" y="782.3" font-size="2.6" fill="#888">[0 - 2.00]</text><line x1="374.30" y1="805.90" x2="677.80" y2="805.90" stroke="#ec5a6e" stroke-width="0.9"/><path d="M374.6,806.0L374.8,805.7L375.1,806.0ZM379.6,806.0L379.8,805.4L380.1,806.0ZM383.1,806.0L383.3,805.4L383.6,806.0ZM386.1,806.0L386.3,805.8L386.6,806.0ZM391.1,806.0L391.3,805.6L391.8,805.7L392.3,805.8L392.6,806.0ZM394.6,806.0L394.8,805.5L395.1,806.0ZM398.6,806.0L398.8,805.7L399.3,805.4L399.6,806.0ZM405.1,806.0L405.3,805.8L405.6,806.0ZM407.1,806.0L407.3,805.7L407.6,806.0ZM414.1,806.0L414.3,805.4L414.6,806.0ZM418.1,806.0L418.3,805.5L418.6,806.0ZM419.1,806.0L419.3,805.7L419.6,806.0ZM420.1,806.0L420.3,805.6L420.8,805.5L421.1,806.0ZM425.6,806.0L425.8,805.6L426.1,806.0ZM428.6,806.0L428.8,805.5L429.1,806.0ZM430.1,806.0L430.3,805.5L430.8,805.8L431.1,806.0ZM433.1,806.0L433.3,805.6L433.6,806.0ZM438.6,806.0L438.8,805.6L439.1,806.0ZM444.1,806.0L444.3,805.8L444.6,806.0ZM446.6,806.0L446.8,805.5L447.1,806.0ZM448.1,806.0L448.3,805.6L448.6,806.0ZM458.6,806.0L458.8,805.5L459.3,805.8L459.6,806.0ZM463.6,806.0L463.8,805.7L464.1,806.0ZM465.6,806.0L465.8,805.5L466.1,806.0ZM470.1,806.0L470.3,805.6L470.6,806.0ZM482.1,806.0L482.3,805.5L482.6,806.0ZM484.1,806.0L484.3,805.7L484.6,806.0ZM485.6,806.0L485.8,805.5L486.1,806.0ZM487.6,806.0L487.8,805.6L488.1,806.0ZM489.1,806.0L489.3,805.6L489.8,804.1L490.3,803.2L490.8,805.0L491.3,805.8L491.6,806.0ZM492.1,806.0L492.3,805.4L492.6,806.0ZM493.1,806.0L493.3,805.6L493.8,805.8L494.1,806.0ZM495.6,806.0L495.8,805.5L496.1,806.0ZM496.6,806.0L496.8,805.8L497.3,805.5L497.8,805.1L498.3,804.5L498.8,803.6L499.3,802.9L499.8,803.4L500.3,797.1L500.8,798.8L501.3,803.9L501.8,805.6L502.3,805.8L502.6,806.0ZM503.1,806.0L503.3,805.5L503.6,806.0ZM512.5,806.0L512.8,805.7L513.0,806.0ZM518.5,806.0L518.8,805.7L519.0,806.0ZM520.0,806.0L520.3,805.8L520.5,806.0ZM522.0,806.0L522.3,805.8L522.5,806.0ZM524.0,806.0L524.3,805.7L524.8,805.6L525.3,805.8L525.5,806.0ZM527.0,806.0L527.3,805.6L527.5,806.0ZM543.0,806.0L543.3,805.6L543.8,805.1L544.3,805.1L544.8,805.7L545.0,806.0ZM545.5,806.0L545.8,805.8L546.3,805.4L546.5,806.0ZM552.0,806.0L552.3,805.5L552.8,805.4L553.0,806.0ZM555.5,806.0L555.8,805.6L556.0,806.0ZM558.5,806.0L558.8,805.6L559.0,806.0ZM561.0,806.0L561.3,805.4L561.5,806.0ZM564.0,806.0L564.3,805.5L564.5,806.0ZM569.0,806.0L569.3,805.6L569.5,806.0ZM570.5,806.0L570.8,805.5L571.3,805.8L571.5,806.0ZM577.0,806.0L577.3,805.8L577.8,805.7L578.0,806.0ZM581.0,806.0L581.3,805.6L581.5,806.0ZM582.0,806.0L582.3,805.4L582.5,806.0ZM585.5,806.0L585.8,805.7L586.3,805.6L586.8,805.1L587.3,804.7L587.8,804.2L588.3,802.2L588.8,802.9L589.3,802.4L589.8,802.8L590.3,803.1L590.8,803.4L591.3,804.4L591.8,804.7L592.3,799.8L592.8,794.7L593.3,800.4L593.8,805.0L594.0,806.0ZM595.0,806.0L595.3,805.5L595.5,806.0ZM598.0,806.0L598.3,805.4L598.5,806.0ZM599.5,806.0L599.8,805.8L600.3,805.8L600.5,806.0ZM601.5,806.0L601.8,805.6L602.0,806.0ZM605.5,806.0L605.8,805.8L606.0,806.0ZM612.0,806.0L612.3,805.4L612.5,806.0ZM617.5,806.0L617.8,805.8L618.0,806.0ZM622.0,806.0L622.3,805.5L622.5,806.0ZM623.5,806.0L623.8,805.8L624.0,806.0ZM632.0,806.0L632.3,805.5L632.5,806.0ZM633.0,806.0L633.3,805.6L633.5,806.0ZM634.0,806.0L634.3,805.7L634.5,806.0ZM635.5,806.0L635.8,805.4L636.0,806.0ZM637.0,806.0L637.3,805.4L637.5,806.0ZM640.5,806.0L640.8,805.7L641.0,806.0ZM643.5,806.0L643.8,805.6L644.0,806.0ZM646.0,806.0L646.3,805.6L646.5,806.0ZM647.0,806.0L647.3,805.5L647.8,805.5L648.3,805.8L648.5,806.0ZM653.5,806.0L653.8,805.5L654.3,805.7L654.5,806.0ZM656.5,806.0L656.8,805.5L657.0,806.0ZM661.0,806.0L661.3,805.4L661.8,805.5L662.0,806.0ZM662.5,806.0L662.8,805.8L663.3,804.2L663.8,801.4L664.3,800.9L664.8,804.8L665.0,806.0ZM666.0,806.0L666.3,805.5L666.5,806.0ZM667.5,806.0L667.8,805.7L668.3,803.2L668.8,801.6L669.3,804.6L669.5,806.0ZM670.0,806.0L670.3,805.4L670.5,806.0ZM671.0,806.0L671.3,805.5L671.8,805.5L672.0,806.0ZM676.0,806.0L676.3,804.8L676.8,803.1L677.3,805.5L677.5,806.0Z" fill="#e5193a"/><text x="375.3" y="795.4" font-size="2.6" fill="#888">[0 - 2.00]</text><line x1="375.30" y1="811.80" x2="676.80" y2="811.80" stroke="#5a6fbf" stroke-width="0.5" stroke-dasharray="1.5,2.5"/><rect x="470.00" y="810.70" width="18.80" height="2.20" fill="#3b52a8" stroke="none" stroke-width="1"/><rect x="505.00" y="810.80" width="5.00" height="2.00" fill="#3b52a8" stroke="none" stroke-width="1"/><rect x="520.00" y="810.80" width="4.00" height="2.00" fill="#3b52a8" stroke="none" stroke-width="1"/><rect x="535.00" y="810.70" width="17.00" height="2.20" fill="#3b52a8" stroke="none" stroke-width="1"/><rect x="582.00" y="810.70" width="13.00" height="2.20" fill="#3b52a8" stroke="none" stroke-width="1"/><rect x="631.00" y="810.80" width="5.00" height="2.00" fill="#3b52a8" stroke="none" stroke-width="1"/><rect x="659.00" y="810.70" width="19.00" height="2.20" fill="#3b52a8" stroke="none" stroke-width="1"/><text x="412.20" y="823.00" font-size="6.6" fill="#333333" textLength="21.70" lengthAdjust="spacingAndGlyphs">WIPF2</text><text x="511.30" y="824.50" font-size="10.6" fill="#333333" textLength="28.96" lengthAdjust="spacingAndGlyphs">CDC6</text><text x="631.28" y="823.00" font-size="6.6" fill="#333333" textLength="19.06" lengthAdjust="spacingAndGlyphs">RARA</text><line x1="376.70" y1="835.00" x2="512.50" y2="835.00" stroke="#3a3a3a" stroke-width="1.1"/><line x1="545.60" y1="835.00" x2="685.00" y2="835.00" stroke="#3a3a3a" stroke-width="1.1"/><text x="514.79" y="838.70" font-size="10.5" fill="#333333" textLength="28.92" lengthAdjust="spacingAndGlyphs">100kb</text><rect x="373.30" y="838.60" width="305.50" height="76.20" fill="#f6f7f8" stroke="none" stroke-width="1"/><line x1="373.60" y1="838.60" x2="373.60" y2="914.80" stroke="#d8d8d8" stroke-width="0.6"/><line x1="678.50" y1="838.60" x2="678.50" y2="914.80" stroke="#d8d8d8" stroke-width="0.6"/><line x1="373.30" y1="908.20" x2="678.80" y2="908.20" stroke="#e4e4e4" stroke-width="0.6"/><line x1="374.30" y1="851.40" x2="677.80" y2="851.40" stroke="#6a6a6a" stroke-width="0.9"/><path d="M379.6,851.5L379.8,851.3L380.3,851.3L380.6,851.5ZM384.6,851.5L384.8,851.3L385.1,851.5ZM386.6,851.5L386.8,851.2L387.1,851.5ZM387.6,851.5L387.8,851.3L388.3,851.3L388.6,851.5ZM391.1,851.5L391.3,851.3L391.6,851.5ZM395.6,851.5L395.8,851.3L396.1,851.5ZM399.6,851.5L399.8,851.2L400.3,851.3L400.6,851.5ZM401.6,851.5L401.8,851.2L402.1,851.5ZM409.1,851.5L409.3,851.3L409.6,851.5ZM411.6,851.5L411.8,851.3L412.1,851.5ZM412.6,851.5L412.8,851.3L413.1,851.5ZM414.1,851.5L414.3,851.2L414.6,851.5ZM417.1,851.5L417.3,851.3L417.6,851.5ZM418.1,851.5L418.3,851.2L418.6,851.5ZM426.6,851.5L426.8,851.3L427.1,851.5ZM429.1,851.5L429.3,851.1L429.8,850.3L430.3,850.0L430.8,850.1L431.3,850.8L431.8,851.2L432.1,851.5ZM433.1,851.5L433.3,851.2L433.6,851.5ZM435.1,851.5L435.3,851.3L435.6,851.5ZM437.1,851.5L437.3,851.3L437.6,851.5ZM446.1,851.5L446.3,851.3L446.6,851.5ZM448.6,851.5L448.8,851.3L449.1,851.5ZM458.1,851.5L458.3,851.3L458.6,851.5ZM464.1,851.5L464.3,851.3L464.6,851.5ZM469.6,851.5L469.8,851.2L470.3,851.3L470.6,851.5ZM475.1,851.5L475.3,851.3L475.6,851.5ZM477.1,851.5L477.3,851.2L477.6,851.5ZM480.6,851.5L480.8,851.3L481.1,851.5ZM484.1,851.5L484.3,851.3L484.8,851.3L485.1,851.5ZM489.1,851.5L489.3,851.3L489.6,851.5ZM490.6,851.5L490.8,851.3L491.1,851.5ZM495.1,851.5L495.3,851.3L495.6,851.5ZM501.6,851.5L501.8,851.3L502.1,851.5ZM503.1,851.5L503.3,851.2L503.6,851.5ZM505.1,851.5L505.3,851.3L505.6,851.5ZM521.0,851.5L521.3,851.3L521.5,851.5ZM524.5,851.5L524.8,851.3L525.0,851.5ZM531.5,851.5L531.8,851.3L532.0,851.5ZM532.5,851.5L532.8,851.3L533.0,851.5ZM540.5,851.5L540.8,851.3L541.0,851.5ZM543.5,851.5L543.8,851.3L544.0,851.5ZM551.0,851.5L551.3,851.3L551.8,851.2L552.3,850.9L552.8,850.5L553.3,850.1L553.8,850.0L554.3,849.4L554.8,849.2L555.3,847.8L555.8,846.3L556.3,848.5L556.8,850.1L557.3,851.1L557.5,851.5ZM558.0,851.5L558.3,851.3L558.5,851.5ZM560.0,851.5L560.3,851.3L560.5,851.5ZM562.0,851.5L562.3,851.3L562.5,851.5ZM569.0,851.5L569.3,851.3L569.8,851.3L570.0,851.5ZM574.0,851.5L574.3,851.3L574.5,851.5ZM577.0,851.5L577.3,851.3L577.5,851.5ZM579.0,851.5L579.3,850.9L579.8,849.9L580.3,850.0L580.8,851.1L581.0,851.5ZM581.5,851.5L581.8,851.3L582.0,851.5ZM582.5,851.5L582.8,851.3L583.0,851.5ZM583.5,851.5L583.8,851.3L584.0,851.5ZM584.5,851.5L584.8,851.3L585.0,851.5ZM585.5,851.5L585.8,851.3L586.0,851.5ZM591.0,851.5L591.3,851.3L591.8,851.2L592.3,850.8L592.8,850.0L593.3,849.2L593.8,848.9L594.3,848.3L594.8,848.2L595.3,848.8L595.8,845.9L596.3,842.9L596.8,846.4L597.3,850.4L597.5,851.5ZM598.0,851.5L598.3,851.3L598.5,851.5ZM607.0,851.5L607.3,851.3L607.5,851.5ZM610.5,851.5L610.8,851.3L611.0,851.5ZM612.5,851.5L612.8,851.3L613.0,851.5ZM614.0,851.5L614.3,851.3L614.5,851.5ZM624.0,851.5L624.3,851.3L624.5,851.5ZM628.5,851.5L628.8,851.3L629.0,851.5ZM630.5,851.5L630.8,851.0L631.3,849.6L631.8,850.4L632.0,851.5ZM638.5,851.5L638.8,851.2L639.0,851.5ZM640.0,851.5L640.3,851.3L640.5,851.5ZM641.5,851.5L641.8,851.3L642.0,851.5ZM643.0,851.5L643.3,851.2L643.5,851.5ZM648.5,851.5L648.8,851.2L649.0,851.5ZM656.0,851.5L656.3,851.3L656.5,851.5ZM658.0,851.5L658.3,851.3L658.8,851.3L659.0,851.5ZM663.0,851.5L663.3,851.3L663.8,851.3L664.0,851.5ZM664.5,851.5L664.8,851.3L665.0,851.5ZM665.5,851.5L665.8,851.2L666.0,851.5ZM668.5,851.5L668.8,851.2L669.0,851.5ZM674.0,851.5L674.3,851.2L674.5,851.5Z" fill="#4d4d4d"/><text x="375.3" y="840.9" font-size="2.6" fill="#888">[0 - 2.00]</text><line x1="374.30" y1="864.50" x2="677.80" y2="864.50" stroke="#6b7cc2" stroke-width="0.9"/><path d="M379.1,864.6L379.3,864.3L379.6,864.6ZM382.1,864.6L382.3,864.3L382.6,864.6ZM386.6,864.6L386.8,864.3L387.1,864.6ZM389.1,864.6L389.3,864.4L389.6,864.6ZM393.1,864.6L393.3,864.4L393.6,864.6ZM394.6,864.6L394.8,864.4L395.3,864.3L395.6,864.6ZM399.1,864.6L399.3,864.3L399.6,864.6ZM403.1,864.6L403.3,864.4L403.6,864.6ZM408.1,864.6L408.3,864.2L408.6,864.6ZM409.6,864.6L409.8,864.4L410.1,864.6ZM410.6,864.6L410.8,864.4L411.1,864.6ZM411.6,864.6L411.8,864.4L412.1,864.6ZM415.1,864.6L415.3,864.4L415.6,864.6ZM422.6,864.6L422.8,864.3L423.1,864.6ZM426.6,864.6L426.8,864.2L427.1,864.6ZM427.6,864.6L427.8,864.4L428.1,864.6ZM429.1,864.6L429.3,864.2L429.8,863.5L430.3,862.8L430.8,863.0L431.3,863.9L431.8,864.4L432.1,864.6ZM433.6,864.6L433.8,864.4L434.3,864.3L434.8,864.3L435.1,864.6ZM441.1,864.6L441.3,864.4L441.8,864.3L442.1,864.6ZM444.1,864.6L444.3,864.2L444.6,864.6ZM450.1,864.6L450.3,864.2L450.6,864.6ZM453.6,864.6L453.8,864.3L454.3,864.3L454.6,864.6ZM456.6,864.6L456.8,864.4L457.1,864.6ZM459.1,864.6L459.3,864.3L459.6,864.6ZM464.6,864.6L464.8,864.3L465.1,864.6ZM465.6,864.6L465.8,864.4L466.3,864.2L466.6,864.6ZM468.6,864.6L468.8,864.4L469.1,864.6ZM472.6,864.6L472.8,864.3L473.1,864.6ZM474.1,864.6L474.3,864.2L474.8,864.3L475.1,864.6ZM477.1,864.6L477.3,864.4L477.6,864.6ZM485.1,864.6L485.3,864.4L485.6,864.6ZM488.6,864.6L488.8,864.4L489.1,864.6ZM493.1,864.6L493.3,864.3L493.8,864.2L494.1,864.6ZM497.6,864.6L497.8,864.2L498.1,864.6ZM500.1,864.6L500.3,864.3L500.6,864.6ZM503.6,864.6L503.8,864.4L504.1,864.6ZM504.6,864.6L504.8,864.2L505.1,864.6ZM509.1,864.6L509.3,864.3L509.6,864.6ZM511.1,864.6L511.3,864.4L511.6,864.6ZM512.0,864.6L512.3,864.3L512.5,864.6ZM516.0,864.6L516.3,864.3L516.5,864.6ZM521.0,864.6L521.3,864.4L521.5,864.6ZM525.5,864.6L525.8,864.2L526.3,864.2L526.5,864.6ZM527.0,864.6L527.3,864.2L527.5,864.6ZM530.5,864.6L530.8,864.4L531.3,864.4L531.5,864.6ZM535.5,864.6L535.8,864.2L536.0,864.6ZM538.5,864.6L538.8,864.4L539.0,864.6ZM540.0,864.6L540.3,864.4L540.5,864.6ZM546.0,864.6L546.3,864.4L546.5,864.6ZM549.5,864.6L549.8,864.4L550.0,864.6ZM550.5,864.6L550.8,864.2L551.3,864.3L551.8,864.2L552.3,863.9L552.8,863.3L553.3,862.8L553.8,862.4L554.3,862.1L554.8,861.9L555.3,860.1L555.8,859.5L556.3,860.7L556.8,862.9L557.3,864.2L557.8,864.4L558.3,864.4L558.5,864.6ZM559.0,864.6L559.3,864.4L559.5,864.6ZM560.0,864.6L560.3,864.4L560.5,864.6ZM569.5,864.6L569.8,864.3L570.0,864.6ZM572.0,864.6L572.3,864.2L572.8,864.4L573.0,864.6ZM573.5,864.6L573.8,864.2L574.0,864.6ZM575.5,864.6L575.8,864.4L576.0,864.6ZM579.0,864.6L579.3,864.0L579.8,863.0L580.3,863.2L580.8,864.2L581.0,864.6ZM588.5,864.6L588.8,864.4L589.0,864.6ZM591.0,864.6L591.3,864.4L591.8,864.2L592.3,863.7L592.8,863.2L593.3,862.0L593.8,861.1L594.3,860.9L594.8,860.8L595.3,861.2L595.8,858.8L596.3,854.4L596.8,859.0L597.3,863.1L597.8,864.3L598.0,864.6ZM600.0,864.6L600.3,864.4L600.5,864.6ZM602.5,864.6L602.8,864.3L603.0,864.6ZM606.5,864.6L606.8,864.4L607.3,864.3L607.5,864.6ZM608.5,864.6L608.8,864.3L609.0,864.6ZM610.5,864.6L610.8,864.3L611.0,864.6ZM617.0,864.6L617.3,864.4L617.5,864.6ZM619.0,864.6L619.3,864.4L619.5,864.6ZM620.0,864.6L620.3,864.3L620.8,864.3L621.0,864.6ZM621.5,864.6L621.8,864.3L622.0,864.6ZM623.0,864.6L623.3,864.3L623.8,864.2L624.0,864.6ZM629.5,864.6L629.8,864.3L630.0,864.6ZM630.5,864.6L630.8,864.1L631.3,862.9L631.8,863.4L632.0,864.6ZM635.0,864.6L635.3,864.4L635.5,864.6ZM637.5,864.6L637.8,864.4L638.3,864.3L638.5,864.6ZM640.0,864.6L640.3,864.2L640.8,864.4L641.0,864.6ZM642.0,864.6L642.3,864.2L642.5,864.6ZM643.0,864.6L643.3,864.4L643.5,864.6ZM649.5,864.6L649.8,864.3L650.0,864.6ZM651.5,864.6L651.8,864.3L652.0,864.6ZM653.5,864.6L653.8,864.4L654.0,864.6ZM660.0,864.6L660.3,864.4L660.5,864.6ZM661.0,864.6L661.3,864.4L661.5,864.6ZM669.0,864.6L669.3,864.2L669.8,864.4L670.0,864.6ZM672.0,864.6L672.3,864.4L672.5,864.6ZM675.0,864.6L675.3,864.3L675.5,864.6Z" fill="#3b52a8"/><text x="375.3" y="854.0" font-size="2.6" fill="#888">[0 - 2.00]</text><line x1="374.30" y1="877.10" x2="677.80" y2="877.10" stroke="#6b7cc2" stroke-width="0.9"/><path d="M374.6,877.2L374.8,876.8L375.3,877.0L375.6,877.2ZM377.1,877.2L377.3,876.8L377.6,877.2ZM381.6,877.2L381.8,877.0L382.1,877.2ZM388.1,877.2L388.3,876.9L388.6,877.2ZM398.6,877.2L398.8,876.9L399.3,877.0L399.6,877.2ZM400.6,877.2L400.8,877.0L401.1,877.2ZM406.1,877.2L406.3,876.8L406.6,877.2ZM408.1,877.2L408.3,876.9L408.8,876.9L409.3,877.0L409.6,877.2ZM413.1,877.2L413.3,876.9L413.6,877.2ZM414.6,877.2L414.8,877.0L415.1,877.2ZM418.1,877.2L418.3,876.9L418.6,877.2ZM421.6,877.2L421.8,876.9L422.1,877.2ZM424.1,877.2L424.3,876.9L424.6,877.2ZM429.1,877.2L429.3,876.8L429.8,876.0L430.3,875.4L430.8,876.0L431.3,876.6L431.8,876.9L432.1,877.2ZM435.1,877.2L435.3,877.0L435.6,877.2ZM437.6,877.2L437.8,877.0L438.1,877.2ZM440.6,877.2L440.8,876.8L441.1,877.2ZM449.1,877.2L449.3,877.0L449.8,876.9L450.1,877.2ZM456.1,877.2L456.3,876.8L456.6,877.2ZM459.6,877.2L459.8,876.9L460.1,877.2ZM461.1,877.2L461.3,877.0L461.6,877.2ZM463.6,877.2L463.8,876.9L464.1,877.2ZM467.1,877.2L467.3,876.9L467.6,877.2ZM472.1,877.2L472.3,876.9L472.6,877.2ZM480.1,877.2L480.3,876.9L480.6,877.2ZM483.1,877.2L483.3,876.9L483.6,877.2ZM484.1,877.2L484.3,877.0L484.6,877.2ZM486.6,877.2L486.8,876.8L487.1,877.2ZM495.1,877.2L495.3,877.0L495.6,877.2ZM497.6,877.2L497.8,876.9L498.1,877.2ZM502.6,877.2L502.8,877.0L503.1,877.2ZM505.1,877.2L505.3,876.9L505.6,877.2ZM507.6,877.2L507.8,876.8L508.1,877.2ZM509.1,877.2L509.3,876.9L509.6,877.2ZM513.5,877.2L513.8,877.0L514.0,877.2ZM518.0,877.2L518.3,876.9L518.5,877.2ZM520.0,877.2L520.3,877.0L520.5,877.2ZM527.0,877.2L527.3,876.9L527.5,877.2ZM531.0,877.2L531.3,876.8L531.5,877.2ZM534.5,877.2L534.8,876.9L535.3,877.0L535.5,877.2ZM539.0,877.2L539.3,876.9L539.5,877.2ZM540.5,877.2L540.8,877.0L541.0,877.2ZM543.5,877.2L543.8,876.9L544.0,877.2ZM548.0,877.2L548.3,876.9L548.5,877.2ZM549.5,877.2L549.8,876.8L550.0,877.2ZM551.0,877.2L551.3,877.0L551.8,876.9L552.3,876.6L552.8,876.3L553.3,876.0L553.8,875.7L554.3,875.4L554.8,875.0L555.3,873.3L555.8,873.1L556.3,874.1L556.8,875.6L557.3,876.8L557.5,877.2ZM558.0,877.2L558.3,876.9L558.5,877.2ZM563.5,877.2L563.8,876.9L564.0,877.2ZM565.5,877.2L565.8,877.0L566.0,877.2ZM572.0,877.2L572.3,876.8L572.5,877.2ZM579.0,877.2L579.3,876.6L579.8,875.3L580.3,875.8L580.8,876.8L581.3,876.8L581.5,877.2ZM585.5,877.2L585.8,876.8L586.0,877.2ZM588.0,877.2L588.3,877.0L588.5,877.2ZM589.5,877.2L589.8,876.8L590.0,877.2ZM591.0,877.2L591.3,877.0L591.8,876.9L592.3,876.5L592.8,876.0L593.3,875.0L593.8,874.2L594.3,874.0L594.8,873.7L595.3,874.8L595.8,871.9L596.3,869.2L596.8,871.8L597.3,875.9L597.5,877.2ZM598.0,877.2L598.3,877.0L598.8,876.9L599.0,877.2ZM600.0,877.2L600.3,876.9L600.5,877.2ZM609.0,877.2L609.3,876.8L609.5,877.2ZM610.0,877.2L610.3,876.9L610.5,877.2ZM621.5,877.2L621.8,876.8L622.0,877.2ZM625.0,877.2L625.3,877.0L625.5,877.2ZM629.5,877.2L629.8,876.8L630.0,877.2ZM630.5,877.2L630.8,876.7L631.3,875.2L631.8,876.0L632.3,877.0L632.5,877.2ZM634.5,877.2L634.8,877.0L635.0,877.2ZM640.0,877.2L640.3,876.9L640.5,877.2ZM650.0,877.2L650.3,877.0L650.8,876.8L651.0,877.2ZM654.0,877.2L654.3,877.0L654.5,877.2ZM656.0,877.2L656.3,876.9L656.5,877.2ZM657.0,877.2L657.3,876.8L657.5,877.2ZM660.0,877.2L660.3,876.9L660.5,877.2ZM661.0,877.2L661.3,876.9L661.5,877.2ZM662.5,877.2L662.8,876.8L663.0,877.2ZM669.0,877.2L669.3,876.9L669.5,877.2ZM674.0,877.2L674.3,876.9L674.5,877.2Z" fill="#3b52a8"/><text x="375.3" y="866.6" font-size="2.6" fill="#888">[0 - 2.00]</text><line x1="374.30" y1="890.20" x2="677.80" y2="890.20" stroke="#6b7cc2" stroke-width="0.9"/><path d="M376.1,890.3L376.3,890.0L376.6,890.3ZM377.1,890.3L377.3,890.0L377.6,890.3ZM378.6,890.3L378.8,890.0L379.1,890.3ZM383.1,890.3L383.3,890.1L383.6,890.3ZM385.1,890.3L385.3,889.9L385.6,890.3ZM387.1,890.3L387.3,890.1L387.6,890.3ZM391.6,890.3L391.8,889.9L392.1,890.3ZM399.1,890.3L399.3,890.0L399.6,890.3ZM401.6,890.3L401.8,890.1L402.3,890.1L402.6,890.3ZM405.6,890.3L405.8,890.0L406.1,890.3ZM406.6,890.3L406.8,890.1L407.1,890.3ZM407.6,890.3L407.8,889.9L408.1,890.3ZM410.1,890.3L410.3,890.0L410.6,890.3ZM411.1,890.3L411.3,890.0L411.6,890.3ZM412.1,890.3L412.3,889.9L412.6,890.3ZM414.1,890.3L414.3,890.1L414.6,890.3ZM420.1,890.3L420.3,890.0L420.6,890.3ZM421.6,890.3L421.8,890.0L422.1,890.3ZM425.1,890.3L425.3,890.1L425.6,890.3ZM429.1,890.3L429.3,889.9L429.8,889.1L430.3,888.5L430.8,888.6L431.3,889.6L431.8,890.1L432.1,890.3ZM436.6,890.3L436.8,890.1L437.1,890.3ZM438.1,890.3L438.3,890.1L438.6,890.3ZM439.6,890.3L439.8,890.0L440.1,890.3ZM441.6,890.3L441.8,889.9L442.1,890.3ZM448.6,890.3L448.8,890.0L449.1,890.3ZM456.1,890.3L456.3,890.0L456.6,890.3ZM457.1,890.3L457.3,890.1L457.6,890.3ZM462.1,890.3L462.3,890.1L462.6,890.3ZM463.6,890.3L463.8,889.9L464.1,890.3ZM467.1,890.3L467.3,890.0L467.6,890.3ZM469.6,890.3L469.8,890.1L470.1,890.3ZM479.6,890.3L479.8,890.0L480.1,890.3ZM481.1,890.3L481.3,890.0L481.6,890.3ZM483.1,890.3L483.3,890.0L483.6,890.3ZM487.6,890.3L487.8,890.0L488.1,890.3ZM489.1,890.3L489.3,890.1L489.6,890.3ZM491.6,890.3L491.8,890.0L492.1,890.3ZM497.6,890.3L497.8,890.0L498.1,890.3ZM500.1,890.3L500.3,890.1L500.6,890.3ZM503.6,890.3L503.8,889.9L504.1,890.3ZM504.6,890.3L504.8,890.0L505.3,890.0L505.6,890.3ZM506.1,890.3L506.3,890.0L506.6,890.3ZM514.5,890.3L514.8,890.1L515.0,890.3ZM518.0,890.3L518.3,889.9L518.5,890.3ZM531.5,890.3L531.8,890.0L532.0,890.3ZM535.0,890.3L535.3,890.0L535.8,890.1L536.0,890.3ZM540.5,890.3L540.8,889.9L541.0,890.3ZM543.5,890.3L543.8,889.9L544.3,890.1L544.5,890.3ZM546.5,890.3L546.8,890.0L547.0,890.3ZM551.0,890.3L551.3,890.1L551.8,889.9L552.3,889.6L552.8,889.0L553.3,888.8L553.8,888.3L554.3,888.2L554.8,887.6L555.3,885.0L555.8,884.1L556.3,886.5L556.8,888.7L557.3,889.8L557.8,890.1L558.0,890.3ZM558.5,890.3L558.8,890.1L559.3,890.0L559.8,890.1L560.0,890.3ZM562.0,890.3L562.3,890.0L562.5,890.3ZM568.5,890.3L568.8,890.0L569.3,890.1L569.8,890.1L570.0,890.3ZM570.5,890.3L570.8,890.1L571.0,890.3ZM572.0,890.3L572.3,889.9L572.5,890.3ZM573.0,890.3L573.3,890.1L573.5,890.3ZM575.0,890.3L575.3,890.0L575.5,890.3ZM579.0,890.3L579.3,889.7L579.8,888.7L580.3,889.0L580.8,889.9L581.0,890.3ZM584.0,890.3L584.3,890.1L584.5,890.3ZM588.0,890.3L588.3,890.0L588.5,890.3ZM591.0,890.3L591.3,890.1L591.8,889.9L592.3,889.4L592.8,888.8L593.3,887.5L593.8,886.9L594.3,886.8L594.8,886.4L595.3,887.0L595.8,883.8L596.3,879.6L596.8,884.0L597.3,889.0L597.8,890.1L598.3,889.9L598.5,890.3ZM599.5,890.3L599.8,890.1L600.0,890.3ZM602.0,890.3L602.3,890.1L602.5,890.3ZM611.5,890.3L611.8,890.0L612.0,890.3ZM615.0,890.3L615.3,889.9L615.5,890.3ZM619.5,890.3L619.8,889.9L620.0,890.3ZM627.0,890.3L627.3,890.1L627.5,890.3ZM628.5,890.3L628.8,890.0L629.0,890.3ZM629.5,890.3L629.8,890.0L630.0,890.3ZM630.5,890.3L630.8,889.7L631.3,888.2L631.8,889.3L632.0,890.3ZM632.5,890.3L632.8,889.9L633.0,890.3ZM635.0,890.3L635.3,890.1L635.8,890.1L636.0,890.3ZM636.5,890.3L636.8,890.1L637.0,890.3ZM645.0,890.3L645.3,890.1L645.5,890.3ZM649.0,890.3L649.3,890.1L649.5,890.3ZM651.0,890.3L651.3,890.0L651.5,890.3ZM653.0,890.3L653.3,890.0L653.5,890.3ZM668.0,890.3L668.3,890.1L668.8,890.1L669.0,890.3ZM672.5,890.3L672.8,890.0L673.0,890.3Z" fill="#3b52a8"/><text x="375.3" y="879.7" font-size="2.6" fill="#888">[0 - 2.00]</text><line x1="374.30" y1="903.30" x2="677.80" y2="903.30" stroke="#ec5a6e" stroke-width="0.9"/><path d="M376.1,903.4L376.3,903.0L376.6,903.4ZM378.1,903.4L378.3,903.1L378.6,903.4ZM379.1,903.4L379.3,903.1L379.6,903.4ZM380.6,903.4L380.8,903.1L381.1,903.4ZM384.6,903.4L384.8,903.1L385.1,903.4ZM390.6,903.4L390.8,903.1L391.1,903.4ZM394.1,903.4L394.3,903.0L394.6,903.4ZM404.6,903.4L404.8,903.1L405.1,903.4ZM409.1,903.4L409.3,903.2L409.6,903.4ZM410.1,903.4L410.3,903.2L410.6,903.4ZM412.6,903.4L412.8,903.0L413.1,903.4ZM415.6,903.4L415.8,903.0L416.1,903.4ZM419.6,903.4L419.8,903.1L420.1,903.4ZM420.6,903.4L420.8,903.1L421.1,903.4ZM429.1,903.4L429.3,903.0L429.8,902.2L430.3,901.5L430.8,901.7L431.3,902.7L431.8,903.2L432.1,903.4ZM436.6,903.4L436.8,903.1L437.1,903.4ZM445.6,903.4L445.8,903.2L446.3,903.2L446.6,903.4ZM448.6,903.4L448.8,903.2L449.1,903.4ZM451.6,903.4L451.8,903.2L452.1,903.4ZM453.6,903.4L453.8,903.0L454.1,903.4ZM455.1,903.4L455.3,903.2L455.8,903.1L456.1,903.4ZM458.1,903.4L458.3,903.2L458.6,903.4ZM459.1,903.4L459.3,903.2L459.6,903.4ZM460.6,903.4L460.8,903.2L461.1,903.4ZM465.1,903.4L465.3,903.1L465.6,903.4ZM471.1,903.4L471.3,903.1L471.6,903.4ZM476.6,903.4L476.8,903.0L477.1,903.4ZM479.1,903.4L479.3,903.2L479.6,903.4ZM486.6,903.4L486.8,903.1L487.1,903.4ZM494.1,903.4L494.3,903.1L494.6,903.4ZM501.1,903.4L501.3,903.2L501.8,903.1L502.1,903.4ZM502.6,903.4L502.8,903.2L503.1,903.4ZM506.6,903.4L506.8,903.2L507.1,903.4ZM508.1,903.4L508.3,903.1L508.8,903.1L509.1,903.4ZM511.6,903.4L511.8,903.1L512.0,903.4ZM513.0,903.4L513.3,903.2L513.5,903.4ZM515.0,903.4L515.3,903.2L515.5,903.4ZM523.0,903.4L523.3,903.2L523.5,903.4ZM527.5,903.4L527.8,903.0L528.0,903.4ZM533.5,903.4L533.8,903.0L534.3,903.1L534.8,903.2L535.0,903.4ZM540.5,903.4L540.8,903.1L541.0,903.4ZM542.5,903.4L542.8,903.2L543.0,903.4ZM546.0,903.4L546.3,903.1L546.5,903.4ZM549.5,903.4L549.8,903.0L550.0,903.4ZM551.0,903.4L551.3,903.2L551.8,903.1L552.3,902.8L552.8,902.6L553.3,902.1L553.8,901.9L554.3,901.4L554.8,901.3L555.3,899.1L555.8,898.1L556.3,899.9L556.8,901.8L557.3,903.0L557.5,903.4ZM563.0,903.4L563.3,903.2L563.5,903.4ZM564.0,903.4L564.3,903.2L564.5,903.4ZM565.5,903.4L565.8,903.1L566.0,903.4ZM567.5,903.4L567.8,903.1L568.0,903.4ZM568.5,903.4L568.8,903.2L569.0,903.4ZM571.0,903.4L571.3,903.2L571.5,903.4ZM572.0,903.4L572.3,903.1L572.5,903.4ZM574.0,903.4L574.3,903.1L574.5,903.4ZM579.0,903.4L579.3,902.9L579.8,901.6L580.3,901.8L580.8,903.0L581.0,903.4ZM585.5,903.4L585.8,903.1L586.0,903.4ZM591.0,903.4L591.3,903.2L591.8,903.0L592.3,902.4L592.8,901.6L593.3,901.1L593.8,900.0L594.3,899.7L594.8,899.7L595.3,900.6L595.8,896.7L596.3,894.4L596.8,896.7L597.3,902.0L597.8,903.2L598.0,903.4ZM598.5,903.4L598.8,903.2L599.0,903.4ZM600.5,903.4L600.8,903.2L601.0,903.4ZM605.5,903.4L605.8,903.1L606.0,903.4ZM609.0,903.4L609.3,903.1L609.8,903.1L610.0,903.4ZM610.5,903.4L610.8,903.2L611.0,903.4ZM612.0,903.4L612.3,903.0L612.5,903.4ZM613.5,903.4L613.8,903.1L614.0,903.4ZM615.5,903.4L615.8,903.2L616.0,903.4ZM618.5,903.4L618.8,903.2L619.0,903.4ZM627.5,903.4L627.8,903.1L628.0,903.4ZM630.5,903.4L630.8,902.8L631.3,901.7L631.8,902.4L632.3,903.2L632.5,903.4ZM636.0,903.4L636.3,903.0L636.5,903.4ZM638.5,903.4L638.8,903.1L639.0,903.4ZM639.5,903.4L639.8,903.1L640.0,903.4ZM647.0,903.4L647.3,903.1L647.5,903.4ZM649.5,903.4L649.8,903.1L650.0,903.4ZM650.5,903.4L650.8,903.0L651.0,903.4ZM654.0,903.4L654.3,903.1L654.5,903.4ZM655.0,903.4L655.3,903.2L655.5,903.4ZM663.0,903.4L663.3,903.2L663.8,903.2L664.0,903.4ZM665.5,903.4L665.8,903.2L666.0,903.4ZM673.5,903.4L673.8,903.1L674.0,903.4ZM675.5,903.4L675.8,903.2L676.0,903.4Z" fill="#e5193a"/><text x="375.3" y="892.8" font-size="2.6" fill="#888">[0 - 2.00]</text><line x1="375.30" y1="910.80" x2="676.80" y2="910.80" stroke="#5a6fbf" stroke-width="0.5" stroke-dasharray="1.5,2.5"/><rect x="379.00" y="909.70" width="2.00" height="2.20" fill="#3b52a8" stroke="none" stroke-width="1"/><rect x="383.00" y="909.80" width="1.50" height="2.00" fill="#3b52a8" stroke="none" stroke-width="1"/><rect x="386.00" y="909.70" width="2.00" height="2.20" fill="#3b52a8" stroke="none" stroke-width="1"/><rect x="390.00" y="909.80" width="1.00" height="2.00" fill="#3b52a8" stroke="none" stroke-width="1"/><rect x="394.00" y="909.70" width="17.70" height="2.20" fill="#3b52a8" stroke="none" stroke-width="1"/><rect x="420.00" y="909.80" width="1.00" height="2.00" fill="#3b52a8" stroke="none" stroke-width="1"/><rect x="438.00" y="909.80" width="1.00" height="2.00" fill="#3b52a8" stroke="none" stroke-width="1"/><rect x="457.50" y="909.80" width="1.50" height="2.00" fill="#3b52a8" stroke="none" stroke-width="1"/><rect x="470.00" y="909.80" width="1.00" height="2.00" fill="#3b52a8" stroke="none" stroke-width="1"/><rect x="484.00" y="909.70" width="5.00" height="2.20" fill="#3b52a8" stroke="none" stroke-width="1"/><rect x="500.00" y="909.80" width="1.00" height="2.00" fill="#3b52a8" stroke="none" stroke-width="1"/><rect x="520.00" y="909.80" width="1.00" height="2.00" fill="#3b52a8" stroke="none" stroke-width="1"/><rect x="535.00" y="909.80" width="1.00" height="2.00" fill="#3b52a8" stroke="none" stroke-width="1"/><rect x="552.00" y="909.70" width="37.00" height="2.20" fill="#3b52a8" stroke="none" stroke-width="1"/><rect x="595.50" y="909.80" width="1.50" height="2.00" fill="#3b52a8" stroke="none" stroke-width="1"/><rect x="610.00" y="909.80" width="1.00" height="2.00" fill="#3b52a8" stroke="none" stroke-width="1"/><rect x="640.00" y="909.80" width="1.00" height="2.00" fill="#3b52a8" stroke="none" stroke-width="1"/><rect x="660.00" y="909.80" width="1.00" height="2.00" fill="#3b52a8" stroke="none" stroke-width="1"/><text x="408.26" y="920.80" font-size="6.6" fill="#333333" textLength="19.97" lengthAdjust="spacingAndGlyphs">IFTG2</text><text x="458.59" y="920.80" font-size="6.6" fill="#333333" textLength="21.81" lengthAdjust="spacingAndGlyphs">TEX52</text><text x="498.91" y="923.80" font-size="10.6" fill="#333333" textLength="36.31" lengthAdjust="spacingAndGlyphs">FOXM1</text><text x="569.63" y="920.80" font-size="6.6" fill="#333333" textLength="22.25" lengthAdjust="spacingAndGlyphs">RHNO</text><text x="650.70" y="920.80" font-size="6.6" fill="#333333" textLength="20.23" lengthAdjust="spacingAndGlyphs">TULP3</text></svg></body></html>
